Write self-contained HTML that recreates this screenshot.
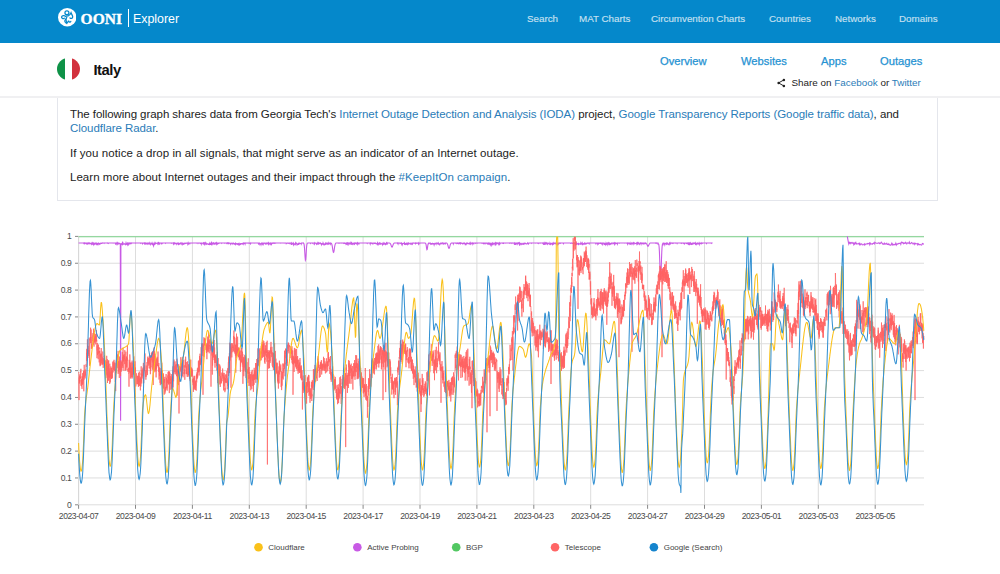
<!DOCTYPE html>
<html><head><meta charset="utf-8"><style>
*{margin:0;padding:0;box-sizing:border-box}
html,body{width:1000px;height:574px;overflow:hidden;background:#fff;font-family:"Liberation Sans",sans-serif;color:#222}
.hdr{position:absolute;left:0;top:0;width:1000px;height:43px;background:#0588cb}
.logo{position:absolute;left:57.5px;top:8.4px}
.ooni{position:absolute;left:80.5px;top:10px;font-family:"Liberation Serif",serif;font-weight:bold;font-size:15.5px;color:#fff;letter-spacing:0.1px;-webkit-text-stroke:0.35px #fff}
.bar{position:absolute;left:127.5px;top:9px;width:1.2px;height:18px;background:#fff}
.expl{position:absolute;left:133px;top:11.5px;font-size:12.4px;color:#fff}
.nav{position:absolute;top:13.2px;font-size:9.8px;color:#c6e0f1;-webkit-text-stroke:0.15px #c6e0f1}
.sub{position:absolute;left:0;top:43px;width:1000px;height:55px;border-bottom:2px solid #f0f0f2}
.flag{position:absolute;left:57px;top:58px;width:22.5px;height:22px;border-radius:50%;overflow:hidden;display:flex}
.flag div{flex:1}
.italy{position:absolute;left:93.5px;top:62px;font-size:14.8px;font-weight:bold;color:#111;letter-spacing:-0.5px}
.tab{position:absolute;top:55px;font-size:11.2px;color:#2592d2;-webkit-text-stroke:0.25px #2592d2}
.share{position:absolute;top:77px;left:791.5px;font-size:9.9px;color:#222;white-space:nowrap}
.shico{position:absolute;left:777px;top:77.5px}
.shico svg,.logo svg{display:block}
.share a{color:#2a7cb8;text-decoration:none}
.box{position:absolute;left:57px;top:98px;width:881px;height:103px;border:1px solid #e4e6ec;border-top:none}
.p{position:absolute;left:70px;font-size:11.5px;line-height:13.7px;color:#222;white-space:nowrap}
.p a{color:#2a7cb8;text-decoration:none}
.chart{position:absolute;left:0;top:0}
</style></head><body>
<div class="hdr">
<div class="logo"><svg width="18.5" height="18.5" viewBox="0 0 20 20"><circle cx="10" cy="10" r="10" fill="#fff"/>
<g fill="none" stroke="#0588cb" stroke-width="1.2" stroke-linecap="round" transform="translate(10 10) scale(1.13) translate(-9.6 -9.9)">
<circle cx="9.3" cy="5.6" r="1.9"/>
<path d="M9.4 7.5C9.6 9 9.2 10.5 8.4 11.6"/>
<path d="M8.2 9.2C6.8 8 4.6 8.3 4.2 9.6C3.9 11 5.6 11.6 6.8 10.8"/>
<path d="M10.6 8.6C12 8.2 12.6 6.8 13.2 5.6C13.6 7 14.8 8 14.8 9.6C14.8 11 13.2 11.4 12.2 10.6"/>
<path d="M8.4 11.6C7.2 12.6 6.8 14.2 8 15C9.2 15.6 10.6 14.6 10.8 13.2C11 14.6 12.6 15 13 13.8"/>
<path d="M8.4 12.5L9.2 16"/>
</g></svg></div>
<div class="ooni">OONI</div><div class="bar"></div><div class="expl">Explorer</div>
<div class="nav" style="left:527px">Search</div>
<div class="nav" style="left:579px">MAT Charts</div>
<div class="nav" style="left:651px">Circumvention Charts</div>
<div class="nav" style="left:769px">Countries</div>
<div class="nav" style="left:835px">Networks</div>
<div class="nav" style="left:899px">Domains</div>
</div>
<div class="sub"></div>
<div class="flag"><div style="background:#0f9247"></div><div style="background:#fff"></div><div style="background:#d2313d"></div></div>
<div class="italy">Italy</div>
<div class="tab" style="left:660px">Overview</div>
<div class="tab" style="left:741px">Websites</div>
<div class="tab" style="left:821px">Apps</div>
<div class="tab" style="left:880px">Outages</div>
<div class="shico"><svg width="9" height="10" viewBox="0 0 9 10"><circle cx="6.9" cy="1.9" r="1.25" fill="#222"/><circle cx="1.6" cy="4.9" r="1.25" fill="#222"/><circle cx="6.9" cy="8" r="1.25" fill="#222"/><path d="M6.9 1.9L1.6 4.9L6.9 8" stroke="#222" stroke-width="1" fill="none"/></svg></div><div class="share">Share on <a>Facebook</a> or <a>Twitter</a></div>
<div class="box"></div>
<div class="p" style="top:108px;letter-spacing:-0.06px">The following graph shares data from Georgia Tech's <a>Internet Outage Detection and Analysis (IODA)</a> project, <a>Google Transparency Reports (Google traffic data)</a>, and<br><a>Cloudflare Radar</a>.</div>
<div class="p" style="top:147px;letter-spacing:0.07px">If you notice a drop in all signals, that might serve as an indicator of an Internet outage.</div>
<div class="p" style="top:170.8px;letter-spacing:0.03px">Learn more about Internet outages and their impact through the <a>#KeepItOn campaign</a>.</div>
<svg class="chart" width="1000" height="574" viewBox="0 0 1000 574" font-family="Liberation Sans, sans-serif" font-size="8" fill="#4a4a4a"><line x1="78.6" y1="504.80" x2="924.0" y2="504.80" stroke="#dddddd" stroke-width="1"/><line x1="75.0" y1="504.80" x2="78.6" y2="504.80" stroke="#888" stroke-width="1"/><text x="71.39999999999999" y="507.50" text-anchor="end" font-size="8.6" letter-spacing="-0.4">0</text><line x1="78.6" y1="477.96" x2="924.0" y2="477.96" stroke="#dddddd" stroke-width="1"/><line x1="75.0" y1="477.96" x2="78.6" y2="477.96" stroke="#888" stroke-width="1"/><text x="71.39999999999999" y="480.66" text-anchor="end" font-size="8.6" letter-spacing="-0.4">0.1</text><line x1="78.6" y1="451.12" x2="924.0" y2="451.12" stroke="#dddddd" stroke-width="1"/><line x1="75.0" y1="451.12" x2="78.6" y2="451.12" stroke="#888" stroke-width="1"/><text x="71.39999999999999" y="453.82" text-anchor="end" font-size="8.6" letter-spacing="-0.4">0.2</text><line x1="78.6" y1="424.28" x2="924.0" y2="424.28" stroke="#dddddd" stroke-width="1"/><line x1="75.0" y1="424.28" x2="78.6" y2="424.28" stroke="#888" stroke-width="1"/><text x="71.39999999999999" y="426.98" text-anchor="end" font-size="8.6" letter-spacing="-0.4">0.3</text><line x1="78.6" y1="397.44" x2="924.0" y2="397.44" stroke="#dddddd" stroke-width="1"/><line x1="75.0" y1="397.44" x2="78.6" y2="397.44" stroke="#888" stroke-width="1"/><text x="71.39999999999999" y="400.14" text-anchor="end" font-size="8.6" letter-spacing="-0.4">0.4</text><line x1="78.6" y1="370.60" x2="924.0" y2="370.60" stroke="#dddddd" stroke-width="1"/><line x1="75.0" y1="370.60" x2="78.6" y2="370.60" stroke="#888" stroke-width="1"/><text x="71.39999999999999" y="373.30" text-anchor="end" font-size="8.6" letter-spacing="-0.4">0.5</text><line x1="78.6" y1="343.76" x2="924.0" y2="343.76" stroke="#dddddd" stroke-width="1"/><line x1="75.0" y1="343.76" x2="78.6" y2="343.76" stroke="#888" stroke-width="1"/><text x="71.39999999999999" y="346.46" text-anchor="end" font-size="8.6" letter-spacing="-0.4">0.6</text><line x1="78.6" y1="316.92" x2="924.0" y2="316.92" stroke="#dddddd" stroke-width="1"/><line x1="75.0" y1="316.92" x2="78.6" y2="316.92" stroke="#888" stroke-width="1"/><text x="71.39999999999999" y="319.62" text-anchor="end" font-size="8.6" letter-spacing="-0.4">0.7</text><line x1="78.6" y1="290.08" x2="924.0" y2="290.08" stroke="#dddddd" stroke-width="1"/><line x1="75.0" y1="290.08" x2="78.6" y2="290.08" stroke="#888" stroke-width="1"/><text x="71.39999999999999" y="292.78" text-anchor="end" font-size="8.6" letter-spacing="-0.4">0.8</text><line x1="78.6" y1="263.24" x2="924.0" y2="263.24" stroke="#dddddd" stroke-width="1"/><line x1="75.0" y1="263.24" x2="78.6" y2="263.24" stroke="#888" stroke-width="1"/><text x="71.39999999999999" y="265.94" text-anchor="end" font-size="8.6" letter-spacing="-0.4">0.9</text><line x1="78.6" y1="236.40" x2="924.0" y2="236.40" stroke="#dddddd" stroke-width="1"/><line x1="75.0" y1="236.40" x2="78.6" y2="236.40" stroke="#888" stroke-width="1"/><text x="71.39999999999999" y="239.10" text-anchor="end" font-size="8.6" letter-spacing="-0.4">1</text><line x1="78.60" y1="236.40" x2="78.60" y2="504.8" stroke="#dddddd" stroke-width="1"/><line x1="78.60" y1="504.8" x2="78.60" y2="508.8" stroke="#888" stroke-width="1"/><text x="78.60" y="519.4" text-anchor="middle" font-size="8.6" letter-spacing="-0.45">2023-04-07</text><line x1="135.50" y1="236.40" x2="135.50" y2="504.8" stroke="#dddddd" stroke-width="1"/><line x1="135.50" y1="504.8" x2="135.50" y2="508.8" stroke="#888" stroke-width="1"/><text x="135.50" y="519.4" text-anchor="middle" font-size="8.6" letter-spacing="-0.45">2023-04-09</text><line x1="192.40" y1="236.40" x2="192.40" y2="504.8" stroke="#dddddd" stroke-width="1"/><line x1="192.40" y1="504.8" x2="192.40" y2="508.8" stroke="#888" stroke-width="1"/><text x="192.40" y="519.4" text-anchor="middle" font-size="8.6" letter-spacing="-0.45">2023-04-11</text><line x1="249.30" y1="236.40" x2="249.30" y2="504.8" stroke="#dddddd" stroke-width="1"/><line x1="249.30" y1="504.8" x2="249.30" y2="508.8" stroke="#888" stroke-width="1"/><text x="249.30" y="519.4" text-anchor="middle" font-size="8.6" letter-spacing="-0.45">2023-04-13</text><line x1="306.20" y1="236.40" x2="306.20" y2="504.8" stroke="#dddddd" stroke-width="1"/><line x1="306.20" y1="504.8" x2="306.20" y2="508.8" stroke="#888" stroke-width="1"/><text x="306.20" y="519.4" text-anchor="middle" font-size="8.6" letter-spacing="-0.45">2023-04-15</text><line x1="363.10" y1="236.40" x2="363.10" y2="504.8" stroke="#dddddd" stroke-width="1"/><line x1="363.10" y1="504.8" x2="363.10" y2="508.8" stroke="#888" stroke-width="1"/><text x="363.10" y="519.4" text-anchor="middle" font-size="8.6" letter-spacing="-0.45">2023-04-17</text><line x1="420.00" y1="236.40" x2="420.00" y2="504.8" stroke="#dddddd" stroke-width="1"/><line x1="420.00" y1="504.8" x2="420.00" y2="508.8" stroke="#888" stroke-width="1"/><text x="420.00" y="519.4" text-anchor="middle" font-size="8.6" letter-spacing="-0.45">2023-04-19</text><line x1="476.90" y1="236.40" x2="476.90" y2="504.8" stroke="#dddddd" stroke-width="1"/><line x1="476.90" y1="504.8" x2="476.90" y2="508.8" stroke="#888" stroke-width="1"/><text x="476.90" y="519.4" text-anchor="middle" font-size="8.6" letter-spacing="-0.45">2023-04-21</text><line x1="533.80" y1="236.40" x2="533.80" y2="504.8" stroke="#dddddd" stroke-width="1"/><line x1="533.80" y1="504.8" x2="533.80" y2="508.8" stroke="#888" stroke-width="1"/><text x="533.80" y="519.4" text-anchor="middle" font-size="8.6" letter-spacing="-0.45">2023-04-23</text><line x1="590.70" y1="236.40" x2="590.70" y2="504.8" stroke="#dddddd" stroke-width="1"/><line x1="590.70" y1="504.8" x2="590.70" y2="508.8" stroke="#888" stroke-width="1"/><text x="590.70" y="519.4" text-anchor="middle" font-size="8.6" letter-spacing="-0.45">2023-04-25</text><line x1="647.60" y1="236.40" x2="647.60" y2="504.8" stroke="#dddddd" stroke-width="1"/><line x1="647.60" y1="504.8" x2="647.60" y2="508.8" stroke="#888" stroke-width="1"/><text x="647.60" y="519.4" text-anchor="middle" font-size="8.6" letter-spacing="-0.45">2023-04-27</text><line x1="704.50" y1="236.40" x2="704.50" y2="504.8" stroke="#dddddd" stroke-width="1"/><line x1="704.50" y1="504.8" x2="704.50" y2="508.8" stroke="#888" stroke-width="1"/><text x="704.50" y="519.4" text-anchor="middle" font-size="8.6" letter-spacing="-0.45">2023-04-29</text><line x1="761.40" y1="236.40" x2="761.40" y2="504.8" stroke="#dddddd" stroke-width="1"/><line x1="761.40" y1="504.8" x2="761.40" y2="508.8" stroke="#888" stroke-width="1"/><text x="761.40" y="519.4" text-anchor="middle" font-size="8.6" letter-spacing="-0.45">2023-05-01</text><line x1="818.30" y1="236.40" x2="818.30" y2="504.8" stroke="#dddddd" stroke-width="1"/><line x1="818.30" y1="504.8" x2="818.30" y2="508.8" stroke="#888" stroke-width="1"/><text x="818.30" y="519.4" text-anchor="middle" font-size="8.6" letter-spacing="-0.45">2023-05-03</text><line x1="875.20" y1="236.40" x2="875.20" y2="504.8" stroke="#dddddd" stroke-width="1"/><line x1="875.20" y1="504.8" x2="875.20" y2="508.8" stroke="#888" stroke-width="1"/><text x="875.20" y="519.4" text-anchor="middle" font-size="8.6" letter-spacing="-0.45">2023-05-05</text><line x1="78.6" y1="236.40" x2="78.6" y2="504.8" stroke="#d8d8d8" stroke-width="1"/><path d="M78.6 236.7L924.0 236.7" stroke="#7dd48b" stroke-width="1.1" fill="none"/><path d="M78.6 243.0L78.9 243.0L79.2 243.0L79.5 243.0L79.8 243.0L80.1 243.0L80.4 243.0L80.7 243.0L81.0 243.0L81.3 243.0L81.6 243.0L81.9 243.0L82.2 243.0L82.5 243.0L82.8 243.0L83.1 243.0L83.4 243.1L83.7 243.0L84.0 243.5L84.3 243.2L84.6 243.6L84.9 243.0L85.2 243.3L85.5 243.0L85.8 243.0L86.1 243.0L86.4 244.3L86.7 243.0L87.0 243.0L87.3 243.0L87.6 243.8L87.9 243.2L88.2 243.6L88.5 243.5L88.8 243.0L89.1 243.6L89.4 243.2L89.7 243.0L90.0 243.6L90.3 243.4L90.6 243.3L90.9 243.4L91.2 244.2L91.5 243.5L91.8 243.0L92.1 244.6L92.4 243.1L92.7 243.6L93.0 244.1L93.3 243.0L93.6 243.2L93.9 244.5L94.2 243.7L94.5 243.4L94.8 243.9L95.1 243.3L95.4 243.8L95.7 243.3L96.0 243.0L96.3 244.2L96.6 243.6L96.9 244.0L97.2 243.6L97.5 244.5L97.8 244.0L98.1 243.8L98.4 243.0L98.7 243.0L99.0 244.4L99.3 244.0L99.6 243.0L99.9 244.7L100.2 243.7L100.5 243.4L100.8 243.0L101.1 243.0L101.4 243.4L101.7 243.4L102.0 243.2L102.3 243.0L102.6 243.2L102.9 243.1L103.2 243.0L103.5 243.0L103.8 243.0L104.1 243.4L104.4 243.0L104.7 243.0L105.0 243.0L105.3 243.0L105.6 243.0L105.9 243.0L106.2 243.0L106.5 243.0L106.8 243.0L107.1 243.0L107.4 243.1L107.7 243.0L108.0 243.3L108.3 243.5L108.6 243.0L108.9 243.0L109.2 243.0L109.5 243.0L109.8 243.0L110.1 243.0L110.4 243.0L110.7 243.0L111.0 243.0L111.3 243.0L111.6 243.0L111.9 243.0L112.2 243.0L112.5 243.0L112.8 243.0L113.1 243.1L113.4 243.0L113.7 243.0L114.0 243.0L114.3 243.0L114.6 243.0L114.9 243.0L115.2 243.0L115.5 244.0L115.8 243.5L116.1 243.0L116.4 244.3L116.7 243.0L117.0 244.1L117.3 243.0L117.6 243.7L117.9 243.0L118.2 243.1L118.5 244.3L118.8 243.0L119.1 243.0L119.4 243.5L119.7 243.6L120.0 243.6L120.3 244.2L120.6 420.8L120.9 244.0L121.2 243.7L121.5 244.2L121.8 244.1L122.1 244.5L122.4 243.0L122.7 243.9L123.0 243.1L123.3 243.8L123.6 244.2L123.9 244.0L124.2 244.1L124.5 243.8L124.8 244.0L125.1 243.9L125.4 244.6L125.7 244.2L126.0 243.0L126.3 244.1L126.6 244.3L126.9 243.4L127.2 243.0L127.5 244.5L127.8 243.6L128.1 243.9L128.4 244.5L128.7 243.0L129.0 243.3L129.3 243.2L129.6 243.7L129.9 243.0L130.2 243.5L130.5 243.2L130.8 243.7L131.1 243.7L131.4 243.0L131.7 243.2L132.0 243.0L132.3 243.0L132.6 243.0L132.9 243.0L133.2 243.0L133.5 243.0L133.8 243.0L134.1 243.0L134.4 243.0L134.7 243.0L135.0 243.0L135.3 243.0L135.6 243.2L135.9 243.0L136.2 243.0L136.5 243.0L136.8 243.0L137.1 243.0L137.4 243.0L137.7 243.0L138.0 243.0L138.3 243.0L138.6 243.0L138.9 243.0L139.2 243.0L139.5 243.0L139.8 243.0L140.1 243.0L140.4 243.0L140.7 243.4L141.0 243.0L141.3 243.0L141.6 243.0L141.9 243.0L142.2 243.5L142.5 243.9L142.8 243.0L143.1 243.0L143.4 243.0L143.7 243.0L144.0 243.3L144.3 243.8L144.6 243.0L144.9 243.5L145.2 244.0L145.5 243.0L145.8 243.1L146.1 243.0L146.4 243.8L146.7 243.7L147.0 243.9L147.3 243.9L147.6 243.3L147.9 243.9L148.2 243.2L148.5 243.3L148.8 243.0L149.1 244.5L149.4 243.0L149.7 243.7L150.0 243.7L150.3 244.6L150.6 244.0L150.9 243.3L151.2 243.8L151.5 243.7L151.8 244.0L152.1 243.0L152.4 243.8L152.7 245.2L153.0 244.2L153.3 245.0L153.6 245.8L153.9 244.1L154.2 243.0L154.5 243.7L154.8 244.4L155.1 244.2L155.4 243.0L155.7 243.5L156.0 243.5L156.3 243.5L156.6 243.4L156.9 243.0L157.2 243.0L157.5 243.2L157.8 243.9L158.1 243.0L158.4 243.6L158.7 243.0L159.0 243.9L159.3 243.1L159.6 243.0L159.9 243.7L160.2 243.0L160.5 243.0L160.8 243.0L161.1 243.0L161.4 243.0L161.7 244.3L162.0 243.0L162.3 243.0L162.6 243.0L162.9 243.1L163.2 243.0L163.5 243.0L163.8 243.0L164.1 243.0L164.4 243.0L164.7 243.0L165.0 243.0L165.3 243.0L165.6 243.4L165.9 243.0L166.2 243.0L166.5 243.0L166.8 243.0L167.1 243.0L167.4 243.0L167.7 243.0L168.0 243.0L168.3 243.0L168.6 243.0L168.9 243.0L169.2 243.0L169.5 243.0L169.8 243.0L170.1 243.0L170.4 243.0L170.7 243.0L171.0 243.0L171.3 243.3L171.6 243.0L171.9 243.0L172.2 243.0L172.5 243.0L172.8 243.0L173.1 243.0L173.4 244.0L173.7 243.1L174.0 243.6L174.3 243.0L174.6 243.6L174.9 243.0L175.2 243.0L175.5 243.5L175.8 243.7L176.1 243.3L176.4 243.4L176.7 244.1L177.0 243.2L177.3 243.0L177.6 243.8L177.9 243.8L178.2 244.3L178.5 243.5L178.8 244.5L179.1 244.4L179.4 243.0L179.7 244.3L180.0 243.1L180.3 243.0L180.6 243.6L180.9 243.4L181.2 243.0L181.5 243.9L181.8 244.1L182.1 244.6L182.4 243.7L182.7 243.0L183.0 243.1L183.3 244.3L183.6 244.2L183.9 243.9L184.2 243.4L184.5 243.7L184.8 243.3L185.1 243.2L185.4 243.6L185.7 243.4L186.0 243.2L186.3 243.3L186.6 243.0L186.9 243.0L187.2 243.0L187.5 243.0L187.8 244.1L188.1 243.0L188.4 244.1L188.7 243.7L189.0 243.0L189.3 243.0L189.6 243.0L189.9 243.7L190.2 243.0L190.5 243.0L190.8 243.0L191.1 243.0L191.4 243.0L191.7 243.0L192.0 243.1L192.3 243.0L192.6 243.0L192.9 243.0L193.2 243.0L193.5 243.0L193.8 243.0L194.1 243.0L194.4 243.0L194.7 243.0L195.0 243.0L195.3 243.0L195.6 243.0L195.9 243.0L196.2 243.0L196.5 243.1L196.8 243.0L197.1 243.0L197.4 243.0L197.7 243.0L198.0 243.5L198.3 243.0L198.6 243.0L198.9 243.0L199.2 243.0L199.5 243.0L199.8 243.0L200.1 243.4L200.4 243.3L200.7 243.0L201.0 243.0L201.3 244.1L201.6 243.0L201.9 243.0L202.2 243.0L202.5 243.3L202.8 243.3L203.1 243.9L203.4 243.0L203.7 243.4L204.0 243.0L204.3 243.8L204.6 243.3L204.9 244.5L205.2 243.7L205.5 243.0L205.8 244.4L206.1 243.0L206.4 243.4L206.7 244.3L207.0 244.0L207.3 244.0L207.6 243.8L207.9 244.1L208.2 244.3L208.5 244.0L208.8 244.4L209.1 244.6L209.4 243.8L209.7 243.2L210.0 244.8L210.3 243.8L210.6 244.2L210.9 244.4L211.2 243.2L211.5 244.0L211.8 243.0L212.1 244.1L212.4 243.3L212.7 243.7L213.0 244.0L213.3 243.1L213.6 243.5L213.9 243.0L214.2 243.4L214.5 244.0L214.8 243.3L215.1 243.2L215.4 243.0L215.7 243.7L216.0 243.1L216.3 244.1L216.6 243.0L216.9 243.6L217.2 244.0L217.5 243.0L217.8 243.0L218.1 243.6L218.4 243.3L218.7 243.1L219.0 243.3L219.3 243.0L219.6 243.0L219.9 243.0L220.2 243.0L220.5 243.0L220.8 243.0L221.1 243.0L221.4 243.0L221.7 243.4L222.0 243.0L222.3 243.0L222.6 243.0L222.9 243.0L223.2 243.0L223.5 243.0L223.8 243.0L224.1 243.0L224.4 243.2L224.7 243.0L225.0 243.1L225.3 243.0L225.6 243.0L225.9 243.0L226.2 243.2L226.5 243.0L226.8 243.0L227.1 244.2L227.4 243.0L227.7 243.2L228.0 243.0L228.3 243.3L228.6 243.0L228.9 243.7L229.2 243.4L229.5 243.0L229.8 243.0L230.1 243.2L230.4 243.5L230.7 244.2L231.0 243.3L231.3 243.1L231.6 243.2L231.9 243.3L232.2 244.0L232.5 243.4L232.8 243.4L233.1 243.0L233.4 243.0L233.7 243.6L234.0 244.0L234.3 243.6L234.6 244.0L234.9 244.1L235.2 243.7L235.5 244.4L235.8 243.3L236.1 243.8L236.4 243.6L236.7 243.9L237.0 244.2L237.3 244.4L237.6 243.9L237.9 244.1L238.2 243.6L238.5 243.8L238.8 244.6L239.1 243.7L239.4 244.6L239.7 244.1L240.0 243.9L240.3 245.0L240.6 243.6L240.9 243.5L241.2 243.6L241.5 243.8L241.8 243.7L242.1 244.1L242.4 243.6L242.7 243.7L243.0 243.2L243.3 244.0L243.6 243.0L243.9 243.0L244.2 243.2L244.5 243.3L244.8 243.0L245.1 244.0L245.4 243.0L245.7 243.0L246.0 243.0L246.3 243.0L246.6 243.1L246.9 243.0L247.2 243.0L247.5 243.0L247.8 243.0L248.1 243.4L248.4 243.0L248.7 243.0L249.0 243.0L249.3 243.0L249.6 243.3L249.9 243.0L250.2 243.0L250.5 243.8L250.8 243.0L251.1 243.1L251.4 243.0L251.7 243.0L252.0 243.0L252.3 243.0L252.6 243.0L252.9 243.0L253.2 243.0L253.5 243.0L253.8 243.0L254.1 243.1L254.4 243.0L254.7 243.0L255.0 243.0L255.3 243.0L255.6 243.0L255.9 243.0L256.2 243.0L256.5 243.0L256.8 243.0L257.1 243.0L257.4 243.0L257.7 243.0L258.0 243.0L258.3 243.5L258.6 244.0L258.9 243.0L259.2 243.0L259.5 243.0L259.8 244.2L260.1 243.4L260.4 243.6L260.7 243.8L261.0 244.8L261.3 243.6L261.6 243.0L261.9 243.2L262.2 243.9L262.5 243.5L262.8 243.1L263.1 245.4L263.4 243.7L263.7 243.3L264.0 243.3L264.3 243.0L264.6 243.0L264.9 243.6L265.2 243.6L265.5 243.3L265.8 244.1L266.1 243.8L266.4 243.2L266.7 243.0L267.0 243.9L267.3 243.8L267.6 243.6L267.9 243.0L268.2 243.7L268.5 243.0L268.8 244.3L269.1 243.7L269.4 243.7L269.7 243.0L270.0 243.0L270.3 244.4L270.6 244.0L270.9 243.2L271.2 243.7L271.5 244.3L271.8 243.0L272.1 243.0L272.4 243.0L272.7 243.4L273.0 243.0L273.3 243.1L273.6 243.0L273.9 243.4L274.2 243.4L274.5 243.0L274.8 243.2L275.1 243.0L275.4 243.0L275.7 243.2L276.0 243.0L276.3 243.0L276.6 243.0L276.9 243.0L277.2 243.0L277.5 243.0L277.8 243.0L278.1 243.0L278.4 243.0L278.7 243.0L279.0 243.0L279.3 243.0L279.6 243.0L279.9 243.0L280.2 243.0L280.5 243.0L280.8 243.2L281.1 243.1L281.4 243.0L281.7 243.0L282.0 243.0L282.3 243.0L282.6 243.0L282.9 243.0L283.2 243.0L283.5 243.0L283.8 243.0L284.1 243.1L284.4 243.0L284.7 243.0L285.0 243.0L285.3 243.0L285.6 243.0L285.9 243.0L286.2 243.8L286.5 243.5L286.8 243.1L287.1 243.0L287.4 243.0L287.7 243.1L288.0 243.0L288.3 243.0L288.6 243.3L288.9 243.5L289.2 243.0L289.5 243.0L289.8 243.0L290.1 243.7L290.4 243.0L290.7 243.0L291.0 243.2L291.3 243.1L291.6 244.9L291.9 243.2L292.2 243.8L292.5 243.4L292.8 243.3L293.1 244.0L293.4 244.8L293.7 243.5L294.0 244.3L294.3 244.0L294.6 244.2L294.9 244.0L295.2 245.3L295.5 243.0L295.8 243.6L296.1 243.0L296.4 243.0L296.7 243.7L297.0 244.8L297.3 244.2L297.6 244.4L297.9 243.9L298.2 243.5L298.5 244.8L298.8 243.2L299.1 244.4L299.4 243.2L299.7 243.4L300.0 243.5L300.3 243.3L300.6 243.5L300.9 243.5L301.2 244.1L301.5 243.0L301.8 243.0L302.1 243.0L302.4 243.0L302.7 243.0L303.0 243.2L303.3 243.0L303.6 243.2L303.9 243.7L304.2 245.2L304.5 248.1L304.8 252.6L305.1 257.4L305.4 260.3L305.7 259.7L306.0 255.9L306.3 251.0L306.6 246.9L306.9 244.5L307.2 243.5L307.5 243.1L307.8 243.0L308.1 243.0L308.4 243.0L308.7 243.0L309.0 243.0L309.3 243.0L309.6 243.0L309.9 243.0L310.2 243.0L310.5 243.5L310.8 243.0L311.1 243.0L311.4 243.0L311.7 243.0L312.0 243.0L312.3 243.4L312.6 243.0L312.9 243.0L313.2 243.0L313.5 243.0L313.8 243.2L314.1 244.0L314.4 243.0L314.7 243.7L315.0 243.2L315.3 243.0L315.6 243.0L315.9 243.0L316.2 243.2L316.5 244.1L316.8 243.6L317.1 243.8L317.4 244.0L317.7 243.0L318.0 243.8L318.3 244.7L318.6 243.0L318.9 243.5L319.2 243.3L319.5 243.5L319.8 243.2L320.1 243.6L320.4 243.0L320.7 243.4L321.0 243.5L321.3 243.5L321.6 244.7L321.9 243.9L322.2 243.9L322.5 243.6L322.8 244.7L323.1 243.0L323.4 243.7L323.7 244.6L324.0 244.9L324.3 243.9L324.6 243.8L324.9 244.2L325.2 243.6L325.5 244.1L325.8 243.3L326.1 244.1L326.4 243.6L326.7 243.0L327.0 243.0L327.3 244.1L327.6 243.7L327.9 243.9L328.2 243.0L328.5 244.0L328.8 243.5L329.1 243.2L329.4 243.7L329.7 243.7L330.0 243.3L330.3 244.3L330.6 243.8L330.9 243.1L331.2 243.2L331.5 243.6L331.8 244.3L332.1 245.4L332.4 247.1L332.7 249.1L333.0 251.0L333.3 252.2L333.6 252.4L333.9 251.5L334.2 249.8L334.5 247.7L334.8 245.9L335.1 244.6L335.4 243.8L335.7 243.3L336.0 243.1L336.3 243.0L336.6 243.0L336.9 243.0L337.2 243.0L337.5 243.0L337.8 243.0L338.1 243.0L338.4 243.0L338.7 243.0L339.0 243.4L339.3 243.0L339.6 243.0L339.9 243.0L340.2 243.0L340.5 243.0L340.8 243.0L341.1 243.2L341.4 243.0L341.7 243.0L342.0 243.0L342.3 243.0L342.6 243.0L342.9 243.0L343.2 243.4L343.5 243.0L343.8 243.0L344.1 243.0L344.4 243.3L344.7 243.0L345.0 243.3L345.3 243.1L345.6 243.3L345.9 244.0L346.2 243.3L346.5 243.0L346.8 244.0L347.1 243.6L347.4 243.1L347.7 244.2L348.0 243.4L348.3 244.3L348.6 243.0L348.9 243.0L349.2 243.0L349.5 243.8L349.8 243.3L350.1 243.7L350.4 243.7L350.7 243.0L351.0 244.6L351.3 243.1L351.6 243.8L351.9 243.0L352.2 243.6L352.5 244.2L352.8 243.6L353.1 243.3L353.4 243.7L353.7 243.4L354.0 244.0L354.3 245.0L354.6 243.0L354.9 243.1L355.2 243.4L355.5 243.4L355.8 243.0L356.1 243.7L356.4 243.8L356.7 243.4L357.0 243.0L357.3 244.1L357.6 243.0L357.9 243.5L358.2 243.8L358.5 243.0L358.8 243.0L359.1 243.7L359.4 243.1L359.7 243.0L360.0 243.0L360.3 243.0L360.6 243.0L360.9 243.0L361.2 243.0L361.5 243.0L361.8 243.0L362.1 243.0L362.4 243.0L362.7 243.0L363.0 243.0L363.3 243.0L363.6 243.0L363.9 243.0L364.2 243.0L364.5 243.0L364.8 243.0L365.1 243.0L365.4 243.0L365.7 243.0L366.0 243.0L366.3 243.0L366.6 243.0L366.9 243.0L367.2 243.5L367.5 243.0L367.8 243.0L368.1 243.0L368.4 243.0L368.7 243.0L369.0 243.0L369.3 243.0L369.6 243.0L369.9 243.0L370.2 244.0L370.5 243.0L370.8 243.3L371.1 243.0L371.4 243.0L371.7 243.4L372.0 243.0L372.3 243.5L372.6 243.5L372.9 244.0L373.2 243.1L373.5 243.0L373.8 243.0L374.1 243.3L374.4 243.0L374.7 243.3L375.0 243.4L375.3 243.0L375.6 243.0L375.9 243.7L376.2 243.7L376.5 243.7L376.8 243.5L377.1 244.2L377.4 243.0L377.7 243.9L378.0 243.4L378.3 244.3L378.6 243.5L378.9 243.5L379.2 244.0L379.5 243.0L379.8 243.5L380.1 243.0L380.4 243.2L380.7 244.2L381.0 244.0L381.3 243.5L381.6 243.7L381.9 243.7L382.2 243.9L382.5 244.8L382.8 243.8L383.1 245.0L383.4 243.3L383.7 244.0L384.0 243.9L384.3 243.6L384.6 243.2L384.9 244.3L385.2 244.4L385.5 243.9L385.8 244.5L386.1 243.8L386.4 243.0L386.7 243.7L387.0 243.0L387.3 243.8L387.6 243.0L387.9 243.0L388.2 243.0L388.5 243.0L388.8 243.0L389.1 243.0L389.4 243.0L389.7 243.2L390.0 243.2L390.3 243.5L390.6 244.0L390.9 244.8L391.2 245.6L391.5 246.5L391.8 247.0L392.1 247.1L392.4 246.7L392.7 245.9L393.0 245.1L393.3 244.3L393.6 243.7L393.9 243.3L394.2 243.1L394.5 243.0L394.8 243.0L395.1 243.0L395.4 243.0L395.7 243.0L396.0 243.0L396.3 243.0L396.6 243.0L396.9 243.0L397.2 243.1L397.5 243.4L397.8 243.0L398.1 243.9L398.4 243.0L398.7 243.0L399.0 243.0L399.3 243.0L399.6 243.0L399.9 243.5L400.2 243.0L400.5 243.0L400.8 243.4L401.1 243.6L401.4 243.1L401.7 244.1L402.0 243.0L402.3 244.7L402.6 243.9L402.9 243.4L403.2 243.5L403.5 243.3L403.8 243.2L404.1 243.6L404.4 243.0L404.7 244.9L405.0 243.6L405.3 244.1L405.6 243.6L405.9 243.5L406.2 244.3L406.5 244.1L406.8 243.2L407.1 243.5L407.4 244.2L407.7 243.0L408.0 243.0L408.3 244.7L408.6 243.6L408.9 243.0L409.2 243.3L409.5 243.6L409.8 243.9L410.1 244.1L410.4 243.8L410.7 244.0L411.0 243.2L411.3 243.9L411.6 243.9L411.9 244.3L412.2 243.5L412.5 244.0L412.8 243.5L413.1 243.0L413.4 243.1L413.7 243.0L414.0 243.0L414.3 243.1L414.6 243.2L414.9 243.3L415.2 243.0L415.5 243.7L415.8 243.0L416.1 243.0L416.4 243.3L416.7 243.1L417.0 243.1L417.3 243.0L417.6 243.1L417.9 243.0L418.2 243.0L418.5 243.9L418.8 243.0L419.1 243.7L419.4 243.0L419.7 243.0L420.0 243.0L420.3 243.1L420.6 243.0L420.9 243.0L421.2 243.0L421.5 243.0L421.8 243.0L422.1 243.0L422.4 243.0L422.7 243.0L423.0 243.0L423.3 243.0L423.6 243.0L423.9 243.0L424.2 243.0L424.5 243.0L424.8 243.0L425.1 243.0L425.4 243.1L425.7 243.5L426.0 244.4L426.3 246.2L426.6 248.3L426.9 249.7L427.2 249.4L427.5 247.6L427.8 245.5L428.1 244.0L428.4 243.3L428.7 243.1L429.0 243.5L429.3 243.1L429.6 243.0L429.9 243.0L430.2 243.4L430.5 243.3L430.8 244.3L431.1 244.0L431.4 243.0L431.7 244.7L432.0 243.6L432.3 243.3L432.6 243.7L432.9 244.0L433.2 243.6L433.5 243.6L433.8 243.7L434.1 244.9L434.4 243.8L434.7 244.2L435.0 244.1L435.3 243.6L435.6 243.3L435.9 243.2L436.2 244.1L436.5 243.2L436.8 243.0L437.1 243.0L437.4 243.0L437.7 243.9L438.0 243.9L438.3 243.2L438.6 244.6L438.9 243.6L439.2 244.0L439.5 243.9L439.8 244.7L440.1 244.2L440.4 243.6L440.7 243.0L441.0 243.0L441.3 243.5L441.6 243.5L441.9 243.9L442.2 243.0L442.5 243.4L442.8 243.0L443.1 243.0L443.4 243.1L443.7 244.0L444.0 243.5L444.3 243.8L444.6 243.6L444.9 243.0L445.2 243.0L445.5 243.7L445.8 243.0L446.1 243.0L446.4 243.0L446.7 243.1L447.0 243.3L447.3 243.7L447.6 244.4L447.9 245.4L448.2 246.5L448.5 247.6L448.8 248.3L449.1 248.4L449.4 247.9L449.7 246.9L450.0 245.7L450.3 244.7L450.6 243.9L450.9 243.4L451.2 243.2L451.5 243.0L451.8 243.0L452.1 243.0L452.4 243.0L452.7 243.0L453.0 243.0L453.3 243.9L453.6 243.0L453.9 243.0L454.2 243.0L454.5 243.0L454.8 243.0L455.1 243.0L455.4 243.2L455.7 243.0L456.0 243.0L456.3 243.5L456.6 243.0L456.9 243.0L457.2 243.3L457.5 243.0L457.8 243.2L458.1 243.6L458.4 243.0L458.7 243.0L459.0 243.5L459.3 243.0L459.6 243.3L459.9 243.0L460.2 243.8L460.5 243.0L460.8 243.5L461.1 243.5L461.4 243.0L461.7 243.0L462.0 243.0L462.3 243.4L462.6 244.0L462.9 244.0L463.2 243.4L463.5 243.3L463.8 243.0L464.1 243.5L464.4 243.1L464.7 243.0L465.0 243.7L465.3 244.7L465.6 244.5L465.9 244.7L466.2 243.0L466.5 244.3L466.8 243.0L467.1 243.3L467.4 243.0L467.7 243.0L468.0 243.7L468.3 243.7L468.6 243.5L468.9 243.4L469.2 243.8L469.5 243.5L469.8 243.0L470.1 244.5L470.4 243.1L470.7 243.9L471.0 243.1L471.3 243.0L471.6 243.1L471.9 243.0L472.2 244.0L472.5 243.0L472.8 243.3L473.1 243.0L473.4 243.0L473.7 244.4L474.0 243.2L474.3 243.0L474.6 243.0L474.9 243.0L475.2 243.0L475.5 243.4L475.8 243.0L476.1 243.0L476.4 243.0L476.7 243.0L477.0 243.3L477.3 243.0L477.6 243.0L477.9 243.0L478.2 243.0L478.5 243.0L478.8 243.0L479.1 243.0L479.4 243.0L479.7 243.0L480.0 243.0L480.3 243.0L480.6 243.0L480.9 243.0L481.2 243.0L481.5 243.1L481.8 243.0L482.1 243.0L482.4 243.2L482.7 243.2L483.0 243.0L483.3 243.6L483.6 243.3L483.9 243.6L484.2 243.0L484.5 243.0L484.8 243.0L485.1 243.7L485.4 243.2L485.7 243.0L486.0 243.0L486.3 243.1L486.6 243.0L486.9 243.2L487.2 243.8L487.5 244.0L487.8 243.0L488.1 243.0L488.4 244.2L488.7 244.0L489.0 243.0L489.3 243.1L489.6 243.9L489.9 243.1L490.2 243.2L490.5 244.7L490.8 243.8L491.1 243.4L491.4 244.0L491.7 245.1L492.0 243.9L492.3 243.3L492.6 243.0L492.9 245.2L493.2 243.0L493.5 244.5L493.8 243.2L494.1 243.0L494.4 243.1L494.7 243.7L495.0 244.5L495.3 243.3L495.6 244.2L495.9 245.3L496.2 243.0L496.5 243.2L496.8 243.0L497.1 244.2L497.4 243.0L497.7 243.0L498.0 243.0L498.3 243.4L498.6 244.1L498.9 243.4L499.2 244.7L499.5 244.3L499.8 243.1L500.1 243.7L500.4 243.2L500.7 243.1L501.0 243.0L501.3 243.0L501.6 243.0L501.9 243.0L502.2 243.2L502.5 243.0L502.8 243.0L503.1 243.4L503.4 243.0L503.7 243.3L504.0 243.0L504.3 243.0L504.6 243.0L504.9 243.0L505.2 243.0L505.5 243.0L505.8 243.1L506.1 243.0L506.4 243.0L506.7 243.0L507.0 243.0L507.3 243.0L507.6 243.0L507.9 243.0L508.2 243.0L508.5 243.0L508.8 243.0L509.1 243.0L509.4 243.0L509.7 243.3L510.0 243.0L510.3 243.2L510.6 243.0L510.9 243.0L511.2 243.0L511.5 243.0L511.8 243.4L512.1 243.0L512.4 243.1L512.7 243.0L513.0 243.0L513.3 243.0L513.6 243.0L513.9 243.0L514.2 243.8L514.5 243.0L514.8 243.4L515.1 244.8L515.4 243.0L515.7 243.0L516.0 243.8L516.3 243.1L516.6 243.4L516.9 243.2L517.2 244.3L517.5 243.8L517.8 243.1L518.1 243.3L518.4 243.0L518.7 243.5L519.0 243.0L519.3 244.1L519.6 243.5L519.9 244.9L520.2 244.5L520.5 243.0L520.8 244.4L521.1 243.4L521.4 243.8L521.7 244.4L522.0 244.0L522.3 244.1L522.6 244.1L522.9 243.3L523.2 243.3L523.5 244.1L523.8 244.3L524.1 243.5L524.4 243.7L524.7 243.0L525.0 243.0L525.3 243.1L525.6 243.6L525.9 243.6L526.2 244.0L526.5 244.0L526.8 244.0L527.1 243.6L527.4 243.6L527.7 243.0L528.0 243.5L528.3 243.3L528.6 243.9L528.9 243.0L529.2 243.0L529.5 243.0L529.8 243.0L530.1 243.0L530.4 243.0L530.7 243.0L531.0 243.0L531.3 243.4L531.6 243.0L531.9 243.0L532.2 243.0L532.5 243.0L532.8 243.0L533.1 243.0L533.4 243.0L533.7 243.0L534.0 243.0L534.3 243.0L534.6 243.0L534.9 243.0L535.2 243.0L535.5 243.1L535.8 243.0L536.1 243.0L536.4 243.0L536.7 243.0L537.0 243.0L537.3 243.0L537.6 243.0L537.9 243.3L538.2 243.0L538.5 243.0L538.8 243.5L539.1 243.0L539.4 243.0L539.7 243.0L540.0 243.0L540.3 243.2L540.6 243.0L540.9 243.0L541.2 243.0L541.5 243.0L541.8 243.0L542.1 243.0L542.4 243.0L542.7 243.4L543.0 243.0L543.3 243.8L543.6 243.0L543.9 243.1L544.2 244.8L544.5 243.2L544.8 243.9L545.1 243.5L545.4 243.0L545.7 244.1L546.0 244.1L546.3 243.0L546.6 243.4L546.9 243.0L547.2 243.3L547.5 244.2L547.8 243.7L548.1 243.0L548.4 243.1L548.7 243.7L549.0 243.7L549.3 243.8L549.6 244.1L549.9 243.0L550.2 243.8L550.5 244.5L550.8 244.1L551.1 243.3L551.4 243.3L551.7 243.8L552.0 244.2L552.3 243.7L552.6 244.8L552.9 244.5L553.2 243.1L553.5 243.9L553.8 243.3L554.1 243.0L554.4 243.1L554.7 243.5L555.0 243.0L555.3 243.0L555.6 243.6L555.9 243.0L556.2 243.0L556.5 243.8L556.8 243.1L557.1 243.2L557.4 244.3L557.7 243.1L558.0 243.1L558.3 243.2L558.6 243.9L558.9 243.0L559.2 243.0L559.5 243.0L559.8 243.4L560.1 243.0L560.4 243.3L560.7 243.0L561.0 243.0L561.3 243.0L561.6 243.0L561.9 243.0L562.2 243.0L562.5 243.0L562.8 243.0L563.1 243.0L563.4 243.7L563.7 243.0L564.0 243.0L564.3 243.0L564.6 243.0L564.9 243.0L565.2 243.0L565.5 243.0L565.8 243.0L566.1 243.0L566.4 243.0L566.7 243.0L567.0 243.0L567.3 243.0L567.6 243.0L567.9 243.0L568.2 243.0L568.5 243.0L568.8 243.0L569.1 243.0L569.4 243.0L569.7 243.0L570.0 243.0L570.3 243.0L570.6 243.4L570.9 243.3L571.2 243.2L571.5 243.0L571.8 243.2L572.1 243.3L572.4 243.4L572.7 243.2L573.0 243.0L573.3 243.1L573.6 243.0L573.9 243.2L574.2 243.0L574.5 243.2L574.8 243.1L575.1 244.4L575.4 243.6L575.7 243.6L576.0 243.8L576.3 245.0L576.6 243.1L576.9 243.9L577.2 244.0L577.5 243.9L577.8 243.9L578.1 243.5L578.4 244.6L578.7 244.4L579.0 243.6L579.3 243.7L579.6 244.0L579.9 244.1L580.2 244.3L580.5 243.8L580.8 243.0L581.1 244.4L581.4 243.0L581.7 243.1L582.0 243.9L582.3 243.1L582.6 244.5L582.9 244.6L583.2 244.3L583.5 243.7L583.8 243.6L584.1 243.7L584.4 243.2L584.7 244.6L585.0 243.0L585.3 244.0L585.6 243.5L585.9 243.3L586.2 243.7L586.5 243.8L586.8 243.5L587.1 243.0L587.4 243.0L587.7 243.0L588.0 243.3L588.3 243.1L588.6 243.2L588.9 243.0L589.2 243.8L589.5 243.0L589.8 243.0L590.1 243.0L590.4 243.0L590.7 243.0L591.0 243.0L591.3 243.0L591.6 243.0L591.9 243.0L592.2 243.0L592.5 243.0L592.8 243.0L593.1 243.0L593.4 243.0L593.7 243.0L594.0 243.0L594.3 243.0L594.6 243.0L594.9 243.0L595.2 243.0L595.5 243.0L595.8 243.7L596.1 243.0L596.4 243.0L596.7 243.0L597.0 243.0L597.3 244.0L597.6 243.0L597.9 243.0L598.2 243.0L598.5 243.8L598.8 243.0L599.1 243.0L599.4 243.0L599.7 243.4L600.0 243.3L600.3 243.0L600.6 243.5L600.9 243.5L601.2 243.3L601.5 243.8L601.8 243.0L602.1 243.0L602.4 243.8L602.7 244.5L603.0 243.0L603.3 243.0L603.6 243.0L603.9 243.0L604.2 244.1L604.5 243.7L604.8 244.5L605.1 244.6L605.4 243.1L605.7 244.2L606.0 243.0L606.3 243.7L606.6 244.2L606.9 243.3L607.2 243.0L607.5 243.5L607.8 244.6L608.1 243.5L608.4 243.0L608.7 244.1L609.0 244.2L609.3 243.1L609.6 243.6L609.9 244.4L610.2 243.9L610.5 244.1L610.8 243.4L611.1 243.5L611.4 243.0L611.7 243.0L612.0 244.4L612.3 243.1L612.6 243.0L612.9 243.0L613.2 243.0L613.5 243.5L613.8 243.7L614.1 243.0L614.4 243.7L614.7 244.4L615.0 243.0L615.3 243.3L615.6 243.0L615.9 243.7L616.2 243.6L616.5 243.4L616.8 243.0L617.1 243.0L617.4 244.0L617.7 243.0L618.0 243.2L618.3 243.1L618.6 243.0L618.9 243.0L619.2 243.3L619.5 243.0L619.8 243.0L620.1 243.0L620.4 243.0L620.7 243.0L621.0 243.0L621.3 243.0L621.6 243.0L621.9 243.0L622.2 243.0L622.5 243.0L622.8 243.0L623.1 243.0L623.4 243.0L623.7 243.0L624.0 243.0L624.3 243.0L624.6 243.0L624.9 243.1L625.2 243.0L625.5 243.0L625.8 243.0L626.1 243.0L626.4 243.0L626.7 243.0L627.0 243.3L627.3 243.0L627.6 244.1L627.9 243.1L628.2 243.1L628.5 243.1L628.8 243.0L629.1 243.8L629.4 243.0L629.7 243.2L630.0 243.6L630.3 244.1L630.6 244.0L630.9 243.1L631.2 244.0L631.5 243.4L631.8 243.0L632.1 243.0L632.4 243.0L632.7 243.8L633.0 244.3L633.3 243.0L633.6 243.5L633.9 243.0L634.2 243.7L634.5 243.0L634.8 243.2L635.1 243.3L635.4 243.5L635.7 243.5L636.0 243.6L636.3 243.6L636.6 243.1L636.9 244.1L637.2 243.0L637.5 243.8L637.8 243.1L638.1 243.8L638.4 243.8L638.7 243.0L639.0 243.8L639.3 244.4L639.6 244.0L639.9 243.7L640.2 243.0L640.5 243.3L640.8 243.0L641.1 244.0L641.4 243.0L641.7 243.0L642.0 243.0L642.3 243.6L642.6 243.0L642.9 243.0L643.2 243.6L643.5 243.0L643.8 243.0L644.1 244.3L644.4 243.0L644.7 243.0L645.0 243.0L645.3 243.5L645.6 243.0L645.9 243.1L646.2 243.3L646.5 243.7L646.8 244.2L647.1 244.9L647.4 245.6L647.7 246.1L648.0 246.3L648.3 246.1L648.6 245.6L648.9 244.9L649.2 244.2L649.5 243.7L649.8 243.3L650.1 243.1L650.4 243.0L650.7 243.0L651.0 243.0L651.3 243.0L651.6 243.0L651.9 243.0L652.2 243.0L652.5 243.0L652.8 243.0L653.1 243.0L653.4 243.0L653.7 243.0L654.0 243.0L654.3 243.0L654.6 243.0L654.9 243.0L655.2 243.0L655.5 243.2L655.8 243.0L656.1 243.4L656.4 243.0L656.7 243.1L657.0 243.0L657.3 243.0L657.6 243.0L657.9 243.8L658.2 243.4L658.5 244.1L658.8 244.4L659.1 246.8L659.4 251.6L659.7 259.2L660.0 268.3L660.3 276.2L660.6 279.3L660.9 276.2L661.2 268.3L661.5 259.2L661.8 251.6L662.1 246.8L662.4 244.4L662.7 243.8L663.0 244.4L663.3 243.3L663.6 243.7L663.9 243.9L664.2 243.5L664.5 243.9L664.8 244.8L665.1 243.4L665.4 243.6L665.7 243.8L666.0 243.1L666.3 243.0L666.6 244.4L666.9 244.2L667.2 243.0L667.5 243.0L667.8 244.0L668.1 244.3L668.4 243.9L668.7 243.8L669.0 244.4L669.3 243.3L669.6 244.1L669.9 244.0L670.2 243.0L670.5 243.6L670.8 243.1L671.1 243.0L671.4 243.0L671.7 243.2L672.0 243.0L672.3 243.4L672.6 243.0L672.9 243.0L673.2 243.4L673.5 243.0L673.8 243.0L674.1 243.0L674.4 243.0L674.7 243.0L675.0 243.0L675.3 243.0L675.6 243.2L675.9 243.0L676.2 243.0L676.5 243.0L676.8 243.0L677.1 243.6L677.4 243.0L677.7 243.0L678.0 243.0L678.3 243.0L678.6 243.0L678.9 243.0L679.2 243.0L679.5 243.0L679.8 243.0L680.1 243.0L680.4 243.0L680.7 243.1L681.0 243.0L681.3 243.0L681.6 243.4L681.9 243.0L682.2 243.0L682.5 243.0L682.8 243.0L683.1 243.3L683.4 243.0L683.7 243.0L684.0 243.0L684.3 243.9L684.6 243.4L684.9 243.0L685.2 243.0L685.5 243.0L685.8 243.0L686.1 243.4L686.4 243.2L686.7 243.1L687.0 243.0L687.3 244.2L687.6 243.0L687.9 243.0L688.2 244.1L688.5 244.3L688.8 243.3L689.1 243.9L689.4 245.1L689.7 243.1L690.0 243.5L690.3 244.0L690.6 243.0L690.9 243.6L691.2 244.2L691.5 243.7L691.8 244.4L692.1 244.3L692.4 243.5L692.7 244.1L693.0 244.1L693.3 243.0L693.6 243.2L693.9 243.2L694.2 243.4L694.5 243.4L694.8 243.0L695.1 243.7L695.4 243.0L695.7 244.2L696.0 243.8L696.3 244.4L696.6 243.7L696.9 243.1L697.2 243.0L697.5 243.8L697.8 243.3L698.1 243.5L698.4 243.7L698.7 244.0L699.0 243.1L699.3 244.2L699.6 243.0L699.9 243.0L700.2 243.4L700.5 243.5L700.8 243.7L701.1 243.0L701.4 243.6L701.7 243.0L702.0 243.0L702.3 243.0L702.6 243.3L702.9 243.0L703.2 243.0L703.5 243.0L703.8 243.0L704.1 243.0L704.4 243.0L704.7 243.0L705.0 243.0L705.3 243.0L705.6 243.0L705.9 243.0L706.2 243.0L706.5 243.6L706.8 243.0L707.1 243.0L707.4 243.0L707.7 243.0L708.0 243.0L708.3 243.0L708.6 243.0L708.9 243.0L709.2 243.0L709.5 243.0L709.8 243.0L710.1 243.0L710.4 243.0L710.7 243.0L711.0 243.0L711.3 243.4L711.6 243.0L711.9 243.0L712.2 243.0L712.5 243.2M847.3 236.4L847.8 239.1L848.3 241.8L848.8 243.9L849.3 242.4L849.8 243.1L850.3 242.7L850.8 243.6L851.3 242.5L851.8 242.9L852.3 243.2L852.8 242.5L853.3 242.8L853.8 244.6L854.3 243.3L854.8 244.1L855.3 242.9L855.8 242.3L856.3 243.9L856.8 243.7L857.3 243.9L857.8 243.7L858.3 243.7L858.8 243.4L859.3 244.6L859.8 243.4L860.3 244.7L860.8 244.2L861.3 243.8L861.8 244.0L862.3 244.9L862.8 244.8L863.3 244.7L863.8 244.5L864.3 243.9L864.8 245.0L865.3 244.2L865.8 244.1L866.3 244.0L866.8 244.0L867.3 243.5L867.8 243.9L868.3 243.6L868.8 243.7L869.3 243.0L869.8 244.7L870.3 243.1L870.8 243.8L871.3 243.7L871.8 243.9L872.3 244.3L872.8 243.5L873.3 243.5L873.8 242.9L874.3 243.8L874.8 242.3L875.3 242.8L875.8 243.0L876.3 243.2L876.8 243.2L877.3 243.4L877.8 243.1L878.3 242.8L878.8 242.9L879.3 243.6L879.8 243.0L880.3 243.4L880.8 242.9L881.3 242.2L881.8 242.8L882.3 243.4L882.8 244.1L883.3 244.1L883.8 244.3L884.3 243.2L884.8 244.0L885.3 243.7L885.8 244.1L886.3 243.8L886.8 243.3L887.3 244.4L887.8 244.3L888.3 244.6L888.8 243.8L889.3 244.8L889.8 244.9L890.3 245.1L890.8 245.1L891.3 244.2L891.8 243.2L892.3 244.9L892.8 244.0L893.3 244.3L893.8 244.9L894.3 244.5L894.8 244.4L895.3 244.6L895.8 243.3L896.3 245.0L896.8 243.9L897.3 243.8L897.8 244.2L898.3 243.7L898.8 243.3L899.3 243.5L899.8 243.3L900.3 243.1L900.8 244.3L901.3 242.6L901.8 242.1L902.3 242.7L902.8 242.6L903.3 243.7L903.8 243.0L904.3 243.3L904.8 243.2L905.3 242.4L905.8 243.2L906.3 242.9L906.8 243.8L907.3 242.9L907.8 242.8L908.3 243.3L908.8 243.3L909.3 242.1L909.8 243.7L910.3 243.7L910.8 243.6L911.3 242.7L911.8 242.4L912.3 243.3L912.8 243.9L913.3 243.8L913.8 243.2L914.3 244.3L914.8 243.2L915.3 243.3L915.8 244.0L916.3 243.8L916.8 243.8L917.3 243.5L917.8 244.8L918.3 243.8L918.8 244.6L919.3 244.8L919.8 244.4L920.3 244.6L920.8 244.9L921.3 245.2L921.8 244.9L922.3 243.7L922.8 243.4L923.3 244.0L923.8 243.7" stroke="#c85ae5" stroke-width="1.1" fill="none"/><path d="M78.6 373.0L78.7 372.5L78.8 372.2L79.0 400.1L79.1 381.4L79.2 377.5L79.3 380.5L79.4 383.5L79.6 376.1L79.7 381.8L79.8 374.4L79.9 378.5L80.0 379.1L80.2 377.4L80.3 376.7L80.4 378.1L80.5 376.2L80.6 371.4L80.8 372.2L80.9 368.8L81.0 385.8L81.1 380.0L81.2 381.4L81.4 384.2L81.5 386.3L81.6 383.8L81.7 379.0L81.8 381.9L82.0 388.9L82.1 376.6L82.2 376.1L82.3 384.7L82.4 377.1L82.6 382.7L82.7 373.1L82.8 384.3L82.9 383.4L83.0 380.1L83.2 381.1L83.3 375.4L83.4 371.9L83.5 371.3L83.6 374.7L83.8 391.3L83.9 370.6L84.0 379.7L84.1 368.4L84.2 364.8L84.4 369.5L84.5 373.4L84.6 376.3L84.7 376.4L84.8 377.2L85.0 375.1L85.1 378.4L85.2 369.5L85.3 375.0L85.4 371.7L85.6 375.6L85.7 372.6L85.8 372.4L85.9 366.5L86.0 364.3L86.2 365.7L86.3 366.9L86.4 364.0L86.5 352.5L86.6 360.8L86.8 359.1L86.9 348.8L87.0 352.4L87.1 349.4L87.2 353.4L87.4 339.3L87.5 347.0L87.6 345.7L87.7 348.6L87.8 353.2L88.0 357.9L88.1 348.4L88.2 346.2L88.3 349.4L88.4 352.3L88.6 353.8L88.7 350.0L88.8 355.9L88.9 342.2L89.0 340.8L89.2 337.6L89.3 341.2L89.4 349.8L89.5 352.5L89.6 365.8L89.8 351.7L89.9 346.0L90.0 339.0L90.1 340.2L90.2 340.1L90.4 339.1L90.5 336.9L90.6 327.7L90.7 342.9L90.8 337.0L91.0 343.1L91.1 329.5L91.2 332.8L91.3 338.7L91.4 348.9L91.6 343.7L91.7 346.8L91.8 348.5L91.9 347.6L92.0 346.2L92.2 347.9L92.3 340.5L92.4 340.6L92.5 340.2L92.6 340.2L92.8 341.0L92.9 333.2L93.0 339.9L93.1 335.3L93.2 338.6L93.4 344.6L93.5 328.7L93.6 341.4L93.7 333.3L93.8 332.7L94.0 346.6L94.1 342.1L94.2 339.2L94.3 341.3L94.4 341.3L94.6 333.4L94.7 342.7L94.8 337.4L94.9 342.1L95.0 338.8L95.2 341.2L95.3 338.7L95.4 333.9L95.5 339.3L95.6 342.9L95.8 344.4L95.9 335.8L96.0 337.8L96.1 338.4L96.2 340.9L96.4 335.6L96.5 330.1L96.6 341.5L96.7 339.9L96.8 342.6L97.0 358.2L97.1 345.4L97.2 350.5L97.3 343.0L97.4 352.7L97.6 355.1L97.7 353.2L97.8 351.7L97.9 353.4L98.0 351.2L98.2 359.2L98.3 354.8L98.4 350.5L98.5 344.6L98.6 350.2L98.8 353.4L98.9 347.2L99.0 349.0L99.1 347.7L99.2 362.4L99.4 353.3L99.5 351.1L99.6 352.7L99.7 350.9L99.8 352.7L100.0 357.6L100.1 366.2L100.2 359.6L100.3 364.9L100.4 354.5L100.6 357.9L100.7 365.4L100.8 353.5L100.9 354.0L101.0 356.6L101.2 348.0L101.3 348.9L101.4 363.1L101.5 353.9L101.6 359.9L101.8 361.1L101.9 359.1L102.0 364.5L102.1 362.9L102.2 364.7L102.4 364.5L102.5 357.3L102.6 363.7L102.7 360.6L102.8 351.5L103.0 356.8L103.1 356.4L103.2 367.9L103.3 363.2L103.4 361.9L103.6 358.2L103.7 362.7L103.8 364.1L103.9 361.3L104.0 360.2L104.2 360.5L104.3 359.1L104.4 364.9L104.5 355.2L104.6 359.7L104.8 364.9L104.9 365.1L105.0 360.6L105.1 362.0L105.2 363.7L105.4 365.7L105.5 360.4L105.6 365.4L105.7 361.9L105.8 367.4L106.0 378.1L106.1 361.6L106.2 366.7L106.3 370.8L106.4 364.2L106.6 368.6L106.7 355.8L106.8 363.7L106.9 374.7L107.0 366.0L107.2 376.5L107.3 359.2L107.4 374.9L107.5 383.0L107.6 372.8L107.8 375.1L107.9 373.5L108.0 380.6L108.1 368.8L108.2 360.7L108.4 380.6L108.5 365.0L108.6 376.9L108.7 360.3L108.8 370.7L109.0 374.3L109.1 368.4L109.2 370.7L109.3 377.6L109.4 371.5L109.6 377.1L109.7 384.0L109.8 363.7L109.9 377.6L110.0 376.8L110.2 371.6L110.3 382.0L110.4 382.4L110.5 374.5L110.6 376.2L110.8 373.3L110.9 366.4L111.0 374.1L111.1 367.8L111.2 370.8L111.4 378.4L111.5 371.3L111.6 378.9L111.7 368.0L111.8 368.0L112.0 372.7L112.1 378.4L112.2 372.2L112.3 377.8L112.4 370.0L112.6 370.3L112.7 372.9L112.8 362.2L112.9 363.7L113.0 372.2L113.2 361.1L113.3 369.1L113.4 367.8L113.5 363.9L113.6 370.0L113.8 369.6L113.9 370.2L114.0 359.8L114.1 363.6L114.2 370.0L114.4 362.6L114.5 368.9L114.6 366.7L114.7 367.7L114.8 371.0L115.0 362.8L115.1 372.1L115.2 381.8L115.3 369.5L115.4 378.3L115.6 376.4L115.7 391.1L115.8 370.2L115.9 372.7L116.0 365.2L116.2 363.0L116.3 360.4L116.4 367.1L116.5 359.0L116.6 369.3L116.8 364.3L116.9 356.7L117.0 356.4L117.1 367.9L117.2 356.4L117.4 358.4L117.5 361.0L117.6 354.4L117.7 358.8L117.8 365.5L118.0 364.1L118.1 350.9L118.2 373.9L118.3 361.9L118.4 361.2L118.6 361.1L118.7 371.7L118.8 371.4L118.9 366.7L119.0 361.4L119.2 368.0L119.3 377.9L119.4 356.5L119.5 359.0L119.6 363.6L119.8 369.9L119.9 364.3L120.0 370.0L120.1 360.4L120.2 374.2L120.4 369.1L120.5 369.9L120.6 376.1L120.7 366.1L120.8 366.8L121.0 365.9L121.1 360.5L121.2 371.7L121.3 365.8L121.4 362.4L121.6 361.9L121.7 368.1L121.8 367.3L121.9 370.4L122.0 361.7L122.2 360.3L122.3 352.1L122.4 358.5L122.5 366.3L122.6 357.0L122.8 364.3L122.9 367.9L123.0 347.7L123.1 359.1L123.2 359.1L123.4 360.6L123.5 355.2L123.6 361.5L123.7 356.6L123.8 368.6L124.0 370.8L124.1 354.2L124.2 354.0L124.3 359.2L124.4 355.9L124.6 358.8L124.7 364.1L124.8 350.2L124.9 355.6L125.0 356.2L125.2 357.8L125.3 359.2L125.4 360.7L125.5 359.6L125.6 370.7L125.8 359.4L125.9 351.7L126.0 370.1L126.1 367.3L126.2 360.4L126.4 358.5L126.5 356.5L126.6 366.9L126.7 357.4L126.8 367.7L127.0 365.5L127.1 357.9L127.2 360.9L127.3 356.1L127.4 345.1L127.6 360.6L127.7 360.8L127.8 369.8L127.9 368.9L128.0 371.6L128.2 369.8L128.3 371.9L128.4 369.8L128.5 367.8L128.6 371.6L128.8 373.5L128.9 372.9L129.0 386.7L129.1 366.1L129.2 359.8L129.4 361.8L129.5 369.7L129.6 361.9L129.7 372.4L129.8 354.4L130.0 359.2L130.1 366.9L130.2 372.9L130.3 365.4L130.4 378.5L130.6 372.5L130.7 362.7L130.8 367.5L130.9 372.8L131.0 374.1L131.2 377.3L131.3 371.4L131.4 373.5L131.5 374.6L131.6 367.7L131.8 377.1L131.9 362.3L132.0 378.6L132.1 360.6L132.2 375.0L132.4 367.0L132.5 376.2L132.6 377.4L132.7 371.7L132.8 366.6L133.0 374.8L133.1 362.9L133.2 371.8L133.3 366.2L133.4 364.7L133.6 362.3L133.7 374.0L133.8 356.3L133.9 362.3L134.0 367.9L134.2 370.7L134.3 373.7L134.4 371.5L134.5 364.3L134.6 371.1L134.8 398.2L134.9 371.1L135.0 361.3L135.1 369.3L135.2 372.6L135.4 367.5L135.5 369.7L135.6 375.2L135.7 380.2L135.8 386.5L136.0 384.3L136.1 380.8L136.2 376.6L136.3 374.8L136.4 373.3L136.6 373.8L136.7 376.2L136.8 379.1L136.9 384.3L137.0 375.7L137.2 378.8L137.3 378.8L137.4 380.0L137.5 384.1L137.6 382.5L137.8 378.1L137.9 376.1L138.0 381.4L138.1 375.9L138.2 380.6L138.4 386.9L138.5 380.0L138.6 372.9L138.7 385.7L138.8 377.4L139.0 376.9L139.1 376.1L139.2 385.6L139.3 371.6L139.4 379.3L139.6 380.0L139.7 382.2L139.8 378.8L139.9 383.9L140.0 386.1L140.2 378.2L140.3 387.5L140.4 390.4L140.5 379.7L140.6 379.0L140.8 376.8L140.9 386.5L141.0 373.5L141.1 374.6L141.2 366.3L141.4 381.5L141.5 374.1L141.6 376.6L141.7 383.5L141.8 379.6L142.0 369.9L142.1 378.5L142.2 378.4L142.3 371.3L142.4 370.9L142.6 369.5L142.7 376.4L142.8 373.3L142.9 367.7L143.0 375.6L143.2 374.9L143.3 366.8L143.4 362.9L143.5 377.7L143.6 383.4L143.8 383.1L143.9 379.8L144.0 378.9L144.1 366.6L144.2 368.7L144.4 371.2L144.5 367.0L144.6 370.5L144.7 365.4L144.8 369.7L145.0 353.4L145.1 365.0L145.2 371.7L145.3 373.5L145.4 370.2L145.6 376.8L145.7 372.9L145.8 375.8L145.9 379.7L146.0 373.7L146.2 376.7L146.3 375.7L146.4 374.9L146.5 370.2L146.6 371.4L146.8 365.6L146.9 373.3L147.0 362.1L147.1 365.8L147.2 365.5L147.4 375.1L147.5 374.0L147.6 365.0L147.7 356.7L147.8 363.1L148.0 358.5L148.1 362.8L148.2 363.5L148.3 365.6L148.4 361.2L148.6 357.8L148.7 360.5L148.8 363.9L148.9 360.3L149.0 362.2L149.2 368.4L149.3 355.8L149.4 362.2L149.5 361.6L149.6 354.7L149.8 359.5L149.9 365.3L150.0 360.5L150.1 368.5L150.2 367.2L150.4 374.2L150.5 355.3L150.6 371.0L150.7 358.4L150.8 365.8L151.0 367.3L151.1 363.3L151.2 362.9L151.3 359.1L151.4 353.1L151.6 357.9L151.7 354.1L151.8 360.3L151.9 351.9L152.0 356.2L152.2 363.5L152.3 369.7L152.4 352.9L152.5 353.5L152.6 351.5L152.8 359.2L152.9 362.4L153.0 357.0L153.1 369.0L153.2 385.0L153.4 350.9L153.5 372.1L153.6 364.7L153.7 358.4L153.8 370.7L154.0 347.6L154.1 372.3L154.2 350.8L154.3 351.3L154.4 355.3L154.6 362.9L154.7 361.7L154.8 364.5L154.9 353.8L155.0 363.6L155.2 359.9L155.3 356.2L155.4 369.8L155.5 366.6L155.6 364.5L155.8 371.6L155.9 358.4L156.0 364.1L156.1 377.4L156.2 365.7L156.4 369.4L156.5 368.5L156.6 363.6L156.7 367.8L156.8 358.8L157.0 365.3L157.1 356.7L157.2 362.7L157.3 357.8L157.4 365.4L157.6 364.9L157.7 366.1L157.8 358.3L157.9 356.0L158.0 351.5L158.2 356.7L158.3 364.3L158.4 367.0L158.5 365.1L158.6 371.9L158.8 363.0L158.9 369.7L159.0 379.5L159.1 378.4L159.2 368.5L159.4 374.1L159.5 375.9L159.6 367.3L159.7 375.1L159.8 374.8L160.0 375.1L160.1 382.9L160.2 368.2L160.3 385.2L160.4 378.5L160.6 377.8L160.7 371.4L160.8 375.3L160.9 375.3L161.0 384.2L161.2 376.6L161.3 384.0L161.4 374.5L161.5 372.5L161.6 372.3L161.8 362.7L161.9 372.3L162.0 371.2L162.1 373.7L162.2 375.9L162.4 370.3L162.5 370.8L162.6 383.4L162.7 373.0L162.8 376.1L163.0 373.1L163.1 377.0L163.2 387.7L163.3 388.2L163.4 374.3L163.6 381.7L163.7 388.6L163.8 379.7L163.9 383.9L164.0 392.5L164.2 394.7L164.3 390.1L164.4 378.9L164.5 381.4L164.6 382.6L164.8 378.6L164.9 376.8L165.0 393.6L165.1 388.6L165.2 387.5L165.4 391.4L165.5 386.8L165.6 387.0L165.7 387.1L165.8 390.0L166.0 386.3L166.1 374.0L166.2 388.3L166.3 387.8L166.4 379.5L166.6 377.8L166.7 381.0L166.8 388.2L166.9 378.3L167.0 389.8L167.2 390.6L167.3 389.1L167.4 383.6L167.5 379.8L167.6 380.6L167.8 383.2L167.9 375.4L168.0 378.1L168.1 371.9L168.2 382.8L168.4 383.6L168.5 371.3L168.6 384.5L168.7 380.1L168.8 377.7L169.0 379.2L169.1 380.4L169.2 372.2L169.3 393.1L169.4 381.8L169.6 371.4L169.7 383.3L169.8 383.4L169.9 379.2L170.0 373.4L170.2 389.8L170.3 382.0L170.4 383.6L170.5 379.0L170.6 379.3L170.8 376.1L170.9 380.3L171.0 378.3L171.1 383.7L171.2 383.3L171.4 379.8L171.5 382.1L171.6 389.4L171.7 374.1L171.8 382.0L172.0 388.7L172.1 377.0L172.2 387.1L172.3 377.4L172.4 380.7L172.6 377.4L172.7 376.0L172.8 378.8L172.9 376.1L173.0 366.3L173.2 387.6L173.3 374.3L173.4 370.6L173.5 379.6L173.6 381.3L173.8 361.7L173.9 373.9L174.0 359.5L174.1 367.4L174.2 371.5L174.4 371.1L174.5 372.2L174.6 366.1L174.7 369.1L174.8 369.0L175.0 369.6L175.1 361.4L175.2 364.3L175.3 374.4L175.4 370.2L175.6 364.5L175.7 369.6L175.8 370.1L175.9 372.2L176.0 368.5L176.2 367.1L176.3 367.1L176.4 373.5L176.5 364.0L176.6 376.2L176.8 358.7L176.9 371.2L177.0 374.8L177.1 382.5L177.2 395.6L177.4 382.2L177.5 379.7L177.6 369.6L177.7 384.1L177.8 371.6L178.0 377.3L178.1 369.2L178.2 385.1L178.3 370.4L178.4 370.0L178.6 364.3L178.7 368.9L178.8 375.9L178.9 367.7L179.0 413.5L179.2 371.4L179.3 371.5L179.4 372.2L179.5 375.9L179.6 381.8L179.8 379.2L179.9 366.1L180.0 366.0L180.1 368.0L180.2 370.3L180.4 367.8L180.5 367.4L180.6 370.8L180.7 371.5L180.8 357.2L181.0 368.7L181.1 372.4L181.2 375.7L181.3 376.2L181.4 364.8L181.6 362.5L181.7 368.4L181.8 365.9L181.9 367.4L182.0 373.8L182.2 359.5L182.3 366.7L182.4 357.2L182.5 375.8L182.6 369.7L182.8 366.4L182.9 371.5L183.0 377.3L183.1 372.5L183.2 373.6L183.4 367.6L183.5 366.1L183.6 359.7L183.7 360.2L183.8 363.8L184.0 365.7L184.1 367.6L184.2 365.2L184.3 366.0L184.4 374.2L184.6 369.4L184.7 375.1L184.8 379.8L184.9 376.3L185.0 367.8L185.2 366.9L185.3 359.4L185.4 366.7L185.5 361.3L185.6 356.7L185.8 360.4L185.9 368.2L186.0 367.0L186.1 366.0L186.2 373.9L186.4 368.9L186.5 367.6L186.6 374.2L186.7 362.0L186.8 373.9L187.0 372.5L187.1 374.7L187.2 376.8L187.3 369.1L187.4 369.3L187.6 361.3L187.7 365.7L187.8 367.1L187.9 371.8L188.0 376.9L188.2 371.1L188.3 374.9L188.4 365.2L188.5 375.4L188.6 364.2L188.8 368.4L188.9 368.0L189.0 370.4L189.1 372.1L189.2 369.9L189.4 367.8L189.5 379.2L189.6 372.3L189.7 359.4L189.8 373.1L190.0 373.3L190.1 378.5L190.2 381.1L190.3 368.3L190.4 374.8L190.6 373.4L190.7 362.8L190.8 359.7L190.9 376.5L191.0 366.9L191.2 372.7L191.3 373.1L191.4 376.5L191.5 375.3L191.6 368.3L191.8 375.7L191.9 374.0L192.0 368.5L192.1 372.6L192.2 376.4L192.4 375.5L192.5 369.8L192.6 375.2L192.7 377.4L192.8 382.4L193.0 379.0L193.1 385.1L193.2 380.8L193.3 379.1L193.4 391.9L193.6 381.2L193.7 377.7L193.8 381.8L193.9 389.5L194.0 375.8L194.2 387.9L194.3 389.4L194.4 387.0L194.5 383.0L194.6 376.5L194.8 375.9L194.9 381.1L195.0 388.0L195.1 385.7L195.2 386.9L195.4 381.5L195.5 390.0L195.6 383.5L195.7 380.6L195.8 385.8L196.0 383.1L196.1 388.8L196.2 390.7L196.3 385.0L196.4 374.9L196.6 376.1L196.7 382.5L196.8 373.7L196.9 379.2L197.0 373.3L197.2 371.9L197.3 378.3L197.4 368.4L197.5 376.5L197.6 376.6L197.8 377.2L197.9 369.0L198.0 367.6L198.1 369.5L198.2 372.1L198.4 361.2L198.5 367.1L198.6 372.3L198.7 361.6L198.8 360.4L199.0 365.4L199.1 375.5L199.2 369.5L199.3 363.4L199.4 364.4L199.6 356.0L199.7 371.5L199.8 359.1L199.9 365.4L200.0 353.7L200.2 364.8L200.3 358.2L200.4 361.9L200.5 364.2L200.6 362.5L200.8 359.3L200.9 361.1L201.0 350.7L201.1 347.1L201.2 353.7L201.4 358.0L201.5 354.1L201.6 355.2L201.7 343.5L201.8 347.1L202.0 345.7L202.1 348.1L202.2 355.8L202.3 350.0L202.4 352.5L202.6 343.8L202.7 343.3L202.8 349.5L202.9 343.9L203.0 394.8L203.2 349.9L203.3 350.6L203.4 344.9L203.5 347.0L203.6 344.8L203.8 342.0L203.9 337.3L204.0 356.8L204.1 346.4L204.2 344.0L204.4 344.3L204.5 343.3L204.6 345.5L204.7 338.2L204.8 345.0L205.0 343.6L205.1 341.4L205.2 338.5L205.3 344.4L205.4 339.3L205.6 345.9L205.7 345.2L205.8 345.9L205.9 349.8L206.0 350.0L206.2 349.6L206.3 345.6L206.4 351.8L206.5 353.0L206.6 352.2L206.8 344.2L206.9 359.2L207.0 342.8L207.1 350.6L207.2 349.1L207.4 343.7L207.5 348.0L207.6 350.2L207.7 336.6L207.8 352.1L208.0 348.3L208.1 340.2L208.2 349.4L208.3 345.5L208.4 344.9L208.6 331.9L208.7 351.6L208.8 350.3L208.9 344.7L209.0 347.8L209.2 353.3L209.3 345.1L209.4 346.4L209.5 344.5L209.6 339.4L209.8 343.1L209.9 343.1L210.0 341.0L210.1 349.0L210.2 343.1L210.4 341.5L210.5 346.9L210.6 345.6L210.7 350.5L210.8 346.0L211.0 386.7L211.1 348.7L211.2 345.9L211.3 348.0L211.4 343.1L211.6 347.3L211.7 348.0L211.8 349.3L211.9 345.8L212.0 355.5L212.2 346.6L212.3 374.6L212.4 348.9L212.5 352.7L212.6 365.6L212.8 352.7L212.9 345.9L213.0 357.9L213.1 347.4L213.2 347.9L213.4 344.7L213.5 355.0L213.6 342.4L213.7 357.0L213.8 344.2L214.0 353.3L214.1 340.0L214.2 360.0L214.3 355.0L214.4 360.5L214.6 347.6L214.7 363.0L214.8 355.8L214.9 359.9L215.0 367.6L215.2 357.3L215.3 354.9L215.4 359.5L215.5 355.8L215.6 362.9L215.8 360.3L215.9 362.6L216.0 360.9L216.1 354.2L216.2 360.8L216.4 362.0L216.5 365.5L216.6 366.0L216.7 356.3L216.8 370.5L217.0 368.8L217.1 364.5L217.2 366.2L217.3 351.8L217.4 373.3L217.6 362.9L217.7 364.8L217.8 383.1L217.9 367.3L218.0 362.8L218.2 358.1L218.3 370.8L218.4 373.9L218.5 364.3L218.6 364.1L218.8 374.6L218.9 384.8L219.0 363.9L219.1 375.6L219.2 369.1L219.4 374.7L219.5 375.5L219.6 376.1L219.7 367.7L219.8 364.8L220.0 383.8L220.1 378.4L220.2 366.5L220.3 386.9L220.4 383.0L220.6 376.2L220.7 378.7L220.8 379.5L220.9 380.9L221.0 383.7L221.2 381.3L221.3 378.5L221.4 382.2L221.5 382.9L221.6 379.2L221.8 372.6L221.9 377.0L222.0 381.2L222.1 377.7L222.2 376.6L222.4 374.3L222.5 376.1L222.6 368.5L222.7 369.8L222.8 377.4L223.0 378.6L223.1 372.8L223.2 373.2L223.3 377.4L223.4 383.8L223.6 390.4L223.7 377.0L223.8 374.9L223.9 375.7L224.0 385.9L224.2 372.9L224.3 380.1L224.4 376.7L224.5 377.5L224.6 386.8L224.8 386.6L224.9 392.2L225.0 387.8L225.1 390.5L225.2 379.7L225.4 382.6L225.5 378.0L225.6 381.8L225.7 382.4L225.8 374.6L226.0 377.8L226.1 374.3L226.2 375.8L226.3 383.1L226.4 375.9L226.6 376.3L226.7 378.0L226.8 373.8L226.9 370.9L227.0 382.1L227.2 381.1L227.3 389.3L227.4 379.5L227.5 378.4L227.6 386.0L227.8 371.9L227.9 368.4L228.0 372.8L228.1 367.9L228.2 370.7L228.4 362.2L228.5 376.0L228.6 365.1L228.7 356.5L228.8 363.2L229.0 358.4L229.1 361.0L229.2 363.0L229.3 355.2L229.4 353.1L229.6 356.4L229.7 373.0L229.8 342.7L229.9 345.2L230.0 360.6L230.2 354.4L230.3 357.7L230.4 343.7L230.5 356.3L230.6 346.6L230.8 354.2L230.9 353.6L231.0 387.8L231.1 346.4L231.2 353.4L231.4 346.3L231.5 343.2L231.6 347.3L231.7 353.7L231.8 357.4L232.0 349.5L232.1 348.9L232.2 349.4L232.3 348.4L232.4 348.2L232.6 343.3L232.7 348.0L232.8 346.9L232.9 352.2L233.0 350.8L233.2 345.4L233.3 350.9L233.4 350.2L233.5 344.1L233.6 335.9L233.8 339.3L233.9 330.5L234.0 338.6L234.1 341.6L234.2 347.7L234.4 352.4L234.5 336.9L234.6 346.0L234.7 346.4L234.8 348.0L235.0 352.8L235.1 353.9L235.2 350.9L235.3 347.5L235.4 355.6L235.6 344.7L235.7 350.5L235.8 372.7L235.9 344.7L236.0 347.1L236.2 337.7L236.3 357.8L236.4 346.9L236.5 333.6L236.6 349.1L236.8 355.5L236.9 349.8L237.0 343.6L237.1 352.7L237.2 349.4L237.4 351.7L237.5 355.1L237.6 336.7L237.7 352.8L237.8 353.9L238.0 353.8L238.1 349.2L238.2 350.8L238.3 348.2L238.4 349.4L238.6 357.2L238.7 347.3L238.8 351.9L238.9 353.3L239.0 357.2L239.2 353.4L239.3 360.3L239.4 348.7L239.5 359.2L239.6 348.8L239.8 350.5L239.9 357.2L240.0 354.8L240.1 358.3L240.2 350.6L240.4 371.8L240.5 359.2L240.6 366.6L240.7 360.5L240.8 355.2L241.0 361.9L241.1 356.8L241.2 361.4L241.3 347.8L241.4 352.2L241.6 350.9L241.7 362.6L241.8 360.2L241.9 348.0L242.0 355.6L242.2 356.7L242.3 358.3L242.4 364.4L242.5 351.7L242.6 356.3L242.8 354.0L242.9 383.8L243.0 358.9L243.1 366.9L243.2 357.8L243.4 358.2L243.5 357.4L243.6 371.6L243.7 358.9L243.8 376.2L244.0 356.7L244.1 361.3L244.2 358.6L244.3 362.9L244.4 367.5L244.6 363.6L244.7 354.9L244.8 354.8L244.9 366.7L245.0 369.8L245.2 358.3L245.3 371.2L245.4 356.4L245.5 365.6L245.6 371.8L245.8 363.4L245.9 363.0L246.0 377.9L246.1 362.5L246.2 371.2L246.4 363.3L246.5 374.7L246.6 380.1L246.7 370.0L246.8 366.5L247.0 362.2L247.1 364.5L247.2 369.0L247.3 372.7L247.4 373.6L247.6 369.4L247.7 373.0L247.8 371.7L247.9 382.9L248.0 372.1L248.2 371.0L248.3 358.3L248.4 365.7L248.5 374.0L248.6 367.8L248.8 379.1L248.9 375.2L249.0 386.0L249.1 367.0L249.2 369.8L249.4 378.5L249.5 373.2L249.6 372.0L249.7 374.2L249.8 377.1L250.0 384.4L250.1 385.4L250.2 381.9L250.3 377.1L250.4 385.1L250.6 386.6L250.7 374.4L250.8 390.3L250.9 374.1L251.0 379.6L251.2 377.1L251.3 371.6L251.4 378.4L251.5 379.6L251.6 386.3L251.8 388.9L251.9 382.1L252.0 377.0L252.1 376.2L252.2 369.8L252.4 380.8L252.5 380.0L252.6 374.8L252.7 380.4L252.8 383.4L253.0 386.1L253.1 375.7L253.2 386.1L253.3 379.0L253.4 391.8L253.6 375.1L253.7 384.8L253.8 373.9L253.9 384.9L254.0 377.2L254.2 367.8L254.3 376.3L254.4 371.8L254.5 373.0L254.6 379.9L254.8 370.3L254.9 369.9L255.0 378.1L255.1 370.5L255.2 378.5L255.4 379.1L255.5 374.5L255.6 377.5L255.7 363.0L255.8 382.8L256.0 365.6L256.1 363.2L256.2 379.1L256.3 377.9L256.4 363.7L256.6 368.9L256.7 365.2L256.8 359.0L256.9 364.0L257.0 367.7L257.2 379.7L257.3 364.4L257.4 367.6L257.5 358.1L257.6 363.3L257.8 366.3L257.9 348.4L258.0 353.8L258.1 354.9L258.2 362.6L258.4 360.1L258.5 361.9L258.6 360.2L258.7 365.5L258.8 358.1L259.0 357.3L259.1 357.4L259.2 358.2L259.3 349.4L259.4 355.8L259.6 366.7L259.7 355.1L259.8 353.3L259.9 348.2L260.0 354.8L260.2 355.2L260.3 357.6L260.4 352.7L260.5 359.5L260.6 359.7L260.8 360.7L260.9 351.4L261.0 355.5L261.1 359.9L261.2 345.7L261.4 353.5L261.5 349.7L261.6 349.2L261.7 344.3L261.8 345.3L262.0 353.5L262.1 356.2L262.2 358.1L262.3 342.1L262.4 350.6L262.6 345.3L262.7 350.4L262.8 357.2L262.9 340.1L263.0 347.0L263.2 346.8L263.3 346.8L263.4 344.3L263.5 347.7L263.6 356.7L263.8 341.2L263.9 351.1L264.0 353.6L264.1 343.2L264.2 347.4L264.4 354.9L264.5 362.4L264.6 352.6L264.7 350.6L264.8 355.3L265.0 363.8L265.1 358.4L265.2 359.5L265.3 350.8L265.4 347.4L265.6 345.3L265.7 355.6L265.8 350.9L265.9 348.5L266.0 353.1L266.2 351.1L266.3 342.2L266.4 353.0L266.5 351.0L266.6 357.2L266.8 354.2L266.9 361.7L267.0 351.9L267.1 347.0L267.2 340.7L267.4 464.5L267.5 350.3L267.6 351.5L267.7 353.7L267.8 354.4L268.0 351.7L268.1 358.5L268.2 352.0L268.3 360.2L268.4 368.6L268.6 360.3L268.7 361.6L268.8 361.9L268.9 350.0L269.0 356.1L269.2 355.6L269.3 352.4L269.4 353.8L269.5 368.2L269.6 350.8L269.8 357.6L269.9 361.0L270.0 354.6L270.1 362.9L270.2 358.2L270.4 352.7L270.5 347.4L270.6 352.9L270.7 353.5L270.8 344.9L271.0 341.9L271.1 343.3L271.2 354.3L271.3 353.7L271.4 353.3L271.6 350.5L271.7 356.2L271.8 357.1L271.9 346.8L272.0 359.3L272.2 364.3L272.3 365.8L272.4 352.4L272.5 362.6L272.6 358.1L272.8 367.1L272.9 366.0L273.0 367.4L273.1 364.2L273.2 352.9L273.4 370.1L273.5 352.8L273.6 367.8L273.7 363.2L273.8 356.3L274.0 357.6L274.1 359.9L274.2 367.5L274.3 355.2L274.4 362.1L274.6 343.3L274.7 358.2L274.8 354.1L274.9 361.2L275.0 359.7L275.2 363.0L275.3 350.9L275.4 360.7L275.5 382.8L275.6 367.4L275.8 366.5L275.9 358.6L276.0 370.7L276.1 374.1L276.2 362.6L276.4 372.0L276.5 369.3L276.6 364.2L276.7 372.8L276.8 363.2L277.0 372.5L277.1 363.5L277.2 362.7L277.3 373.0L277.4 374.9L277.6 380.9L277.7 377.6L277.8 371.5L277.9 382.4L278.0 372.3L278.2 383.6L278.3 379.9L278.4 388.6L278.5 371.8L278.6 377.0L278.8 370.6L278.9 374.4L279.0 366.4L279.1 383.4L279.2 373.0L279.4 360.7L279.5 374.3L279.6 369.4L279.7 363.5L279.8 371.7L280.0 371.6L280.1 366.4L280.2 369.1L280.3 368.7L280.4 371.4L280.6 368.2L280.7 369.9L280.8 364.5L280.9 369.2L281.0 375.7L281.2 387.1L281.3 371.1L281.4 372.1L281.5 381.8L281.6 390.1L281.8 386.3L281.9 376.5L282.0 385.7L282.1 382.2L282.2 377.0L282.4 371.9L282.5 377.2L282.6 377.0L282.7 378.2L282.8 363.5L283.0 370.2L283.1 373.0L283.2 379.5L283.3 377.4L283.4 368.3L283.6 372.7L283.7 364.4L283.8 366.6L283.9 365.2L284.0 363.4L284.2 363.7L284.3 369.2L284.4 364.6L284.5 350.7L284.6 368.7L284.8 365.4L284.9 355.5L285.0 376.3L285.1 362.6L285.2 364.3L285.4 353.2L285.5 349.8L285.6 348.7L285.7 353.9L285.8 348.7L286.0 358.1L286.1 352.4L286.2 356.4L286.3 355.3L286.4 351.8L286.6 351.1L286.7 360.7L286.8 349.7L286.9 360.0L287.0 363.0L287.2 359.5L287.3 365.8L287.4 357.1L287.5 350.7L287.6 351.3L287.8 344.9L287.9 348.7L288.0 344.4L288.1 351.2L288.2 342.5L288.4 345.1L288.5 342.9L288.6 343.7L288.7 343.6L288.8 352.9L289.0 353.4L289.1 347.9L289.2 345.8L289.3 346.9L289.4 345.3L289.6 344.8L289.7 348.4L289.8 350.6L289.9 356.4L290.0 358.2L290.2 358.0L290.3 352.5L290.4 351.3L290.5 352.8L290.6 351.0L290.8 346.2L290.9 351.4L291.0 351.3L291.1 348.3L291.2 353.3L291.4 353.8L291.5 349.1L291.6 350.7L291.7 354.1L291.8 360.0L292.0 346.3L292.1 362.8L292.2 359.6L292.3 356.1L292.4 364.2L292.6 358.9L292.7 350.4L292.8 357.1L292.9 360.2L293.0 394.8L293.2 370.1L293.3 355.8L293.4 360.3L293.5 364.6L293.6 360.8L293.8 357.0L293.9 361.9L294.0 360.8L294.1 371.9L294.2 355.6L294.4 347.9L294.5 352.7L294.6 362.8L294.7 363.4L294.8 358.4L295.0 363.0L295.1 350.2L295.2 355.0L295.3 349.4L295.4 348.7L295.6 366.4L295.7 355.6L295.8 361.8L295.9 367.4L296.0 363.5L296.2 362.1L296.3 357.2L296.4 368.9L296.5 356.0L296.6 348.9L296.8 359.2L296.9 359.5L297.0 366.3L297.1 370.6L297.2 360.5L297.4 364.0L297.5 363.7L297.6 356.0L297.7 366.8L297.8 368.4L298.0 359.8L298.1 373.8L298.2 369.0L298.3 370.5L298.4 371.2L298.6 364.8L298.7 369.9L298.8 359.8L298.9 359.7L299.0 365.0L299.2 372.7L299.3 366.0L299.4 363.7L299.5 372.9L299.6 362.9L299.8 362.4L299.9 364.9L300.0 358.0L300.1 361.4L300.2 370.6L300.4 365.5L300.5 372.4L300.6 368.7L300.7 378.2L300.8 371.5L301.0 370.9L301.1 367.5L301.2 372.5L301.3 379.5L301.4 365.5L301.6 377.1L301.7 371.3L301.8 380.3L301.9 378.1L302.0 370.1L302.2 379.7L302.3 377.8L302.4 409.5L302.5 382.2L302.6 387.4L302.8 389.4L302.9 386.8L303.0 383.1L303.1 375.5L303.2 392.9L303.4 384.2L303.5 390.3L303.6 381.4L303.7 389.2L303.8 384.6L304.0 388.2L304.1 381.6L304.2 379.0L304.3 386.6L304.4 385.3L304.6 391.9L304.7 380.5L304.8 375.1L304.9 381.5L305.0 375.1L305.2 391.2L305.3 390.1L305.4 391.4L305.5 386.8L305.6 385.8L305.8 386.9L305.9 399.5L306.0 382.2L306.1 391.4L306.2 396.9L306.4 398.8L306.5 382.4L306.6 403.6L306.7 390.5L306.8 382.5L307.0 384.0L307.1 393.1L307.2 390.3L307.3 384.0L307.4 377.6L307.6 386.5L307.7 377.9L307.8 380.1L307.9 376.6L308.0 376.8L308.2 388.4L308.3 392.0L308.4 383.5L308.5 374.9L308.6 382.6L308.8 385.0L308.9 375.2L309.0 395.9L309.1 384.7L309.2 392.3L309.4 388.5L309.5 389.7L309.6 381.5L309.7 394.3L309.8 392.4L310.0 402.8L310.1 389.6L310.2 393.1L310.3 391.3L310.4 398.9L310.6 394.8L310.7 388.3L310.8 396.3L310.9 393.3L311.0 392.9L311.2 394.3L311.3 398.3L311.4 384.8L311.5 387.0L311.6 382.0L311.8 401.0L311.9 394.2L312.0 396.5L312.1 389.6L312.2 380.5L312.4 384.9L312.5 388.3L312.6 386.7L312.7 381.7L312.8 386.7L313.0 380.3L313.1 379.8L313.2 390.0L313.3 379.5L313.4 369.1L313.6 378.6L313.7 378.1L313.8 379.9L313.9 379.6L314.0 369.7L314.2 377.1L314.3 381.5L314.4 390.3L314.5 375.9L314.6 383.3L314.8 381.3L314.9 366.2L315.0 364.9L315.1 381.6L315.2 368.9L315.4 370.7L315.5 374.8L315.6 369.4L315.7 381.7L315.8 377.3L316.0 378.0L316.1 376.4L316.2 368.2L316.3 378.4L316.4 375.4L316.6 374.7L316.7 368.9L316.8 371.7L316.9 367.9L317.0 377.5L317.2 380.9L317.3 376.8L317.4 370.6L317.5 372.8L317.6 366.7L317.8 358.7L317.9 371.0L318.0 366.7L318.1 356.2L318.2 367.4L318.4 366.9L318.5 367.4L318.6 361.5L318.7 364.0L318.8 367.3L319.0 367.5L319.1 365.0L319.2 364.8L319.3 377.7L319.4 368.8L319.6 369.9L319.7 367.2L319.8 369.8L319.9 370.2L320.0 370.6L320.2 377.0L320.3 367.4L320.4 368.5L320.5 362.3L320.6 368.7L320.8 363.9L320.9 364.8L321.0 368.9L321.1 361.6L321.2 366.2L321.4 360.1L321.5 368.6L321.6 364.4L321.7 374.5L321.8 369.1L322.0 370.6L322.1 367.9L322.2 368.7L322.3 369.6L322.4 364.5L322.6 368.4L322.7 364.5L322.8 363.5L322.9 367.6L323.0 370.4L323.2 364.0L323.3 367.4L323.4 363.6L323.5 356.8L323.6 359.8L323.8 364.6L323.9 369.5L324.0 370.5L324.1 365.0L324.2 358.1L324.4 368.5L324.5 367.8L324.6 364.6L324.7 370.8L324.8 368.9L325.0 361.4L325.1 362.8L325.2 364.9L325.3 366.2L325.4 373.4L325.6 363.6L325.7 367.2L325.8 365.8L325.9 368.6L326.0 365.3L326.2 365.7L326.3 363.2L326.4 358.3L326.5 363.3L326.6 372.4L326.8 371.2L326.9 371.3L327.0 366.6L327.1 361.9L327.2 362.7L327.4 366.9L327.5 361.3L327.6 370.1L327.7 370.9L327.8 370.8L328.0 365.4L328.1 353.1L328.2 366.1L328.3 353.8L328.4 351.9L328.6 358.9L328.7 359.4L328.8 362.4L328.9 358.2L329.0 357.2L329.2 361.8L329.3 360.0L329.4 359.0L329.5 361.7L329.6 365.0L329.8 368.9L329.9 367.7L330.0 373.9L330.1 367.1L330.2 366.2L330.4 374.0L330.5 356.0L330.6 374.2L330.7 375.3L330.8 368.7L331.0 379.7L331.1 374.2L331.2 381.8L331.3 381.0L331.4 376.7L331.6 374.7L331.7 372.2L331.8 373.3L331.9 372.4L332.0 373.3L332.2 377.2L332.3 369.4L332.4 378.4L332.5 374.7L332.6 366.3L332.8 371.1L332.9 375.7L333.0 375.1L333.1 374.0L333.2 385.2L333.4 380.9L333.5 388.4L333.6 383.4L333.7 388.3L333.8 375.6L334.0 379.7L334.1 384.6L334.2 380.5L334.3 389.0L334.4 383.4L334.6 379.5L334.7 379.3L334.8 390.4L334.9 381.7L335.0 379.0L335.2 380.2L335.3 376.9L335.4 389.1L335.5 379.9L335.6 388.0L335.8 385.9L335.9 385.7L336.0 386.4L336.1 393.0L336.2 389.9L336.4 397.5L336.5 398.3L336.6 389.0L336.7 391.5L336.8 399.5L337.0 395.7L337.1 392.9L337.2 384.8L337.3 386.1L337.4 389.9L337.6 404.2L337.7 395.9L337.8 392.7L337.9 394.1L338.0 395.3L338.2 399.8L338.3 387.6L338.4 389.3L338.5 398.4L338.6 403.1L338.8 384.3L338.9 399.2L339.0 390.2L339.1 390.3L339.2 397.9L339.4 389.3L339.5 393.4L339.6 389.3L339.7 388.1L339.8 377.3L340.0 385.8L340.1 386.3L340.2 383.1L340.3 389.1L340.4 389.5L340.6 376.5L340.7 393.7L340.8 391.7L340.9 389.5L341.0 397.0L341.2 404.0L341.3 386.1L341.4 394.5L341.5 394.7L341.6 396.0L341.8 398.8L341.9 396.8L342.0 394.8L342.1 378.9L342.2 384.3L342.4 382.5L342.5 394.0L342.6 383.9L342.7 387.8L342.8 375.1L343.0 379.1L343.1 377.5L343.2 377.5L343.3 378.4L343.4 386.2L343.6 377.8L343.7 387.9L343.8 384.6L343.9 381.4L344.0 385.6L344.2 379.5L344.3 376.7L344.4 380.5L344.5 388.9L344.6 378.8L344.8 373.0L344.9 386.8L345.0 378.4L345.1 384.6L345.2 381.5L345.4 375.2L345.5 375.2L345.6 373.0L345.7 447.1L345.8 386.4L346.0 374.1L346.1 367.5L346.2 370.2L346.3 364.5L346.4 377.7L346.6 385.2L346.7 385.1L346.8 375.3L346.9 378.0L347.0 386.0L347.2 385.2L347.3 384.7L347.4 392.9L347.5 387.8L347.6 375.1L347.8 374.8L347.9 384.1L348.0 372.8L348.1 385.9L348.2 385.2L348.4 388.0L348.5 370.1L348.6 376.2L348.7 360.0L348.8 367.2L349.0 363.4L349.1 375.3L349.2 361.0L349.3 367.6L349.4 368.9L349.6 383.6L349.7 366.7L349.8 367.0L349.9 376.0L350.0 373.9L350.2 373.7L350.3 371.9L350.4 372.4L350.5 364.9L350.6 372.3L350.8 372.8L350.9 373.6L351.0 383.8L351.1 374.5L351.2 363.6L351.4 369.8L351.5 371.4L351.6 368.4L351.7 379.0L351.8 372.3L352.0 370.8L352.1 371.4L352.2 377.6L352.3 370.1L352.4 366.0L352.6 378.6L352.7 374.6L352.8 386.1L352.9 389.6L353.0 373.9L353.2 373.7L353.3 371.2L353.4 376.2L353.5 374.5L353.6 369.6L353.8 363.4L353.9 371.9L354.0 376.6L354.1 363.0L354.2 368.2L354.4 367.3L354.5 370.8L354.6 360.1L354.7 372.3L354.8 369.7L355.0 379.8L355.1 372.1L355.2 376.1L355.3 369.1L355.4 366.4L355.6 371.8L355.7 355.1L355.8 367.4L355.9 363.4L356.0 364.3L356.2 372.2L356.3 363.5L356.4 362.6L356.5 367.6L356.6 355.3L356.8 364.0L356.9 366.7L357.0 374.1L357.1 377.1L357.2 379.2L357.4 366.8L357.5 369.1L357.6 363.3L357.7 378.4L357.8 372.6L358.0 375.2L358.1 358.6L358.2 368.8L358.3 378.7L358.4 373.1L358.6 364.5L358.7 371.6L358.8 366.3L358.9 377.3L359.0 361.0L359.2 367.1L359.3 366.6L359.4 362.4L359.5 370.1L359.6 370.3L359.8 366.0L359.9 368.4L360.0 371.8L360.1 372.7L360.2 380.3L360.4 385.8L360.5 373.7L360.6 378.1L360.7 367.9L360.8 390.9L361.0 382.6L361.1 373.8L361.2 384.2L361.3 391.5L361.4 372.4L361.6 377.9L361.7 383.9L361.8 376.4L361.9 387.2L362.0 386.3L362.2 377.8L362.3 387.9L362.4 385.4L362.5 380.7L362.6 384.0L362.8 379.3L362.9 380.6L363.0 378.0L363.1 383.4L363.2 392.3L363.4 393.4L363.5 385.4L363.6 378.2L363.7 385.1L363.8 392.7L364.0 385.5L364.1 396.9L364.2 384.8L364.3 391.6L364.4 386.0L364.6 384.2L364.7 391.3L364.8 387.1L364.9 391.2L365.0 386.9L365.2 381.0L365.3 368.0L365.4 388.4L365.5 392.5L365.6 395.7L365.8 385.4L365.9 399.8L366.0 397.3L366.1 391.5L366.2 398.4L366.4 384.0L366.5 386.5L366.6 393.9L366.7 396.3L366.8 400.7L367.0 397.4L367.1 397.5L367.2 400.4L367.3 397.1L367.4 417.7L367.6 410.3L367.7 395.8L367.8 406.9L367.9 395.8L368.0 386.5L368.2 385.9L368.3 391.9L368.4 390.1L368.5 380.3L368.6 378.1L368.8 395.6L368.9 390.3L369.0 385.9L369.1 379.4L369.2 389.0L369.4 382.3L369.5 386.4L369.6 369.2L369.7 380.7L369.8 383.6L370.0 383.4L370.1 373.9L370.2 376.1L370.3 385.0L370.4 380.5L370.6 386.2L370.7 382.5L370.8 386.8L370.9 383.4L371.0 379.3L371.2 380.1L371.3 371.0L371.4 367.4L371.5 372.1L371.6 372.9L371.8 365.0L371.9 378.1L372.0 375.7L372.1 360.3L372.2 368.4L372.4 358.5L372.5 362.9L372.6 367.2L372.7 363.3L372.8 359.3L373.0 367.6L373.1 364.9L373.2 370.5L373.3 373.4L373.4 360.6L373.6 361.6L373.7 371.1L373.8 370.0L373.9 368.7L374.0 362.0L374.2 369.2L374.3 366.2L374.4 374.4L374.5 368.8L374.6 361.1L374.8 358.0L374.9 369.3L375.0 368.3L375.1 358.1L375.2 365.3L375.4 365.1L375.5 357.3L375.6 358.5L375.7 355.7L375.8 353.5L376.0 362.3L376.1 358.8L376.2 359.1L376.3 369.5L376.4 362.3L376.6 352.6L376.7 367.2L376.8 355.4L376.9 358.5L377.0 359.7L377.2 354.9L377.3 355.8L377.4 352.7L377.5 363.7L377.6 358.6L377.8 357.2L377.9 345.9L378.0 348.5L378.1 357.8L378.2 359.2L378.4 363.1L378.5 357.2L378.6 354.3L378.7 344.4L378.8 367.5L379.0 353.4L379.1 355.2L379.2 363.4L379.3 361.2L379.4 362.0L379.6 355.9L379.7 351.3L379.8 363.2L379.9 349.4L380.0 355.4L380.2 347.6L380.3 351.5L380.4 346.2L380.5 348.9L380.6 346.6L380.8 353.6L380.9 359.6L381.0 351.9L381.1 352.0L381.2 347.1L381.4 369.4L381.5 361.3L381.6 356.0L381.7 367.0L381.8 360.8L382.0 348.2L382.1 349.4L382.2 363.5L382.3 350.6L382.4 350.0L382.6 354.5L382.7 352.7L382.8 353.0L382.9 358.8L383.0 400.1L383.2 350.7L383.3 356.2L383.4 344.9L383.5 355.6L383.6 367.1L383.8 354.2L383.9 352.3L384.0 351.8L384.1 352.9L384.2 358.3L384.4 346.7L384.5 356.9L384.6 350.4L384.7 358.7L384.8 362.5L385.0 350.0L385.1 369.7L385.2 358.2L385.3 361.6L385.4 356.6L385.6 351.5L385.7 392.1L385.8 356.4L385.9 342.8L386.0 352.6L386.2 352.0L386.3 358.6L386.4 359.4L386.5 351.6L386.6 351.7L386.8 354.5L386.9 361.5L387.0 353.0L387.1 367.3L387.2 362.2L387.4 361.7L387.5 363.0L387.6 359.0L387.7 364.9L387.8 365.9L388.0 352.1L388.1 357.9L388.2 357.7L388.3 362.9L388.4 358.2L388.6 360.7L388.7 358.2L388.8 352.6L388.9 363.8L389.0 361.4L389.2 364.0L389.3 380.9L389.4 370.6L389.5 362.5L389.6 359.3L389.8 366.6L389.9 359.4L390.0 360.2L390.1 370.2L390.2 362.5L390.4 361.5L390.5 367.7L390.6 375.7L390.7 367.2L390.8 377.8L391.0 378.5L391.1 377.7L391.2 383.0L391.3 376.9L391.4 378.5L391.6 379.2L391.7 385.0L391.8 394.6L391.9 387.9L392.0 382.8L392.2 388.9L392.3 373.8L392.4 389.2L392.5 389.5L392.6 380.2L392.8 381.7L392.9 384.9L393.0 388.4L393.1 385.1L393.2 382.0L393.4 385.2L393.5 389.0L393.6 393.6L393.7 383.1L393.8 381.0L394.0 398.2L394.1 387.3L394.2 385.8L394.3 384.2L394.4 383.1L394.6 377.8L394.7 379.4L394.8 384.3L394.9 384.0L395.0 379.8L395.2 392.0L395.3 387.6L395.4 378.3L395.5 383.3L395.6 394.8L395.8 382.4L395.9 386.5L396.0 383.6L396.1 377.3L396.2 381.2L396.4 383.7L396.5 377.0L396.6 381.3L396.7 387.6L396.8 383.1L397.0 382.9L397.1 384.5L397.2 385.2L397.3 381.3L397.4 405.2L397.6 382.2L397.7 367.8L397.8 372.4L397.9 371.6L398.0 368.0L398.2 366.8L398.3 367.5L398.4 366.6L398.5 370.0L398.6 361.0L398.8 369.8L398.9 360.4L399.0 374.9L399.1 369.2L399.2 357.1L399.4 358.5L399.5 358.7L399.6 351.0L399.7 356.6L399.8 347.9L400.0 358.5L400.1 349.9L400.2 351.7L400.3 344.3L400.4 341.1L400.6 351.7L400.7 340.0L400.8 355.3L400.9 358.6L401.0 361.8L401.2 343.7L401.3 353.2L401.4 356.9L401.5 358.6L401.6 360.0L401.8 348.2L401.9 353.7L402.0 344.4L402.1 355.1L402.2 363.8L402.4 346.9L402.5 350.0L402.6 347.4L402.7 339.6L402.8 349.2L403.0 341.4L403.1 348.7L403.2 351.4L403.3 345.0L403.4 351.6L403.6 342.0L403.7 344.7L403.8 348.6L403.9 346.6L404.0 345.7L404.2 351.3L404.3 345.3L404.4 351.5L404.5 345.5L404.6 353.8L404.8 348.1L404.9 344.9L405.0 351.7L405.1 348.3L405.2 348.8L405.4 343.7L405.5 354.6L405.6 349.2L405.7 343.8L405.8 350.7L406.0 367.2L406.1 357.4L406.2 351.2L406.3 360.2L406.4 352.2L406.6 351.5L406.7 350.4L406.8 354.5L406.9 356.8L407.0 354.3L407.2 348.1L407.3 347.1L407.4 348.9L407.5 351.4L407.6 349.8L407.8 351.1L407.9 362.6L408.0 358.3L408.1 359.8L408.2 360.2L408.4 359.3L408.5 360.6L408.6 363.4L408.7 357.1L408.8 359.5L409.0 368.3L409.1 357.7L409.2 363.4L409.3 348.7L409.4 357.9L409.6 356.6L409.7 352.0L409.8 355.6L409.9 354.5L410.0 348.3L410.2 353.9L410.3 350.6L410.4 349.5L410.5 361.6L410.6 349.4L410.8 358.3L410.9 359.3L411.0 368.5L411.1 360.4L411.2 362.9L411.4 371.1L411.5 356.8L411.6 365.1L411.7 369.9L411.8 366.2L412.0 361.5L412.1 359.9L412.2 363.7L412.3 362.3L412.4 359.5L412.6 373.6L412.7 369.6L412.8 373.0L412.9 368.5L413.0 363.2L413.2 368.9L413.3 378.8L413.4 374.1L413.5 365.6L413.6 375.1L413.8 373.1L413.9 372.9L414.0 385.1L414.1 374.2L414.2 371.0L414.4 369.5L414.5 377.4L414.6 375.9L414.7 376.5L414.8 370.7L415.0 373.7L415.1 373.9L415.2 366.4L415.3 367.9L415.4 382.1L415.6 381.2L415.7 370.8L415.8 382.7L415.9 374.3L416.0 375.3L416.2 387.6L416.3 386.0L416.4 381.3L416.5 385.9L416.6 387.1L416.8 386.3L416.9 378.2L417.0 383.9L417.1 382.8L417.2 391.6L417.4 384.4L417.5 368.7L417.6 391.1L417.7 383.0L417.8 374.7L418.0 385.3L418.1 374.7L418.2 372.7L418.3 384.8L418.4 380.6L418.6 388.5L418.7 381.0L418.8 383.6L418.9 384.2L419.0 379.2L419.2 385.0L419.3 383.6L419.4 383.5L419.5 391.6L419.6 384.6L419.8 382.6L419.9 393.7L420.0 378.3L420.1 386.2L420.2 385.3L420.4 394.9L420.5 391.0L420.6 391.7L420.7 396.0L420.8 392.4L421.0 412.0L421.1 387.3L421.2 397.7L421.3 404.2L421.4 397.0L421.6 393.5L421.7 385.6L421.8 392.8L421.9 385.0L422.0 395.2L422.2 373.9L422.3 382.5L422.4 379.8L422.5 390.0L422.6 380.3L422.8 387.3L422.9 378.9L423.0 378.1L423.1 390.4L423.2 391.0L423.4 391.2L423.5 392.9L423.6 388.3L423.7 391.2L423.8 396.9L424.0 390.4L424.1 386.2L424.2 395.4L424.3 392.5L424.4 391.1L424.6 389.9L424.7 391.2L424.8 383.8L424.9 384.2L425.0 384.1L425.2 389.4L425.3 381.3L425.4 381.8L425.5 390.7L425.6 391.6L425.8 382.7L425.9 394.0L426.0 387.7L426.1 389.6L426.2 392.9L426.4 393.1L426.5 395.4L426.6 389.0L426.7 395.4L426.8 372.3L427.0 376.1L427.1 377.9L427.2 380.8L427.3 375.3L427.4 371.5L427.6 371.3L427.7 372.7L427.8 381.2L427.9 373.6L428.0 376.3L428.2 377.1L428.3 373.0L428.4 365.2L428.5 359.7L428.6 370.9L428.8 354.5L428.9 355.2L429.0 365.0L429.1 364.6L429.2 362.9L429.4 374.0L429.5 395.4L429.6 368.1L429.7 361.5L429.8 372.3L430.0 360.0L430.1 352.7L430.2 355.5L430.3 351.2L430.4 351.8L430.6 352.0L430.7 352.2L430.8 358.4L430.9 354.0L431.0 354.1L431.2 348.3L431.3 344.2L431.4 353.2L431.5 360.8L431.6 360.1L431.8 358.7L431.9 351.3L432.0 357.6L432.1 360.8L432.2 365.9L432.4 355.5L432.5 360.7L432.6 360.7L432.7 359.2L432.8 354.2L433.0 362.6L433.1 351.0L433.2 350.6L433.3 357.2L433.4 352.6L433.6 359.9L433.7 373.2L433.8 368.2L433.9 367.7L434.0 362.0L434.2 364.1L434.3 360.4L434.4 359.8L434.5 380.2L434.6 361.3L434.8 370.5L434.9 359.5L435.0 363.8L435.1 359.1L435.2 349.9L435.4 366.7L435.5 356.5L435.6 359.5L435.7 370.2L435.8 358.3L436.0 364.3L436.1 366.7L436.2 366.7L436.3 346.8L436.4 366.5L436.6 373.2L436.7 369.8L436.8 367.1L436.9 366.3L437.0 363.0L437.2 364.1L437.3 358.4L437.4 362.4L437.5 367.2L437.6 362.8L437.8 359.8L437.9 351.9L438.0 350.6L438.1 353.6L438.2 352.5L438.4 352.5L438.5 342.2L438.6 358.4L438.7 352.8L438.8 351.7L439.0 360.7L439.1 355.7L439.2 356.2L439.3 361.3L439.4 356.1L439.6 354.5L439.7 356.5L439.8 362.2L439.9 364.6L440.0 352.4L440.2 369.8L440.3 366.0L440.4 364.6L440.5 370.8L440.6 367.3L440.8 368.6L440.9 364.1L441.0 402.8L441.1 368.3L441.2 369.1L441.4 367.2L441.5 368.1L441.6 367.2L441.7 371.3L441.8 363.9L442.0 361.1L442.1 362.1L442.2 365.8L442.3 378.0L442.4 367.1L442.6 379.9L442.7 378.9L442.8 366.3L442.9 383.4L443.0 372.8L443.2 374.9L443.3 375.4L443.4 378.4L443.5 373.3L443.6 380.4L443.8 370.8L443.9 372.8L444.0 386.7L444.1 381.6L444.2 382.3L444.4 387.2L444.5 388.5L444.6 382.4L444.7 385.4L444.8 391.9L445.0 386.1L445.1 381.4L445.2 390.0L445.3 389.3L445.4 376.4L445.6 378.7L445.7 393.1L445.8 393.0L445.9 382.5L446.0 392.7L446.2 392.8L446.3 389.5L446.4 386.2L446.5 399.0L446.6 398.1L446.8 392.3L446.9 383.1L447.0 387.8L447.1 396.5L447.2 384.5L447.4 381.3L447.5 386.0L447.6 386.0L447.7 384.6L447.8 380.9L448.0 387.0L448.1 382.8L448.2 386.0L448.3 387.7L448.4 390.4L448.6 386.7L448.7 388.6L448.8 389.0L448.9 379.9L449.0 382.8L449.2 382.8L449.3 396.4L449.4 385.7L449.5 392.3L449.6 393.3L449.8 392.6L449.9 382.4L450.0 385.2L450.1 394.3L450.2 395.4L450.4 388.9L450.5 392.9L450.6 382.2L450.7 399.6L450.8 401.5L451.0 393.1L451.1 392.4L451.2 390.4L451.3 384.8L451.4 378.2L451.6 390.5L451.7 388.6L451.8 394.6L451.9 381.3L452.0 377.5L452.2 385.0L452.3 376.8L452.4 383.5L452.5 376.6L452.6 382.1L452.8 388.4L452.9 388.4L453.0 393.2L453.1 394.9L453.2 382.8L453.4 382.3L453.5 372.4L453.6 382.7L453.7 385.3L453.8 392.6L454.0 380.0L454.1 381.4L454.2 385.8L454.3 378.7L454.4 377.4L454.6 387.3L454.7 374.4L454.8 373.7L454.9 373.3L455.0 369.2L455.2 354.9L455.3 358.0L455.4 353.5L455.5 368.1L455.6 365.8L455.8 358.8L455.9 367.9L456.0 364.8L456.1 370.3L456.2 351.3L456.4 355.2L456.5 355.9L456.6 355.4L456.7 358.2L456.8 356.7L457.0 350.5L457.1 357.7L457.2 346.5L457.3 354.8L457.4 358.6L457.6 362.5L457.7 356.1L457.8 351.9L457.9 358.6L458.0 369.6L458.2 357.1L458.3 368.5L458.4 354.6L458.5 380.4L458.6 367.9L458.8 362.2L458.9 365.2L459.0 361.9L459.1 366.2L459.2 353.8L459.4 365.4L459.5 357.8L459.6 360.5L459.7 359.7L459.8 354.1L460.0 364.0L460.1 359.4L460.2 354.7L460.3 367.3L460.4 367.2L460.6 363.3L460.7 365.7L460.8 361.9L460.9 378.0L461.0 357.7L461.2 354.8L461.3 361.8L461.4 366.9L461.5 362.6L461.6 365.0L461.8 360.4L461.9 364.8L462.0 358.8L462.1 362.8L462.2 356.8L462.4 377.3L462.5 368.5L462.6 362.1L462.7 371.1L462.8 358.8L463.0 368.2L463.1 361.2L463.2 367.9L463.3 367.1L463.4 366.0L463.6 365.4L463.7 366.6L463.8 355.9L463.9 366.1L464.0 372.2L464.2 364.3L464.3 363.7L464.4 362.5L464.5 358.5L464.6 373.1L464.8 361.6L464.9 362.1L465.0 367.2L465.1 364.8L465.2 380.7L465.4 369.4L465.5 356.9L465.6 371.8L465.7 366.4L465.8 361.5L466.0 358.5L466.1 351.9L466.2 368.7L466.3 359.9L466.4 356.6L466.6 367.1L466.7 360.3L466.8 350.2L466.9 355.8L467.0 360.3L467.2 380.6L467.3 366.4L467.4 363.9L467.5 369.9L467.6 367.1L467.8 348.7L467.9 368.3L468.0 373.8L468.1 367.7L468.2 370.2L468.4 368.9L468.5 369.9L468.6 366.2L468.7 370.2L468.8 377.1L469.0 370.6L469.1 385.7L469.2 367.2L469.3 359.2L469.4 361.4L469.6 369.7L469.7 364.7L469.8 356.8L469.9 360.3L470.0 369.2L470.2 366.7L470.3 377.5L470.4 384.2L470.5 372.5L470.6 376.5L470.8 375.8L470.9 379.0L471.0 377.5L471.1 380.3L471.2 374.1L471.4 390.6L471.5 392.8L471.6 370.0L471.7 383.0L471.8 375.9L472.0 408.2L472.1 360.9L472.2 366.6L472.3 367.6L472.4 372.4L472.6 363.2L472.7 360.5L472.8 375.2L472.9 363.7L473.0 366.2L473.2 368.2L473.3 377.6L473.4 368.1L473.5 381.1L473.6 369.1L473.8 377.4L473.9 386.1L474.0 374.4L474.1 376.8L474.2 386.0L474.4 369.9L474.5 386.3L474.6 381.8L474.7 378.3L474.8 395.2L475.0 378.2L475.1 381.8L475.2 380.9L475.3 388.2L475.4 380.3L475.6 402.6L475.7 395.3L475.8 391.7L475.9 393.7L476.0 381.3L476.2 396.4L476.3 395.7L476.4 393.8L476.5 392.5L476.6 390.7L476.8 390.9L476.9 396.2L477.0 393.5L477.1 393.1L477.2 388.7L477.4 389.5L477.5 396.0L477.6 407.4L477.7 390.2L477.8 393.1L478.0 396.6L478.1 394.0L478.2 400.7L478.3 403.6L478.4 401.5L478.6 401.0L478.7 401.8L478.8 406.3L478.9 396.9L479.0 393.1L479.2 399.4L479.3 397.0L479.4 406.2L479.5 395.7L479.6 394.3L479.8 400.4L479.9 405.1L480.0 394.7L480.1 402.6L480.2 394.0L480.4 399.4L480.5 392.8L480.6 397.1L480.7 405.5L480.8 401.3L481.0 396.8L481.1 389.9L481.2 393.6L481.3 392.9L481.4 385.9L481.6 386.0L481.7 387.8L481.8 387.5L481.9 387.5L482.0 386.5L482.2 387.7L482.3 389.2L482.4 389.4L482.5 392.4L482.6 376.8L482.8 387.0L482.9 388.4L483.0 387.8L483.1 384.5L483.2 382.6L483.4 388.8L483.5 393.4L483.6 381.6L483.7 391.2L483.8 380.5L484.0 380.4L484.1 372.5L484.2 369.3L484.3 377.4L484.4 380.2L484.6 383.0L484.7 378.6L484.8 373.0L484.9 381.9L485.0 372.1L485.2 371.8L485.3 369.7L485.4 374.9L485.5 370.6L485.6 383.4L485.8 374.8L485.9 380.2L486.0 370.1L486.1 363.2L486.2 369.1L486.4 365.1L486.5 372.6L486.6 358.1L486.7 372.3L486.8 362.9L487.0 432.3L487.1 372.7L487.2 363.7L487.3 365.4L487.4 365.2L487.6 363.0L487.7 361.7L487.8 365.8L487.9 358.9L488.0 362.5L488.2 357.4L488.3 359.8L488.4 364.6L488.5 362.5L488.6 359.8L488.8 359.7L488.9 355.7L489.0 368.0L489.1 359.6L489.2 372.5L489.4 365.1L489.5 360.7L489.6 368.0L489.7 364.2L489.8 355.4L490.0 416.2L490.1 356.6L490.2 360.3L490.3 345.6L490.4 357.4L490.6 358.6L490.7 347.3L490.8 355.1L490.9 360.2L491.0 352.6L491.2 356.8L491.3 354.5L491.4 355.8L491.5 360.0L491.6 349.9L491.8 356.6L491.9 363.1L492.0 362.3L492.1 353.0L492.2 359.7L492.4 356.4L492.5 352.8L492.6 357.5L492.7 367.1L492.8 357.1L493.0 355.0L493.1 356.3L493.2 351.6L493.3 358.1L493.4 355.7L493.6 353.0L493.7 364.5L493.8 353.3L493.9 354.8L494.0 360.0L494.2 354.3L494.3 359.3L494.4 370.6L494.5 358.4L494.6 362.7L494.8 362.8L494.9 364.0L495.0 357.3L495.1 358.8L495.2 368.5L495.4 368.4L495.5 361.9L495.6 370.4L495.7 370.6L495.8 371.1L496.0 369.5L496.1 366.3L496.2 363.5L496.3 358.7L496.4 361.6L496.6 361.7L496.7 361.6L496.8 359.9L496.9 370.2L497.0 410.9L497.2 370.9L497.3 373.5L497.4 378.1L497.5 379.1L497.6 376.9L497.8 382.7L497.9 372.5L498.0 376.1L498.1 374.4L498.2 375.3L498.4 371.9L498.5 378.5L498.6 374.1L498.7 383.8L498.8 388.7L499.0 387.9L499.1 373.0L499.2 392.0L499.3 381.3L499.4 374.7L499.6 384.5L499.7 372.3L499.8 371.6L499.9 375.2L500.0 367.2L500.2 374.8L500.3 381.8L500.4 374.4L500.5 379.1L500.6 385.2L500.8 384.6L500.9 369.4L501.0 382.8L501.1 381.4L501.2 385.6L501.4 384.0L501.5 385.4L501.6 388.7L501.7 394.4L501.8 394.3L502.0 391.8L502.1 387.3L502.2 378.2L502.3 381.7L502.4 378.3L502.6 390.8L502.7 390.8L502.8 396.1L502.9 389.4L503.0 399.1L503.2 391.8L503.3 379.0L503.4 387.3L503.5 385.9L503.6 393.4L503.8 398.2L503.9 392.4L504.0 391.7L504.1 383.7L504.2 382.1L504.4 395.4L504.5 394.9L504.6 394.7L504.7 394.7L504.8 399.0L505.0 392.5L505.1 392.8L505.2 400.2L505.3 401.1L505.4 396.5L505.6 405.3L505.7 392.2L505.8 402.9L505.9 400.7L506.0 400.3L506.2 400.8L506.3 401.5L506.4 404.5L506.5 388.0L506.6 391.7L506.8 389.2L506.9 378.3L507.0 386.3L507.1 381.8L507.2 385.0L507.4 378.3L507.5 381.3L507.6 380.1L507.7 381.3L507.8 378.7L508.0 375.5L508.1 390.8L508.2 379.1L508.3 377.1L508.4 376.6L508.6 383.3L508.7 366.9L508.8 374.3L508.9 367.6L509.0 373.9L509.2 373.9L509.3 364.2L509.4 371.2L509.5 366.2L509.6 360.6L509.8 358.8L509.9 358.0L510.0 357.8L510.1 344.8L510.2 352.3L510.4 360.5L510.5 359.1L510.6 359.6L510.7 356.3L510.8 355.6L511.0 354.2L511.1 348.5L511.2 349.4L511.3 351.1L511.4 349.2L511.6 346.5L511.7 339.4L511.8 341.6L511.9 337.3L512.0 360.1L512.2 343.0L512.3 336.8L512.4 331.1L512.5 342.4L512.6 349.5L512.8 336.7L512.9 340.4L513.0 370.6L513.1 337.5L513.2 328.4L513.4 327.0L513.5 327.3L513.6 334.3L513.7 315.3L513.8 333.2L514.0 328.2L514.1 332.2L514.2 316.5L514.3 320.4L514.4 315.9L514.6 318.6L514.7 318.0L514.8 315.3L514.9 322.5L515.0 305.9L515.2 304.3L515.3 310.0L515.4 306.7L515.5 304.6L515.6 296.5L515.8 301.0L515.9 304.6L516.0 308.2L516.1 314.1L516.2 309.1L516.4 306.4L516.5 309.1L516.6 307.9L516.7 303.3L516.8 304.9L517.0 306.1L517.1 302.3L517.2 305.3L517.3 306.4L517.4 302.6L517.6 330.5L517.7 294.8L517.8 307.5L517.9 302.0L518.0 320.8L518.2 297.9L518.3 301.6L518.4 305.0L518.5 294.7L518.6 300.7L518.8 298.1L518.9 299.2L519.0 294.0L519.1 293.3L519.2 294.9L519.4 302.7L519.5 297.4L519.6 294.6L519.7 286.5L519.8 295.2L520.0 296.8L520.1 287.3L520.2 295.7L520.3 294.1L520.4 294.6L520.6 301.8L520.7 290.7L520.8 292.7L520.9 293.7L521.0 298.1L521.2 293.5L521.3 290.9L521.4 301.9L521.5 308.5L521.6 300.3L521.8 311.6L521.9 316.7L522.0 306.1L522.1 308.3L522.2 304.4L522.4 305.6L522.5 298.4L522.6 300.2L522.7 300.4L522.8 297.6L523.0 291.8L523.1 291.3L523.2 292.6L523.3 293.2L523.4 312.2L523.6 299.5L523.7 295.3L523.8 290.3L523.9 298.8L524.0 284.1L524.2 289.8L524.3 293.6L524.4 287.1L524.5 289.3L524.6 291.3L524.8 287.4L524.9 290.7L525.0 295.1L525.1 290.4L525.2 287.8L525.4 290.6L525.5 276.3L525.6 289.8L525.7 275.6L525.8 282.3L526.0 290.9L526.1 285.7L526.2 281.2L526.3 289.6L526.4 295.3L526.6 290.9L526.7 282.0L526.8 298.2L526.9 286.8L527.0 291.7L527.2 289.5L527.3 293.0L527.4 293.7L527.5 283.8L527.6 287.0L527.8 296.0L527.9 285.0L528.0 301.2L528.1 292.8L528.2 294.7L528.4 290.4L528.5 293.3L528.6 290.8L528.7 296.3L528.8 293.6L529.0 292.8L529.1 283.0L529.2 296.6L529.3 288.2L529.4 291.6L529.6 294.3L529.7 298.6L529.8 294.3L529.9 306.6L530.0 303.6L530.2 294.9L530.3 305.8L530.4 295.3L530.5 307.0L530.6 306.0L530.8 306.5L530.9 307.2L531.0 312.9L531.1 315.8L531.2 330.8L531.4 313.3L531.5 315.6L531.6 311.4L531.7 316.5L531.8 322.8L532.0 332.6L532.1 319.9L532.2 336.4L532.3 325.1L532.4 319.4L532.6 318.0L532.7 325.3L532.8 321.3L532.9 322.1L533.0 333.2L533.2 326.8L533.3 328.0L533.4 322.9L533.5 331.1L533.6 331.0L533.8 335.8L533.9 332.5L534.0 332.3L534.1 329.9L534.2 328.6L534.4 330.7L534.5 329.8L534.6 332.2L534.7 333.4L534.8 326.2L535.0 345.5L535.1 334.2L535.2 330.6L535.3 330.1L535.4 343.0L535.6 339.2L535.7 337.1L535.8 344.2L535.9 350.6L536.0 342.2L536.2 347.3L536.3 336.4L536.4 346.9L536.5 330.7L536.6 339.7L536.8 344.4L536.9 341.8L537.0 343.0L537.1 335.1L537.2 329.6L537.4 338.5L537.5 334.1L537.6 345.5L537.7 351.2L537.8 329.3L538.0 346.9L538.1 334.2L538.2 336.4L538.3 353.3L538.4 357.3L538.6 350.9L538.7 335.8L538.8 344.9L538.9 340.6L539.0 336.2L539.2 337.1L539.3 335.4L539.4 338.5L539.5 333.5L539.6 337.3L539.8 324.7L539.9 336.7L540.0 339.2L540.1 331.3L540.2 332.1L540.4 345.3L540.5 341.0L540.6 340.4L540.7 340.1L540.8 330.4L541.0 338.0L541.1 333.1L541.2 335.9L541.3 331.8L541.4 334.7L541.6 340.1L541.7 339.7L541.8 338.1L541.9 335.3L542.0 337.5L542.2 332.4L542.3 336.2L542.4 336.7L542.5 334.0L542.6 333.8L542.8 330.9L542.9 328.8L543.0 329.4L543.1 335.7L543.2 340.5L543.4 349.0L543.5 330.7L543.6 346.8L543.7 337.2L543.8 334.0L544.0 340.8L544.1 343.6L544.2 329.4L544.3 329.5L544.4 339.5L544.6 333.2L544.7 333.2L544.8 343.7L544.9 324.8L545.0 346.0L545.2 341.8L545.3 347.2L545.4 341.2L545.5 347.3L545.6 342.4L545.8 331.5L545.9 336.4L546.0 341.1L546.1 332.7L546.2 342.6L546.4 333.1L546.5 338.1L546.6 334.3L546.7 335.6L546.8 332.6L547.0 333.2L547.1 338.5L547.2 335.1L547.3 331.3L547.4 336.2L547.6 342.1L547.7 340.1L547.8 341.6L547.9 339.6L548.0 341.1L548.2 339.3L548.3 343.4L548.4 339.7L548.5 347.2L548.6 351.9L548.8 337.3L548.9 348.7L549.0 345.2L549.1 346.9L549.2 337.8L549.4 348.4L549.5 340.3L549.6 344.9L549.7 346.4L549.8 350.7L550.0 340.5L550.1 338.1L550.2 336.7L550.3 330.4L550.4 340.2L550.6 338.8L550.7 341.4L550.8 339.4L550.9 342.2L551.0 384.0L551.2 330.3L551.3 350.7L551.4 340.1L551.5 340.2L551.6 342.3L551.8 349.8L551.9 346.5L552.0 347.5L552.1 350.8L552.2 346.7L552.4 356.7L552.5 349.6L552.6 344.6L552.7 353.6L552.8 344.5L553.0 348.2L553.1 343.9L553.2 346.6L553.3 348.5L553.4 353.1L553.6 353.7L553.7 355.4L553.8 351.0L553.9 349.2L554.0 349.8L554.2 357.5L554.3 353.3L554.4 360.7L554.5 360.7L554.6 353.8L554.8 350.2L554.9 355.4L555.0 354.7L555.1 342.9L555.2 350.5L555.4 355.2L555.5 336.1L555.6 348.8L555.7 353.2L555.8 347.4L556.0 355.1L556.1 344.0L556.2 359.7L556.3 355.4L556.4 347.8L556.6 351.0L556.7 338.8L556.8 352.9L556.9 348.9L557.0 345.8L557.2 349.1L557.3 342.9L557.4 347.8L557.5 340.1L557.6 355.3L557.8 354.1L557.9 350.0L558.0 357.8L558.1 357.2L558.2 358.3L558.4 359.1L558.5 360.2L558.6 355.2L558.7 361.2L558.8 351.8L559.0 361.4L559.1 345.8L559.2 348.9L559.3 349.8L559.4 359.0L559.6 359.7L559.7 349.8L559.8 356.2L559.9 355.1L560.0 361.5L560.2 353.3L560.3 360.7L560.4 359.3L560.5 366.6L560.6 359.2L560.8 354.4L560.9 362.1L561.0 361.9L561.1 354.5L561.2 358.1L561.4 352.2L561.5 370.9L561.6 356.0L561.7 359.0L561.8 369.1L562.0 366.6L562.1 355.8L562.2 366.7L562.3 364.5L562.4 358.7L562.6 365.5L562.7 359.5L562.8 367.4L562.9 360.0L563.0 356.3L563.2 359.2L563.3 368.8L563.4 355.0L563.5 359.2L563.6 363.7L563.8 350.7L563.9 367.6L564.0 346.7L564.1 361.0L564.2 350.9L564.4 360.3L564.5 367.7L564.6 358.7L564.7 355.4L564.8 353.9L565.0 349.7L565.1 355.6L565.2 348.0L565.3 343.9L565.4 345.1L565.6 346.3L565.7 343.7L565.8 334.5L565.9 335.2L566.0 345.2L566.2 343.8L566.3 333.2L566.4 348.2L566.5 338.6L566.6 345.8L566.8 352.6L566.9 342.5L567.0 343.6L567.1 335.2L567.2 331.5L567.4 347.9L567.5 337.2L567.6 339.0L567.7 345.6L567.8 346.0L568.0 328.5L568.1 339.1L568.2 337.0L568.3 336.9L568.4 335.6L568.6 334.9L568.7 331.2L568.8 316.9L568.9 324.1L569.0 328.3L569.2 321.4L569.3 327.9L569.4 321.8L569.5 312.4L569.6 302.2L569.8 312.0L569.9 316.5L570.0 307.8L570.1 321.2L570.2 309.5L570.4 295.6L570.5 297.2L570.6 306.4L570.7 304.3L570.8 287.7L571.0 289.3L571.1 291.3L571.2 284.9L571.3 288.2L571.4 292.9L571.6 277.2L571.7 283.4L571.8 282.5L571.9 287.0L572.0 272.9L572.2 276.2L572.3 266.8L572.4 268.5L572.5 258.8L572.6 264.4L572.8 266.0L572.9 270.5L573.0 262.3L573.1 252.3L573.2 238.2L573.4 258.3L573.5 255.0L573.6 247.4L573.7 244.5L573.8 249.2L574.0 242.4L574.1 250.6L574.2 242.9L574.3 236.9L574.4 236.9L574.6 239.6L574.7 240.6L574.8 238.4L574.9 236.9L575.0 236.9L575.2 243.4L575.3 237.5L575.4 236.9L575.5 246.7L575.6 249.4L575.8 243.6L575.9 243.6L576.0 241.4L576.1 248.7L576.2 254.3L576.4 254.2L576.5 259.8L576.6 257.3L576.7 258.4L576.8 260.7L577.0 255.1L577.1 267.4L577.2 261.1L577.3 266.4L577.4 255.0L577.6 261.7L577.7 267.0L577.8 260.7L577.9 286.5L578.0 308.9L578.2 257.1L578.3 261.3L578.4 259.9L578.5 261.4L578.6 263.7L578.8 269.0L578.9 274.8L579.0 269.5L579.1 270.7L579.2 267.4L579.4 270.0L579.5 275.4L579.6 274.2L579.7 264.2L579.8 260.7L580.0 269.8L580.1 265.5L580.2 259.8L580.3 270.3L580.4 267.0L580.6 270.8L580.7 255.6L580.8 261.1L580.9 267.0L581.0 272.9L581.2 262.3L581.3 256.6L581.4 262.8L581.5 264.0L581.6 258.6L581.8 267.2L581.9 262.4L582.0 263.3L582.1 268.5L582.2 270.2L582.4 267.3L582.5 267.6L582.6 268.9L582.7 267.0L582.8 269.5L583.0 274.0L583.1 274.2L583.2 263.5L583.3 260.7L583.4 258.4L583.6 267.5L583.7 258.1L583.8 259.2L583.9 264.7L584.0 263.0L584.2 258.7L584.3 251.6L584.4 266.2L584.5 255.7L584.6 259.3L584.8 259.9L584.9 253.2L585.0 253.9L585.1 261.7L585.2 256.1L585.4 253.1L585.5 262.0L585.6 250.5L585.7 255.9L585.8 255.7L586.0 253.8L586.1 246.6L586.2 256.3L586.3 258.9L586.4 251.4L586.6 262.2L586.7 264.6L586.8 266.9L586.9 255.2L587.0 258.4L587.2 261.2L587.3 263.8L587.4 263.3L587.5 268.4L587.6 266.7L587.8 259.3L587.9 261.7L588.0 257.9L588.1 270.0L588.2 268.8L588.4 269.6L588.5 258.8L588.6 273.0L588.7 264.9L588.8 259.6L589.0 267.6L589.1 264.0L589.2 279.7L589.3 272.0L589.4 279.2L589.6 274.7L589.7 273.7L589.8 279.1L589.9 271.6L590.0 275.9L590.2 286.2L590.3 287.5L590.4 294.6L590.5 292.7L590.6 281.3L590.8 295.9L590.9 297.9L591.0 304.4L591.1 299.1L591.2 302.3L591.4 305.2L591.5 314.8L591.6 308.6L591.7 298.2L591.8 309.8L592.0 306.4L592.1 311.7L592.2 318.4L592.3 308.0L592.4 308.6L592.6 313.2L592.7 316.4L592.8 309.0L592.9 314.9L593.0 307.1L593.2 307.9L593.3 317.2L593.4 306.6L593.5 310.4L593.6 309.9L593.8 302.6L593.9 308.5L594.0 302.6L594.1 298.1L594.2 303.1L594.4 316.2L594.5 311.9L594.6 304.1L594.7 310.9L594.8 315.5L595.0 314.0L595.1 309.4L595.2 309.9L595.3 309.3L595.4 316.8L595.6 316.0L595.7 313.4L595.8 311.1L595.9 320.3L596.0 308.0L596.2 313.9L596.3 300.6L596.4 300.3L596.5 299.2L596.6 306.3L596.8 311.2L596.9 304.3L597.0 310.4L597.1 305.5L597.2 315.6L597.4 311.3L597.5 305.8L597.6 297.5L597.7 306.2L597.8 293.5L598.0 289.1L598.1 307.7L598.2 303.0L598.3 305.3L598.4 299.1L598.6 303.7L598.7 301.2L598.8 299.0L598.9 297.8L599.0 303.6L599.2 304.0L599.3 305.7L599.4 304.9L599.5 302.8L599.6 306.3L599.8 301.5L599.9 310.2L600.0 296.2L600.1 291.8L600.2 298.6L600.4 306.6L600.5 291.0L600.6 301.9L600.7 310.7L600.8 295.7L601.0 291.8L601.1 292.5L601.2 288.8L601.3 293.5L601.4 295.3L601.6 304.8L601.7 299.2L601.8 293.2L601.9 292.4L602.0 308.5L602.2 299.5L602.3 292.0L602.4 305.9L602.5 304.8L602.6 294.3L602.8 293.1L602.9 299.2L603.0 309.3L603.1 297.2L603.2 303.4L603.4 299.7L603.5 313.5L603.6 294.1L603.7 292.2L603.8 298.8L604.0 291.1L604.1 289.9L604.2 292.0L604.3 288.2L604.4 301.0L604.6 290.3L604.7 294.3L604.8 301.9L604.9 296.5L605.0 300.6L605.2 304.4L605.3 296.4L605.4 291.6L605.5 299.1L605.6 297.0L605.8 305.7L605.9 297.5L606.0 290.6L606.1 294.7L606.2 299.2L606.4 303.0L606.5 306.5L606.6 302.9L606.7 307.5L606.8 324.8L607.0 293.4L607.1 303.7L607.2 291.6L607.3 307.0L607.4 297.2L607.6 306.1L607.7 299.6L607.8 303.6L607.9 300.0L608.0 300.7L608.2 301.3L608.3 294.2L608.4 287.4L608.5 297.4L608.6 289.0L608.8 289.2L608.9 284.3L609.0 276.8L609.1 292.8L609.2 284.1L609.4 288.9L609.5 283.3L609.6 282.5L609.7 262.2L609.8 278.4L610.0 272.5L610.1 280.2L610.2 289.2L610.3 282.6L610.4 276.1L610.6 283.1L610.7 281.2L610.8 279.0L610.9 288.5L611.0 286.2L611.2 277.7L611.3 273.6L611.4 280.5L611.5 280.7L611.6 281.7L611.8 285.3L611.9 282.8L612.0 305.8L612.1 286.2L612.2 293.5L612.4 291.9L612.5 287.0L612.6 296.7L612.7 289.2L612.8 294.1L613.0 290.9L613.1 281.9L613.2 287.4L613.3 288.6L613.4 289.6L613.6 286.3L613.7 274.9L613.8 300.9L613.9 287.2L614.0 290.1L614.2 285.8L614.3 303.0L614.4 307.3L614.5 290.2L614.6 308.2L614.8 298.8L614.9 306.9L615.0 307.2L615.1 306.7L615.2 298.9L615.4 300.4L615.5 309.2L615.6 304.0L615.7 305.9L615.8 304.7L616.0 304.5L616.1 296.2L616.2 303.8L616.3 298.6L616.4 297.2L616.6 298.6L616.7 302.6L616.8 292.9L616.9 304.9L617.0 297.4L617.2 307.7L617.3 299.6L617.4 317.8L617.5 297.7L617.6 310.3L617.8 313.9L617.9 305.9L618.0 293.3L618.1 300.3L618.2 310.8L618.4 306.6L618.5 298.7L618.6 312.0L618.7 305.1L618.8 305.7L619.0 357.2L619.1 307.0L619.2 299.5L619.3 309.5L619.4 308.9L619.6 298.5L619.7 300.8L619.8 312.8L619.9 300.4L620.0 306.7L620.2 309.1L620.3 306.5L620.4 307.1L620.5 315.0L620.6 316.6L620.8 319.0L620.9 318.9L621.0 324.3L621.1 317.7L621.2 323.5L621.4 316.2L621.5 316.7L621.6 322.3L621.7 313.6L621.8 304.5L622.0 305.3L622.1 319.4L622.2 306.8L622.3 312.9L622.4 313.1L622.6 316.4L622.7 313.1L622.8 307.1L622.9 309.8L623.0 316.5L623.2 317.0L623.3 312.6L623.4 307.1L623.5 300.0L623.6 315.9L623.8 308.8L623.9 309.4L624.0 310.4L624.1 303.4L624.2 299.8L624.4 310.9L624.5 307.8L624.6 294.9L624.7 295.9L624.8 294.8L625.0 299.7L625.1 296.4L625.2 291.7L625.3 296.3L625.4 294.6L625.6 287.8L625.7 283.4L625.8 293.5L625.9 283.6L626.0 286.2L626.2 286.9L626.3 283.5L626.4 283.1L626.5 276.8L626.6 277.7L626.8 287.8L626.9 287.8L627.0 272.5L627.1 276.8L627.2 276.7L627.4 276.7L627.5 268.4L627.6 285.0L627.7 273.0L627.8 282.8L628.0 276.6L628.1 268.9L628.2 282.9L628.3 275.5L628.4 279.7L628.6 281.2L628.7 283.6L628.8 284.9L628.9 283.4L629.0 277.0L629.2 271.8L629.3 279.6L629.4 283.6L629.5 262.0L629.6 265.0L629.8 266.6L629.9 271.6L630.0 270.9L630.1 267.2L630.2 276.0L630.4 264.0L630.5 268.9L630.6 270.0L630.7 277.1L630.8 276.7L631.0 276.7L631.1 271.4L631.2 273.7L631.3 274.0L631.4 268.9L631.6 268.2L631.7 263.5L631.8 270.8L631.9 277.1L632.0 351.8L632.2 267.2L632.3 277.0L632.4 274.5L632.5 276.3L632.6 272.7L632.8 274.7L632.9 279.6L633.0 278.3L633.1 270.1L633.2 269.8L633.4 270.0L633.5 268.6L633.6 273.5L633.7 273.8L633.8 267.8L634.0 279.6L634.1 272.8L634.2 280.3L634.3 270.5L634.4 273.3L634.6 275.0L634.7 266.3L634.8 275.4L634.9 283.7L635.0 269.5L635.2 269.8L635.3 260.1L635.4 271.7L635.5 270.0L635.6 276.2L635.8 273.8L635.9 274.5L636.0 273.1L636.1 277.7L636.2 273.8L636.4 267.9L636.5 277.2L636.6 277.7L636.7 277.8L636.8 259.6L637.0 263.8L637.1 266.0L637.2 263.0L637.3 268.3L637.4 267.8L637.6 268.0L637.7 267.9L637.8 271.6L637.9 271.3L638.0 269.8L638.2 268.8L638.3 281.5L638.4 272.6L638.5 265.8L638.6 343.8L638.8 266.7L638.9 272.6L639.0 261.0L639.1 269.6L639.2 268.3L639.4 266.2L639.5 251.5L639.6 266.5L639.7 271.1L639.8 261.8L640.0 263.4L640.1 261.3L640.2 270.4L640.3 274.6L640.4 270.3L640.6 266.5L640.7 268.8L640.8 265.5L640.9 279.8L641.0 278.6L641.2 276.0L641.3 272.3L641.4 275.7L641.5 280.5L641.6 283.1L641.8 274.7L641.9 274.3L642.0 266.9L642.1 280.6L642.2 273.6L642.4 289.0L642.5 284.7L642.6 285.7L642.7 285.2L642.8 288.4L643.0 288.3L643.1 285.9L643.2 289.4L643.3 284.8L643.4 289.4L643.6 290.0L643.7 284.9L643.8 292.7L643.9 294.7L644.0 297.4L644.2 295.1L644.3 293.6L644.4 300.8L644.5 292.7L644.6 291.3L644.8 294.3L644.9 304.2L645.0 310.5L645.1 306.7L645.2 302.0L645.4 300.0L645.5 304.1L645.6 304.8L645.7 295.5L645.8 307.6L646.0 299.4L646.1 299.9L646.2 310.3L646.3 300.8L646.4 307.0L646.6 309.1L646.7 317.1L646.8 316.4L646.9 307.8L647.0 313.9L647.2 310.4L647.3 317.1L647.4 312.1L647.5 310.4L647.6 316.7L647.8 318.6L647.9 308.0L648.0 310.0L648.1 311.3L648.2 306.5L648.4 303.0L648.5 295.0L648.6 309.5L648.7 303.5L648.8 296.9L649.0 307.1L649.1 298.5L649.2 320.1L649.3 299.0L649.4 307.8L649.6 315.6L649.7 304.9L649.8 304.5L649.9 303.0L650.0 305.7L650.2 312.0L650.3 315.4L650.4 314.3L650.5 315.0L650.6 316.7L650.8 317.4L650.9 315.2L651.0 313.6L651.1 316.3L651.2 304.0L651.4 304.5L651.5 323.1L651.6 322.4L651.7 325.1L651.8 322.1L652.0 315.9L652.1 324.3L652.2 324.5L652.3 320.9L652.4 316.1L652.6 320.4L652.7 319.8L652.8 313.2L652.9 315.2L653.0 313.8L653.2 309.7L653.3 319.7L653.4 312.5L653.5 314.3L653.6 304.1L653.8 303.8L653.9 311.4L654.0 297.4L654.1 311.2L654.2 301.9L654.4 306.2L654.5 309.8L654.6 311.0L654.7 307.4L654.8 307.7L655.0 310.6L655.1 303.8L655.2 312.4L655.3 300.5L655.4 298.2L655.6 306.4L655.7 294.5L655.8 302.5L655.9 306.1L656.0 295.0L656.2 294.1L656.3 288.3L656.4 293.6L656.5 288.6L656.6 285.9L656.8 285.9L656.9 284.7L657.0 288.9L657.1 294.5L657.2 288.8L657.4 284.9L657.5 287.0L657.6 290.3L657.7 294.0L657.8 281.4L658.0 283.1L658.1 289.0L658.2 280.1L658.3 275.1L658.4 277.4L658.6 273.7L658.7 276.8L658.8 284.9L658.9 280.1L659.0 274.5L659.2 273.2L659.3 271.4L659.4 289.5L659.5 279.7L659.6 274.8L659.8 271.6L659.9 265.8L660.0 280.1L660.1 278.3L660.2 280.3L660.4 270.8L660.5 279.8L660.6 266.9L660.7 266.8L660.8 272.5L661.0 282.2L661.1 275.1L661.2 268.9L661.3 279.5L661.4 275.5L661.6 274.4L661.7 271.3L661.8 272.4L661.9 273.3L662.0 357.2L662.2 277.2L662.3 276.6L662.4 271.4L662.5 275.6L662.6 268.4L662.8 284.4L662.9 269.5L663.0 280.2L663.1 274.4L663.2 276.6L663.4 271.9L663.5 267.1L663.6 280.9L663.7 274.0L663.8 275.4L664.0 270.4L664.1 278.0L664.2 269.3L664.3 267.1L664.4 271.1L664.6 270.2L664.7 282.0L664.8 264.4L664.9 271.7L665.0 264.4L665.2 278.6L665.3 279.7L665.4 272.1L665.5 281.7L665.6 272.6L665.8 277.6L665.9 278.3L666.0 273.2L666.1 271.6L666.2 261.2L666.4 269.9L666.5 280.2L666.6 270.4L666.7 283.0L666.8 275.7L667.0 282.7L667.1 278.4L667.2 270.1L667.3 279.5L667.4 280.6L667.6 280.5L667.7 279.5L667.8 272.0L667.9 286.0L668.0 286.0L668.2 277.2L668.3 288.8L668.4 280.5L668.5 274.4L668.6 282.0L668.8 282.8L668.9 286.2L669.0 284.1L669.1 285.8L669.2 282.7L669.4 277.9L669.5 280.0L669.6 289.4L669.7 292.0L669.8 287.2L670.0 300.2L670.1 293.9L670.2 294.8L670.3 299.1L670.4 298.4L670.6 291.7L670.7 305.5L670.8 304.3L670.9 303.6L671.0 300.6L671.2 312.1L671.3 296.4L671.4 303.9L671.5 302.2L671.6 303.6L671.8 305.8L671.9 305.7L672.0 292.6L672.1 296.5L672.2 296.4L672.4 292.1L672.5 301.9L672.6 297.1L672.7 301.8L672.8 306.3L673.0 296.4L673.1 308.7L673.2 300.5L673.3 310.2L673.4 301.0L673.6 295.7L673.7 300.7L673.8 308.3L673.9 303.5L674.0 305.8L674.2 311.9L674.3 311.8L674.4 305.9L674.5 304.5L674.6 318.8L674.8 310.3L674.9 307.2L675.0 309.0L675.1 315.4L675.2 306.4L675.4 316.3L675.5 306.9L675.6 301.4L675.7 318.3L675.8 305.8L676.0 305.7L676.1 306.3L676.2 310.0L676.3 312.2L676.4 318.0L676.6 313.0L676.7 313.5L676.8 320.3L676.9 323.7L677.0 321.7L677.2 322.4L677.3 321.5L677.4 321.6L677.5 317.0L677.6 326.4L677.8 331.0L677.9 312.3L678.0 309.7L678.1 324.8L678.2 321.2L678.4 316.9L678.5 312.6L678.6 315.3L678.7 311.8L678.8 315.9L679.0 312.5L679.1 313.6L679.2 316.3L679.3 305.9L679.4 307.5L679.6 303.6L679.7 311.0L679.8 302.4L679.9 311.9L680.0 302.6L680.2 320.3L680.3 309.3L680.4 300.1L680.5 305.3L680.6 301.8L680.8 310.0L680.9 292.8L681.0 298.6L681.1 302.4L681.2 308.7L681.4 299.4L681.5 292.2L681.6 295.6L681.7 308.1L681.8 297.9L682.0 287.3L682.1 290.2L682.2 291.3L682.3 282.5L682.4 283.5L682.6 280.8L682.7 291.9L682.8 289.4L682.9 279.5L683.0 283.2L683.2 278.9L683.3 270.2L683.4 284.7L683.5 281.3L683.6 284.1L683.8 285.7L683.9 283.9L684.0 291.2L684.1 299.0L684.2 276.0L684.4 286.0L684.5 281.4L684.6 284.8L684.7 284.9L684.8 282.4L685.0 279.2L685.1 286.3L685.2 273.1L685.3 284.6L685.4 280.4L685.6 268.5L685.7 278.8L685.8 269.8L685.9 277.4L686.0 273.8L686.2 276.4L686.3 275.8L686.4 283.0L686.5 282.1L686.6 274.1L686.8 282.2L686.9 280.9L687.0 274.9L687.1 282.3L687.2 283.3L687.4 286.0L687.5 278.5L687.6 279.8L687.7 281.1L687.8 282.3L688.0 273.0L688.1 282.8L688.2 287.6L688.3 274.8L688.4 276.0L688.6 272.3L688.7 281.1L688.8 268.4L688.9 271.6L689.0 272.5L689.2 280.3L689.3 271.2L689.4 273.2L689.5 268.1L689.6 276.7L689.8 294.0L689.9 276.4L690.0 280.3L690.1 271.7L690.2 277.6L690.4 275.2L690.5 278.9L690.6 278.4L690.7 279.2L690.8 279.3L691.0 275.9L691.1 278.9L691.2 274.2L691.3 278.3L691.4 287.1L691.6 274.2L691.7 266.9L691.8 272.2L691.9 271.4L692.0 271.4L692.2 274.5L692.3 281.0L692.4 271.7L692.5 269.1L692.6 273.3L692.8 275.1L692.9 274.5L693.0 277.3L693.1 276.9L693.2 282.1L693.4 282.6L693.5 285.9L693.6 285.6L693.7 275.6L693.8 280.2L694.0 291.9L694.1 278.8L694.2 291.9L694.3 271.2L694.4 275.3L694.6 275.8L694.7 283.5L694.8 287.8L694.9 285.9L695.0 285.7L695.2 288.9L695.3 285.0L695.4 281.7L695.5 282.4L695.6 290.0L695.8 296.1L695.9 287.7L696.0 291.5L696.1 285.6L696.2 279.0L696.4 280.9L696.5 289.1L696.6 286.6L696.7 283.9L696.8 292.5L697.0 292.4L697.1 288.6L697.2 293.6L697.3 323.8L697.4 296.8L697.6 292.6L697.7 295.0L697.8 287.5L697.9 296.1L698.0 287.9L698.2 289.6L698.3 302.6L698.4 292.0L698.5 299.7L698.6 290.8L698.8 294.5L698.9 299.1L699.0 296.1L699.1 300.0L699.2 297.5L699.4 298.6L699.5 301.2L699.6 296.2L699.7 305.0L699.8 297.8L700.0 306.5L700.1 294.6L700.2 299.3L700.3 299.2L700.4 303.1L700.6 284.2L700.7 302.9L700.8 305.6L700.9 308.1L701.0 297.0L701.2 310.0L701.3 307.3L701.4 313.7L701.5 307.6L701.6 313.3L701.8 311.0L701.9 313.9L702.0 316.4L702.1 311.6L702.2 322.1L702.4 318.6L702.5 309.5L702.6 321.9L702.7 310.1L702.8 314.9L703.0 315.9L703.1 314.3L703.2 311.2L703.3 315.6L703.4 314.0L703.6 310.8L703.7 308.3L703.8 314.1L703.9 320.5L704.0 322.2L704.2 319.8L704.3 312.6L704.4 317.2L704.5 316.8L704.6 309.4L704.8 318.1L704.9 318.2L705.0 320.1L705.1 307.4L705.2 329.2L705.4 318.1L705.5 316.6L705.6 319.7L705.7 309.5L705.8 316.4L706.0 320.3L706.1 329.8L706.2 319.6L706.3 324.6L706.4 319.6L706.6 318.9L706.7 322.5L706.8 314.7L706.9 310.4L707.0 313.8L707.2 315.9L707.3 324.4L707.4 312.8L707.5 311.3L707.6 318.0L707.8 318.7L707.9 314.7L708.0 319.4L708.1 312.8L708.2 324.7L708.4 324.6L708.5 322.0L708.6 327.9L708.7 320.7L708.8 318.1L709.0 327.9L709.1 315.3L709.2 329.7L709.3 319.4L709.4 320.0L709.6 321.7L709.7 322.3L709.8 326.4L709.9 321.9L710.0 320.8L710.2 311.1L710.3 312.7L710.4 320.1L710.5 312.1L710.6 313.9L710.8 317.2L710.9 313.8L711.0 313.6L711.1 319.4L711.2 319.6L711.4 315.2L711.5 320.5L711.6 317.2L711.7 318.4L711.8 321.4L712.0 320.4L712.1 312.6L712.2 307.4L712.3 308.5L712.4 314.4L712.6 306.2L712.7 313.4L712.8 305.8L712.9 301.4L713.0 309.7L713.2 305.5L713.3 307.7L713.4 310.6L713.5 295.2L713.6 296.7L713.8 309.0L713.9 297.7L714.0 303.1L714.1 291.8L714.2 298.0L714.4 298.2L714.5 293.8L714.6 292.9L714.7 297.8L714.8 299.5L715.0 301.5L715.1 298.0L715.2 305.4L715.3 300.6L715.4 302.1L715.6 304.5L715.7 300.2L715.8 309.2L715.9 304.5L716.0 306.2L716.2 296.9L716.3 304.6L716.4 301.8L716.5 299.5L716.6 307.5L716.8 298.7L716.9 305.2L717.0 302.0L717.1 299.9L717.2 295.2L717.4 299.5L717.5 289.6L717.6 297.2L717.7 302.1L717.8 300.9L718.0 296.4L718.1 291.8L718.2 303.5L718.3 304.3L718.4 301.0L718.6 301.7L718.7 302.9L718.8 307.5L718.9 315.9L719.0 307.9L719.2 301.6L719.3 305.2L719.4 316.9L719.5 305.6L719.6 315.7L719.8 299.3L719.9 312.5L720.0 314.4L720.1 305.4L720.2 317.1L720.4 311.7L720.5 313.0L720.6 318.9L720.7 311.3L720.8 321.9L721.0 309.5L721.1 315.4L721.2 322.2L721.3 326.2L721.4 309.0L721.6 311.0L721.7 322.8L721.8 309.6L721.9 315.9L722.0 317.5L722.2 317.4L722.3 318.6L722.4 308.7L722.5 315.8L722.6 325.1L722.8 305.8L722.9 314.4L723.0 323.8L723.1 320.8L723.2 323.2L723.4 321.3L723.5 320.2L723.6 320.7L723.7 326.2L723.8 327.8L724.0 321.7L724.1 327.8L724.2 319.3L724.3 334.3L724.4 329.6L724.6 332.9L724.7 339.1L724.8 329.5L724.9 336.8L725.0 343.2L725.2 339.8L725.3 334.4L725.4 344.9L725.5 333.4L725.6 338.3L725.8 342.1L725.9 334.6L726.0 338.8L726.1 343.8L726.2 379.6L726.4 341.2L726.5 340.4L726.6 353.4L726.7 355.2L726.8 354.2L727.0 356.7L727.1 361.3L727.2 348.0L727.3 353.3L727.4 353.9L727.6 348.3L727.7 360.8L727.8 358.4L727.9 354.2L728.0 359.4L728.2 358.1L728.3 354.4L728.4 357.7L728.5 352.0L728.6 361.7L728.8 357.1L728.9 365.1L729.0 360.1L729.1 366.2L729.2 363.6L729.4 363.3L729.5 366.0L729.6 362.0L729.7 365.8L729.8 368.6L730.0 376.2L730.1 380.8L730.2 382.1L730.3 377.3L730.4 381.6L730.6 378.1L730.7 386.3L730.8 369.6L730.9 384.9L731.0 386.3L731.2 388.1L731.3 396.0L731.4 381.7L731.5 382.9L731.6 397.8L731.8 394.4L731.9 393.5L732.0 404.5L732.1 387.4L732.2 394.4L732.4 400.9L732.5 397.4L732.6 391.7L732.7 385.7L732.8 398.8L733.0 395.6L733.1 400.5L733.2 386.4L733.3 388.3L733.4 376.2L733.6 385.4L733.7 388.2L733.8 388.3L733.9 386.2L734.0 394.1L734.2 381.1L734.3 379.3L734.4 380.8L734.5 379.5L734.6 370.6L734.8 366.2L734.9 375.7L735.0 369.5L735.1 360.2L735.2 370.2L735.4 368.9L735.5 373.5L735.6 367.1L735.7 367.5L735.8 369.2L736.0 370.0L736.1 373.7L736.2 372.8L736.3 372.0L736.4 362.5L736.6 367.4L736.7 370.0L736.8 363.2L736.9 363.0L737.0 367.5L737.2 365.7L737.3 358.5L737.4 360.3L737.5 364.4L737.6 361.0L737.8 364.3L737.9 357.3L738.0 365.4L738.1 357.6L738.2 360.5L738.4 366.6L738.5 355.7L738.6 356.3L738.7 368.5L738.8 350.3L739.0 361.5L739.1 358.2L739.2 356.7L739.3 360.2L739.4 349.3L739.6 353.3L739.7 349.4L739.8 355.0L739.9 347.7L740.0 340.4L740.2 354.8L740.3 368.8L740.4 358.8L740.5 362.6L740.6 355.2L740.8 354.4L740.9 355.9L741.0 353.3L741.1 347.3L741.2 345.9L741.4 355.0L741.5 337.9L741.6 342.9L741.7 340.7L741.8 338.8L742.0 343.2L742.1 338.3L742.2 333.3L742.3 333.9L742.4 337.7L742.6 341.2L742.7 344.2L742.8 334.7L742.9 340.6L743.0 342.4L743.2 351.2L743.3 346.1L743.4 351.1L743.5 334.4L743.6 335.8L743.8 342.0L743.9 339.4L744.0 321.7L744.1 326.2L744.2 340.2L744.4 333.4L744.5 337.5L744.6 340.4L744.7 330.4L744.8 321.6L745.0 324.3L745.1 330.1L745.2 332.1L745.3 328.0L745.4 322.1L745.6 336.8L745.7 339.3L745.8 319.2L745.9 326.2L746.0 318.8L746.2 323.9L746.3 320.1L746.4 331.0L746.5 325.2L746.6 320.9L746.8 322.2L746.9 332.3L747.0 318.5L747.1 325.9L747.2 331.1L747.4 322.2L747.5 315.9L747.6 318.8L747.7 331.2L747.8 319.9L748.0 321.8L748.1 328.6L748.2 339.4L748.3 321.0L748.4 320.0L748.6 321.5L748.7 334.3L748.8 331.5L748.9 316.6L749.0 317.6L749.2 319.9L749.3 322.9L749.4 319.1L749.5 323.5L749.6 322.7L749.8 326.4L749.9 322.0L750.0 325.5L750.1 318.5L750.2 319.3L750.4 328.3L750.5 316.0L750.6 330.8L750.7 323.7L750.8 321.3L751.0 321.2L751.1 338.4L751.2 320.9L751.3 319.7L751.4 320.3L751.6 336.8L751.7 328.7L751.8 327.1L751.9 327.8L752.0 317.9L752.2 326.4L752.3 316.0L752.4 320.4L752.5 331.8L752.6 328.7L752.8 326.5L752.9 321.7L753.0 316.4L753.1 323.9L753.2 318.6L753.4 332.3L753.5 339.7L753.6 326.8L753.7 323.3L753.8 327.0L754.0 332.7L754.1 324.2L754.2 316.8L754.3 327.6L754.4 329.5L754.6 330.1L754.7 313.7L754.8 319.8L754.9 313.3L755.0 310.0L755.2 311.2L755.3 319.4L755.4 309.1L755.5 308.5L755.6 309.1L755.8 308.4L755.9 316.2L756.0 316.5L756.1 319.2L756.2 313.4L756.4 319.5L756.5 316.0L756.6 325.1L756.7 318.2L756.8 319.2L757.0 318.0L757.1 315.7L757.2 317.7L757.3 318.1L757.4 327.4L757.6 314.3L757.7 320.3L757.8 315.5L757.9 329.5L758.0 310.5L758.2 318.1L758.3 311.1L758.4 306.5L758.5 301.9L758.6 304.4L758.8 305.4L758.9 315.4L759.0 304.8L759.1 306.7L759.2 307.5L759.4 307.8L759.5 312.4L759.6 316.7L759.7 308.2L759.8 310.6L760.0 319.8L760.1 307.6L760.2 310.7L760.3 307.0L760.4 312.0L760.6 311.6L760.7 310.0L760.8 312.7L760.9 328.0L761.0 315.1L761.2 329.7L761.3 328.0L761.4 316.4L761.5 326.6L761.6 314.8L761.8 310.7L761.9 323.7L762.0 313.9L762.1 321.8L762.2 313.9L762.4 325.9L762.5 315.2L762.6 325.5L762.7 318.3L762.8 322.1L763.0 314.2L763.1 319.3L763.2 319.8L763.3 317.1L763.4 324.0L763.6 317.2L763.7 322.3L763.8 318.7L763.9 325.3L764.0 317.7L764.2 316.1L764.3 321.9L764.4 315.9L764.5 316.0L764.6 323.4L764.8 317.7L764.9 313.7L765.0 320.3L765.1 326.0L765.2 316.3L765.4 320.4L765.5 305.5L765.6 317.1L765.7 316.0L765.8 319.1L766.0 315.3L766.1 320.8L766.2 323.0L766.3 318.5L766.4 324.2L766.6 314.0L766.7 325.1L766.8 321.4L766.9 324.8L767.0 329.0L767.2 313.9L767.3 331.1L767.4 313.4L767.5 328.6L767.6 320.8L767.8 309.8L767.9 331.6L768.0 325.9L768.1 312.0L768.2 316.7L768.4 326.1L768.5 319.1L768.6 326.3L768.7 319.4L768.8 310.8L769.0 321.5L769.1 319.4L769.2 311.6L769.3 308.9L769.4 322.5L769.6 315.8L769.7 320.9L769.8 322.0L769.9 320.2L770.0 323.0L770.2 327.4L770.3 330.5L770.4 326.6L770.5 321.8L770.6 316.5L770.8 324.4L770.9 320.9L771.0 313.8L771.1 324.5L771.2 315.6L771.4 313.8L771.5 301.3L771.6 313.0L771.7 312.1L771.8 317.0L772.0 308.6L772.1 312.0L772.2 301.5L772.3 311.4L772.4 308.8L772.6 308.2L772.7 308.0L772.8 321.9L772.9 306.7L773.0 316.7L773.2 315.2L773.3 315.8L773.4 313.9L773.5 313.1L773.6 320.1L773.8 310.3L773.9 309.2L774.0 313.1L774.1 308.8L774.2 292.4L774.4 303.1L774.5 306.6L774.6 298.7L774.7 311.9L774.8 306.4L775.0 306.5L775.1 304.6L775.2 299.8L775.3 300.4L775.4 308.5L775.6 307.3L775.7 301.9L775.8 303.1L775.9 301.8L776.0 307.7L776.2 308.0L776.3 304.4L776.4 309.8L776.5 302.5L776.6 306.3L776.8 312.1L776.9 309.7L777.0 310.1L777.1 306.6L777.2 303.0L777.4 303.1L777.5 306.5L777.6 303.8L777.7 295.2L777.8 297.1L778.0 291.7L778.1 296.1L778.2 298.1L778.3 297.7L778.4 284.5L778.6 293.3L778.7 293.2L778.8 302.1L778.9 298.4L779.0 293.4L779.2 299.9L779.3 296.8L779.4 295.0L779.5 300.4L779.6 295.9L779.8 303.3L779.9 300.4L780.0 307.8L780.1 290.9L780.2 301.9L780.4 306.3L780.5 299.2L780.6 307.5L780.7 303.4L780.8 308.9L781.0 304.6L781.1 306.5L781.2 301.5L781.3 303.9L781.4 307.4L781.6 305.7L781.7 304.9L781.8 307.2L781.9 303.5L782.0 301.0L782.2 303.7L782.3 308.9L782.4 298.4L782.5 305.8L782.6 298.0L782.8 296.0L782.9 301.0L783.0 304.0L783.1 299.9L783.2 293.0L783.4 298.1L783.5 300.3L783.6 306.2L783.7 299.5L783.8 298.4L784.0 311.1L784.1 309.4L784.2 287.8L784.3 308.7L784.4 309.8L784.6 308.0L784.7 304.7L784.8 316.4L784.9 311.9L785.0 313.2L785.2 309.3L785.3 313.7L785.4 317.3L785.5 318.2L785.6 326.2L785.8 311.9L785.9 323.9L786.0 318.0L786.1 307.1L786.2 315.2L786.4 313.3L786.5 318.1L786.6 314.2L786.7 314.1L786.8 319.2L787.0 309.2L787.1 315.8L787.2 321.0L787.3 315.6L787.4 313.0L787.6 319.7L787.7 309.5L787.8 310.6L787.9 304.8L788.0 315.2L788.2 309.7L788.3 323.3L788.4 318.4L788.5 317.8L788.6 316.3L788.8 320.5L788.9 321.2L789.0 326.5L789.1 328.1L789.2 325.9L789.4 326.4L789.5 323.5L789.6 324.2L789.7 324.2L789.8 342.3L790.0 331.4L790.1 328.2L790.2 331.3L790.3 322.7L790.4 325.1L790.6 329.8L790.7 329.8L790.8 327.0L790.9 332.2L791.0 331.9L791.2 328.9L791.3 332.9L791.4 328.3L791.5 334.4L791.6 332.3L791.8 340.7L791.9 342.8L792.0 336.3L792.1 348.0L792.2 332.5L792.4 327.9L792.5 331.6L792.6 336.2L792.7 325.3L792.8 333.2L793.0 328.0L793.1 323.9L793.2 331.7L793.3 329.9L793.4 333.2L793.6 332.0L793.7 332.1L793.8 330.8L793.9 323.1L794.0 333.3L794.2 323.5L794.3 317.3L794.4 327.0L794.5 323.2L794.6 325.4L794.8 321.6L794.9 318.3L795.0 318.5L795.1 325.0L795.2 330.9L795.4 327.1L795.5 325.3L795.6 318.3L795.7 334.1L795.8 325.5L796.0 336.3L796.1 326.0L796.2 327.4L796.3 325.8L796.4 325.0L796.6 324.9L796.7 327.6L796.8 322.7L796.9 320.0L797.0 322.5L797.2 321.1L797.3 323.5L797.4 310.0L797.5 316.4L797.6 318.4L797.8 315.5L797.9 317.1L798.0 312.4L798.1 302.9L798.2 328.2L798.4 295.3L798.5 291.7L798.6 314.0L798.7 293.5L798.8 285.4L799.0 281.3L799.1 296.9L799.2 296.8L799.3 284.6L799.4 288.8L799.6 291.9L799.7 287.4L799.8 292.2L799.9 300.1L800.0 287.5L800.2 284.8L800.3 283.9L800.4 280.8L800.5 287.0L800.6 288.3L800.8 292.2L800.9 296.2L801.0 292.2L801.1 285.5L801.2 289.5L801.4 284.3L801.5 293.9L801.6 303.0L801.7 290.4L801.8 290.8L802.0 302.0L802.1 307.1L802.2 297.0L802.3 293.6L802.4 303.6L802.6 299.3L802.7 303.4L802.8 304.1L802.9 308.2L803.0 301.1L803.2 303.9L803.3 306.3L803.4 315.1L803.5 296.9L803.6 311.9L803.8 316.2L803.9 314.1L804.0 308.1L804.1 313.8L804.2 306.4L804.4 307.0L804.5 301.5L804.6 310.6L804.7 306.1L804.8 304.0L805.0 289.3L805.1 309.0L805.2 300.0L805.3 307.1L805.4 300.4L805.6 297.4L805.7 299.2L805.8 297.8L805.9 298.3L806.0 302.4L806.2 300.8L806.3 305.3L806.4 297.3L806.5 298.3L806.6 297.0L806.8 293.2L806.9 295.6L807.0 295.8L807.1 291.6L807.2 308.2L807.4 297.2L807.5 299.5L807.6 299.8L807.7 305.5L807.8 297.5L808.0 294.9L808.1 295.4L808.2 301.9L808.3 300.3L808.4 299.0L808.6 294.9L808.7 299.5L808.8 303.9L808.9 306.3L809.0 305.7L809.2 304.8L809.3 308.6L809.4 301.8L809.5 312.4L809.6 310.3L809.8 305.9L809.9 308.4L810.0 308.6L810.1 316.1L810.2 301.2L810.4 311.7L810.5 308.6L810.6 304.2L810.7 303.5L810.8 308.4L811.0 292.1L811.1 306.9L811.2 300.1L811.3 295.7L811.4 308.3L811.6 303.2L811.7 307.5L811.8 298.6L811.9 305.2L812.0 308.7L812.2 298.8L812.3 299.8L812.4 309.9L812.5 302.1L812.6 308.4L812.8 297.0L812.9 301.9L813.0 311.8L813.1 310.9L813.2 312.7L813.4 308.8L813.5 309.5L813.6 304.5L813.7 307.6L813.8 312.3L814.0 308.1L814.1 298.0L814.2 302.2L814.3 309.5L814.4 312.2L814.6 309.7L814.7 308.3L814.8 315.5L814.9 306.4L815.0 310.1L815.2 307.8L815.3 321.0L815.4 306.6L815.5 300.0L815.6 315.1L815.8 298.7L815.9 305.1L816.0 311.2L816.1 314.8L816.2 304.9L816.4 310.5L816.5 309.8L816.6 317.0L816.7 321.3L816.8 315.7L817.0 323.4L817.1 313.2L817.2 327.5L817.3 326.6L817.4 329.6L817.6 315.7L817.7 330.0L817.8 327.0L817.9 318.8L818.0 322.4L818.2 313.5L818.3 317.1L818.4 324.5L818.5 322.0L818.6 334.4L818.8 330.4L818.9 328.9L819.0 327.5L819.1 338.7L819.2 329.2L819.4 336.7L819.5 322.1L819.6 323.0L819.7 327.1L819.8 324.7L820.0 322.2L820.1 327.6L820.2 324.6L820.3 330.6L820.4 321.3L820.6 318.0L820.7 322.9L820.8 322.1L820.9 323.5L821.0 318.9L821.2 325.5L821.3 330.2L821.4 330.1L821.5 324.2L821.6 320.8L821.8 323.9L821.9 326.8L822.0 324.8L822.1 331.8L822.2 330.5L822.4 332.7L822.5 327.5L822.6 331.5L822.7 322.1L822.8 325.8L823.0 337.5L823.1 321.7L823.2 325.7L823.3 337.6L823.4 332.1L823.6 326.0L823.7 330.3L823.8 322.5L823.9 324.3L824.0 319.1L824.2 322.6L824.3 325.8L824.4 317.9L824.5 317.0L824.6 318.6L824.8 321.6L824.9 324.0L825.0 323.6L825.1 326.1L825.2 321.4L825.4 321.0L825.5 319.9L825.6 318.0L825.7 316.9L825.8 309.9L826.0 310.0L826.1 316.9L826.2 309.6L826.3 312.6L826.4 309.9L826.6 308.5L826.7 310.6L826.8 313.4L826.9 320.4L827.0 301.6L827.2 293.9L827.3 304.7L827.4 296.6L827.5 297.0L827.6 292.5L827.8 298.0L827.9 295.8L828.0 294.3L828.1 305.7L828.2 296.0L828.4 295.3L828.5 307.7L828.6 291.4L828.7 298.0L828.8 297.9L829.0 297.8L829.1 301.0L829.2 305.2L829.3 301.6L829.4 301.5L829.6 290.9L829.7 290.5L829.8 302.0L829.9 301.8L830.0 297.3L830.2 294.6L830.3 314.2L830.4 301.5L830.5 285.8L830.6 288.7L830.8 301.5L830.9 304.1L831.0 299.7L831.1 295.2L831.2 294.2L831.4 299.5L831.5 306.4L831.6 304.0L831.7 295.7L831.8 301.6L832.0 304.2L832.1 297.2L832.2 302.1L832.3 302.3L832.4 298.5L832.6 306.8L832.7 294.1L832.8 295.0L832.9 303.4L833.0 294.2L833.2 287.9L833.3 306.5L833.4 295.3L833.5 286.9L833.6 299.1L833.8 289.0L833.9 297.7L834.0 290.0L834.1 300.0L834.2 307.3L834.4 292.5L834.5 290.0L834.6 288.1L834.7 288.9L834.8 286.2L835.0 287.0L835.1 285.5L835.2 294.9L835.3 291.1L835.4 273.0L835.6 279.1L835.7 284.9L835.8 284.8L835.9 284.5L836.0 294.5L836.2 284.5L836.3 296.0L836.4 296.0L836.5 285.6L836.6 309.0L836.8 295.3L836.9 307.7L837.0 304.8L837.1 301.8L837.2 303.0L837.4 300.4L837.5 305.0L837.6 301.2L837.7 304.1L837.8 301.0L838.0 304.8L838.1 293.7L838.2 303.4L838.3 294.2L838.4 299.4L838.6 299.4L838.7 292.2L838.8 298.8L838.9 310.8L839.0 298.6L839.2 317.3L839.3 302.4L839.4 308.0L839.5 309.2L839.6 302.7L839.8 304.9L839.9 290.6L840.0 301.4L840.1 290.0L840.2 294.4L840.4 305.0L840.5 305.9L840.6 296.1L840.7 303.5L840.8 304.3L841.0 310.4L841.1 316.6L841.2 319.8L841.3 319.5L841.4 323.6L841.6 317.3L841.7 315.9L841.8 311.1L841.9 319.9L842.0 317.8L842.2 314.8L842.3 312.7L842.4 316.7L842.5 323.5L842.6 319.0L842.8 315.0L842.9 307.6L843.0 325.1L843.1 334.0L843.2 320.8L843.4 326.0L843.5 323.1L843.6 316.4L843.7 321.6L843.8 329.5L844.0 333.1L844.1 324.6L844.2 328.5L844.3 321.3L844.4 329.2L844.6 327.6L844.7 334.1L844.8 329.1L844.9 331.1L845.0 327.9L845.2 327.4L845.3 334.6L845.4 337.6L845.5 324.7L845.6 332.8L845.8 330.9L845.9 335.4L846.0 328.9L846.1 333.1L846.2 331.7L846.4 330.5L846.5 338.8L846.6 337.4L846.7 335.6L846.8 335.5L847.0 335.6L847.1 332.2L847.2 334.8L847.3 338.2L847.4 344.2L847.6 330.8L847.7 329.4L847.8 338.9L847.9 332.9L848.0 335.0L848.2 334.9L848.3 345.4L848.4 341.8L848.5 340.8L848.6 331.2L848.8 346.0L848.9 346.8L849.0 352.6L849.1 348.7L849.2 345.4L849.4 357.3L849.5 360.4L849.6 343.2L849.7 346.9L849.8 346.5L850.0 336.8L850.1 334.6L850.2 354.7L850.3 340.3L850.4 332.9L850.6 342.7L850.7 343.6L850.8 356.2L850.9 342.8L851.0 352.5L851.2 348.3L851.3 352.6L851.4 342.0L851.5 355.1L851.6 340.3L851.8 353.8L851.9 345.2L852.0 355.0L852.1 347.8L852.2 341.0L852.4 340.2L852.5 338.7L852.6 344.8L852.7 344.2L852.8 346.2L853.0 343.8L853.1 346.8L853.2 338.4L853.3 342.0L853.4 334.6L853.6 337.9L853.7 334.5L853.8 342.5L853.9 341.8L854.0 346.6L854.2 342.7L854.3 343.4L854.4 337.6L854.5 346.8L854.6 326.4L854.8 341.5L854.9 335.6L855.0 334.9L855.1 351.3L855.2 343.9L855.4 323.5L855.5 345.6L855.6 324.6L855.7 331.4L855.8 328.1L856.0 323.3L856.1 331.3L856.2 320.2L856.3 322.8L856.4 323.0L856.6 317.0L856.7 299.8L856.8 316.4L856.9 316.5L857.0 319.4L857.2 321.9L857.3 316.5L857.4 308.6L857.5 314.5L857.6 310.5L857.8 316.1L857.9 301.6L858.0 328.6L858.1 309.3L858.2 309.6L858.4 311.0L858.5 317.2L858.6 317.1L858.7 315.1L858.8 312.6L859.0 316.5L859.1 316.9L859.2 308.6L859.3 306.5L859.4 313.0L859.6 317.0L859.7 319.8L859.8 304.0L859.9 311.8L860.0 315.9L860.2 329.0L860.3 305.6L860.4 313.0L860.5 329.0L860.6 321.2L860.8 320.2L860.9 317.2L861.0 321.6L861.1 318.5L861.2 322.1L861.4 316.5L861.5 316.9L861.6 322.0L861.7 323.6L861.8 317.3L862.0 310.0L862.1 312.6L862.2 315.6L862.3 332.3L862.4 316.3L862.6 315.6L862.7 314.7L862.8 319.9L862.9 313.0L863.0 314.7L863.2 301.3L863.3 309.9L863.4 314.0L863.5 311.3L863.6 331.9L863.8 312.2L863.9 316.1L864.0 313.3L864.1 310.5L864.2 310.1L864.4 312.0L864.5 307.7L864.6 314.3L864.7 322.8L864.8 326.5L865.0 319.1L865.1 318.4L865.2 313.2L865.3 309.6L865.4 317.4L865.6 315.9L865.7 308.0L865.8 307.1L865.9 313.8L866.0 310.7L866.2 307.4L866.3 312.5L866.4 315.9L866.5 325.1L866.6 308.6L866.8 314.8L866.9 318.2L867.0 320.9L867.1 327.1L867.2 318.4L867.4 317.7L867.5 312.1L867.6 322.7L867.7 308.3L867.8 318.0L868.0 309.3L868.1 324.4L868.2 313.0L868.3 306.5L868.4 314.3L868.6 322.7L868.7 316.8L868.8 313.4L868.9 322.8L869.0 323.6L869.2 317.8L869.3 327.1L869.4 317.1L869.5 328.7L869.6 334.1L869.8 329.0L869.9 317.8L870.0 330.3L870.1 327.6L870.2 325.2L870.4 331.0L870.5 320.8L870.6 328.1L870.7 326.8L870.8 338.2L871.0 335.8L871.1 342.1L871.2 329.0L871.3 343.2L871.4 325.8L871.6 320.5L871.7 328.5L871.8 327.0L871.9 323.1L872.0 314.7L872.2 332.7L872.3 323.3L872.4 327.4L872.5 328.5L872.6 321.7L872.8 333.6L872.9 336.7L873.0 326.1L873.1 331.2L873.2 334.3L873.4 331.2L873.5 329.0L873.6 337.5L873.7 328.7L873.8 333.4L874.0 326.9L874.1 327.4L874.2 331.6L874.3 334.8L874.4 337.3L874.6 343.2L874.7 328.2L874.8 345.4L874.9 341.4L875.0 334.6L875.2 349.2L875.3 347.0L875.4 344.9L875.5 349.9L875.6 349.8L875.8 347.2L875.9 336.3L876.0 338.1L876.1 340.3L876.2 339.6L876.4 346.6L876.5 336.0L876.6 336.8L876.7 342.8L876.8 336.1L877.0 336.9L877.1 337.6L877.2 340.2L877.3 338.7L877.4 342.6L877.6 335.0L877.7 335.3L877.8 336.4L877.9 339.8L878.0 339.9L878.2 327.7L878.3 348.6L878.4 330.4L878.5 337.5L878.6 338.6L878.8 340.7L878.9 339.6L879.0 344.5L879.1 346.2L879.2 339.0L879.4 348.0L879.5 333.5L879.6 335.0L879.7 357.7L879.8 351.3L880.0 341.6L880.1 340.7L880.2 341.2L880.3 340.4L880.4 337.6L880.6 335.7L880.7 331.8L880.8 337.7L880.9 332.2L881.0 341.6L881.2 339.3L881.3 338.3L881.4 327.0L881.5 322.5L881.6 330.2L881.8 339.9L881.9 334.2L882.0 333.6L882.1 331.7L882.2 328.6L882.4 329.7L882.5 347.8L882.6 327.8L882.7 334.6L882.8 336.5L883.0 325.1L883.1 334.6L883.2 342.9L883.3 344.1L883.4 336.2L883.6 331.1L883.7 332.0L883.8 336.7L883.9 341.0L884.0 327.2L884.2 336.2L884.3 324.1L884.4 327.8L884.5 325.2L884.6 328.0L884.8 325.5L884.9 326.6L885.0 328.0L885.1 325.2L885.2 327.9L885.4 321.7L885.5 324.1L885.6 326.1L885.7 328.1L885.8 351.0L886.0 316.3L886.1 325.9L886.2 327.8L886.3 325.1L886.4 323.3L886.6 329.6L886.7 327.4L886.8 330.5L886.9 326.6L887.0 326.2L887.2 325.7L887.3 334.6L887.4 334.5L887.5 342.8L887.6 324.3L887.8 321.4L887.9 319.7L888.0 320.6L888.1 317.4L888.2 324.8L888.4 321.8L888.5 335.0L888.6 323.1L888.7 321.4L888.8 314.4L889.0 309.1L889.1 320.8L889.2 318.5L889.3 319.4L889.4 327.4L889.6 331.4L889.7 324.2L889.8 332.5L889.9 322.4L890.0 319.1L890.2 319.3L890.3 319.0L890.4 318.3L890.5 325.0L890.6 312.6L890.8 328.6L890.9 322.2L891.0 319.7L891.1 325.0L891.2 330.2L891.4 317.6L891.5 325.9L891.6 314.9L891.7 315.5L891.8 324.9L892.0 317.3L892.1 313.3L892.2 316.9L892.3 324.8L892.4 319.6L892.6 316.0L892.7 318.8L892.8 324.6L892.9 322.2L893.0 323.1L893.2 330.0L893.3 334.8L893.4 321.2L893.5 331.4L893.6 329.1L893.8 337.3L893.9 328.8L894.0 335.2L894.1 314.9L894.2 335.2L894.4 336.5L894.5 324.6L894.6 323.1L894.7 339.0L894.8 331.0L895.0 330.1L895.1 342.4L895.2 333.0L895.3 341.5L895.4 343.0L895.6 338.6L895.7 338.6L895.8 345.3L895.9 326.6L896.0 339.0L896.2 337.9L896.3 330.1L896.4 333.9L896.5 325.1L896.6 334.7L896.8 330.0L896.9 333.0L897.0 330.6L897.1 335.4L897.2 335.0L897.4 328.3L897.5 339.0L897.6 340.2L897.7 339.7L897.8 331.0L898.0 331.8L898.1 330.5L898.2 354.4L898.3 333.9L898.4 334.1L898.6 335.1L898.7 332.1L898.8 343.6L898.9 334.7L899.0 334.0L899.2 342.9L899.3 335.2L899.4 324.8L899.5 336.6L899.6 332.3L899.8 337.9L899.9 344.6L900.0 347.4L900.1 340.3L900.2 333.9L900.4 338.9L900.5 347.6L900.6 341.2L900.7 344.9L900.8 346.5L901.0 340.6L901.1 346.3L901.2 350.6L901.3 336.9L901.4 352.3L901.6 338.6L901.7 351.5L901.8 344.2L901.9 347.7L902.0 352.2L902.2 361.8L902.3 352.9L902.4 353.5L902.5 358.8L902.6 354.4L902.8 355.6L902.9 359.3L903.0 355.8L903.1 367.6L903.2 355.8L903.4 354.0L903.5 343.5L903.6 350.9L903.7 353.1L903.8 348.3L904.0 358.9L904.1 347.1L904.2 351.6L904.3 348.6L904.4 339.4L904.6 343.8L904.7 341.0L904.8 354.1L904.9 344.5L905.0 348.9L905.2 348.4L905.3 358.7L905.4 345.6L905.5 355.5L905.6 359.9L905.8 362.1L905.9 357.3L906.0 345.2L906.1 370.6L906.2 358.5L906.4 354.8L906.5 357.3L906.6 355.3L906.7 349.1L906.8 351.4L907.0 347.8L907.1 358.9L907.2 354.1L907.3 353.4L907.4 349.8L907.6 349.9L907.7 351.3L907.8 351.8L907.9 347.7L908.0 353.8L908.2 357.7L908.3 348.1L908.4 347.2L908.5 354.2L908.6 353.7L908.8 357.4L908.9 353.1L909.0 346.4L909.1 347.2L909.2 353.3L909.4 354.4L909.5 361.4L909.6 352.2L909.7 351.0L909.8 347.0L910.0 342.7L910.1 352.7L910.2 348.8L910.3 358.0L910.4 346.8L910.6 348.0L910.7 344.8L910.8 345.8L910.9 346.9L911.0 340.8L911.2 352.9L911.3 344.7L911.4 343.7L911.5 353.3L911.6 350.9L911.8 341.9L911.9 343.0L912.0 340.1L912.1 341.0L912.2 346.2L912.4 342.5L912.5 337.1L912.6 341.5L912.7 341.7L912.8 345.9L913.0 337.2L913.1 331.5L913.2 348.1L913.3 336.8L913.4 342.1L913.6 344.2L913.7 341.1L913.8 344.2L913.9 340.7L914.0 336.4L914.2 331.3L914.3 333.2L914.4 326.6L914.5 328.3L914.6 333.6L914.8 319.6L914.9 322.0L915.0 400.1L915.1 317.7L915.2 323.9L915.4 328.4L915.5 319.0L915.6 342.1L915.7 339.4L915.8 326.3L916.0 331.7L916.1 334.2L916.2 324.0L916.3 329.0L916.4 337.0L916.6 331.6L916.7 324.8L916.8 322.8L916.9 343.5L917.0 332.3L917.2 335.5L917.3 344.2L917.4 333.2L917.5 342.2L917.6 332.6L917.8 319.5L917.9 325.1L918.0 319.1L918.1 317.0L918.2 322.6L918.4 321.0L918.5 331.8L918.6 325.6L918.7 321.1L918.8 329.7L919.0 331.5L919.1 324.8L919.2 322.9L919.3 334.3L919.4 332.6L919.6 322.4L919.7 325.3L919.8 331.0L919.9 324.9L920.0 324.7L920.2 329.5L920.3 313.5L920.4 321.6L920.5 323.2L920.6 321.5L920.8 313.1L920.9 320.4L921.0 330.9L921.1 324.9L921.2 329.3L921.4 328.9L921.5 322.8L921.6 328.5L921.7 324.9L921.8 328.8L922.0 323.2L922.1 338.4L922.2 325.5L922.3 331.0L922.4 329.6L922.6 342.5L922.7 324.3L922.8 343.1L922.9 341.4L923.0 333.0L923.2 338.9L923.3 337.8L923.4 348.6L923.5 339.6L923.6 336.9L923.8 336.1L923.9 339.2" stroke="#ff6262" stroke-opacity="0.85" stroke-width="0.85" fill="none"/><path d="M78.6 443.1L78.9 450.3L79.3 456.4L79.6 461.4L80.0 465.4L80.3 468.3L80.7 470.2L81.0 471.2L81.4 471.0L81.7 469.5L82.1 467.0L82.4 464.1L82.8 459.1L83.1 452.0L83.5 444.0L83.8 435.1L84.2 424.3L84.5 415.7L84.9 410.9L85.2 406.8L85.6 403.4L85.9 400.4L86.3 397.8L86.6 395.4L87.0 393.1L87.3 390.7L87.7 388.2L88.0 385.3L88.4 382.1L88.7 378.6L89.1 375.1L89.4 371.9L89.8 369.0L90.1 366.1L90.5 363.1L90.8 360.1L91.2 357.1L91.5 354.1L91.9 351.1L92.2 348.1L92.6 345.2L92.9 342.4L93.3 339.7L93.6 337.1L94.0 334.7L94.3 332.5L94.7 330.5L95.0 328.7L95.4 327.1L95.7 325.8L96.1 324.8L96.4 324.1L96.8 323.7L97.1 323.6L97.5 323.8L97.8 324.0L98.2 324.3L98.5 324.6L98.9 324.8L99.2 325.0L99.6 324.3L99.9 320.3L100.3 314.5L100.6 308.3L101.0 303.7L101.3 302.2L101.7 303.6L102.0 306.9L102.4 311.3L102.7 316.2L103.1 321.0L103.4 326.4L103.8 332.8L104.1 339.8L104.5 347.3L104.8 355.2L105.2 363.8L105.5 373.6L105.9 384.0L106.2 394.5L106.6 404.7L106.9 413.9L107.3 422.9L107.6 431.3L108.0 439.1L108.3 446.9L108.7 454.1L109.0 459.2L109.4 462.4L109.7 465.0L110.1 466.3L110.4 466.0L110.8 464.4L111.1 461.8L111.5 458.7L111.8 453.3L112.2 446.0L112.5 438.0L112.9 429.0L113.2 418.6L113.6 410.1L113.9 403.7L114.3 397.8L114.6 392.3L115.0 387.1L115.3 382.3L115.7 378.0L116.0 374.0L116.4 370.5L116.7 367.3L117.1 364.6L117.4 362.2L117.8 359.9L118.1 357.7L118.5 355.8L118.8 354.0L119.2 352.5L119.5 351.4L119.9 350.6L120.2 350.2L120.6 349.8L120.9 349.5L121.3 349.2L121.6 349.0L122.0 348.8L122.3 348.6L122.7 348.5L123.0 348.3L123.4 348.1L123.7 347.8L124.1 347.6L124.4 347.4L124.8 347.2L125.1 347.0L125.5 346.8L125.8 346.6L126.2 346.4L126.5 346.2L126.9 345.9L127.2 345.6L127.6 345.2L127.9 344.8L128.3 344.3L128.6 343.6L129.0 340.1L129.3 333.5L129.7 325.6L130.0 318.4L130.4 313.7L130.7 313.0L131.1 314.5L131.4 317.3L131.8 321.3L132.1 326.3L132.5 332.0L132.8 338.3L133.2 344.9L133.5 351.6L133.9 358.4L134.2 366.8L134.6 376.9L134.9 387.8L135.3 398.7L135.6 408.7L136.0 417.8L136.3 426.6L136.7 434.7L137.0 442.4L137.4 450.1L137.7 456.6L138.1 460.6L138.4 463.6L138.8 465.7L139.1 466.4L139.5 465.4L139.8 463.4L140.2 460.6L140.5 456.7L140.9 450.4L141.2 442.6L141.6 434.4L141.9 423.5L142.3 413.4L142.6 408.6L143.0 405.6L143.3 402.8L143.7 400.5L144.0 398.5L144.4 396.9L144.7 395.8L145.1 395.1L145.4 394.8L145.8 395.3L146.1 397.0L146.5 399.6L146.8 402.7L147.2 406.0L147.5 409.1L147.9 411.6L148.2 413.2L148.6 413.5L148.9 412.6L149.3 410.8L149.6 408.1L150.0 404.9L150.3 401.2L150.7 397.3L151.0 393.4L151.4 389.6L151.7 386.2L152.1 383.2L152.4 380.4L152.8 377.6L153.1 374.8L153.5 372.0L153.8 369.2L154.2 366.5L154.5 363.9L154.9 361.3L155.2 358.9L155.6 356.5L155.9 354.0L156.3 351.3L156.6 348.5L157.0 345.9L157.3 343.4L157.7 341.3L158.0 339.7L158.4 338.7L158.7 338.4L159.1 339.0L159.4 340.3L159.8 342.4L160.1 345.1L160.5 348.4L160.8 352.1L161.2 356.2L161.5 360.6L161.9 365.8L162.2 374.1L162.6 384.7L162.9 396.3L163.3 407.6L163.6 417.5L164.0 426.5L164.3 435.1L164.7 443.1L165.0 450.9L165.4 458.3L165.7 464.2L166.1 467.7L166.4 470.5L166.8 472.3L167.1 472.4L167.5 471.1L167.8 468.8L168.2 465.9L168.5 461.3L168.9 454.4L169.2 446.5L169.6 438.0L169.9 427.7L170.3 418.3L170.6 411.5L171.0 404.9L171.3 398.8L171.7 393.7L172.0 390.0L172.4 388.1L172.7 388.2L173.1 388.8L173.4 389.7L173.8 390.8L174.1 392.0L174.5 393.1L174.8 394.2L175.2 395.5L175.5 396.7L175.9 397.4L176.2 397.0L176.6 395.3L176.9 392.6L177.3 389.2L177.6 385.6L178.0 382.2L178.3 378.9L178.7 375.1L179.0 371.3L179.4 368.5L179.7 366.8L180.1 365.5L180.4 364.4L180.8 363.4L181.1 362.6L181.5 361.9L181.8 361.1L182.2 360.3L182.5 359.4L182.9 358.3L183.2 357.0L183.6 355.1L183.9 352.5L184.3 349.5L184.6 346.2L185.0 342.8L185.3 339.3L185.7 336.1L186.0 333.1L186.4 330.7L186.7 328.8L187.1 327.8L187.4 327.8L187.8 329.4L188.1 332.5L188.5 336.8L188.8 342.1L189.2 348.0L189.5 354.3L189.9 360.7L190.2 367.8L190.6 376.9L190.9 387.5L191.3 398.6L191.6 409.3L192.0 418.8L192.3 427.8L192.7 436.3L193.0 444.1L193.4 452.0L193.7 459.3L194.1 464.8L194.4 468.1L194.8 470.8L195.1 472.4L195.5 472.3L195.8 470.8L196.2 468.4L196.5 465.4L196.9 460.4L197.2 453.3L197.6 445.3L197.9 436.5L198.3 425.9L198.6 417.1L199.0 411.4L199.3 406.4L199.7 401.8L200.0 397.7L200.4 394.0L200.7 390.5L201.1 387.3L201.4 384.2L201.8 381.2L202.1 378.2L202.5 375.2L202.8 372.0L203.2 368.6L203.5 364.9L203.9 361.0L204.2 356.9L204.6 352.8L204.9 348.8L205.3 344.9L205.6 341.3L206.0 338.1L206.3 335.3L206.7 333.0L207.0 331.4L207.4 330.5L207.7 330.4L208.1 330.8L208.4 331.6L208.8 332.8L209.1 334.2L209.5 335.7L209.8 337.3L210.2 338.9L210.5 340.3L210.9 341.7L211.2 342.7L211.6 343.4L211.9 343.8L212.3 343.5L212.6 342.6L213.0 341.2L213.3 339.5L213.7 337.6L214.0 335.7L214.4 333.8L214.7 332.2L215.1 331.0L215.4 330.4L215.8 330.8L216.1 333.9L216.5 339.1L216.8 346.0L217.2 353.8L217.5 361.9L217.9 369.8L218.2 378.2L218.6 388.1L218.9 398.6L219.3 409.3L219.6 419.4L220.0 428.7L220.3 437.5L220.7 445.9L221.0 453.6L221.4 461.4L221.7 468.4L222.1 473.1L222.4 476.2L222.8 478.7L223.1 479.8L223.5 479.3L223.8 477.5L224.2 474.8L224.5 471.5L224.9 465.8L225.2 458.3L225.6 450.3L225.9 440.2L226.3 429.2L226.6 423.0L227.0 420.7L227.3 419.2L227.7 417.8L228.0 415.9L228.4 413.0L228.7 409.4L229.1 405.4L229.4 401.3L229.8 397.5L230.1 394.4L230.5 392.1L230.8 390.5L231.2 389.3L231.5 388.2L231.9 387.3L232.2 386.4L232.6 385.5L232.9 384.5L233.3 383.2L233.6 381.7L234.0 379.7L234.3 377.2L234.7 374.5L235.0 371.6L235.4 368.6L235.7 365.7L236.1 362.9L236.4 360.3L236.8 358.2L237.1 356.5L237.5 355.1L237.8 354.0L238.2 352.9L238.5 352.0L238.9 351.2L239.2 350.3L239.6 349.3L239.9 348.2L240.3 347.0L240.6 345.5L241.0 343.8L241.3 340.8L241.7 336.2L242.0 330.4L242.4 323.8L242.7 316.8L243.1 309.9L243.4 303.7L243.8 298.4L244.1 294.7L244.5 292.9L244.8 295.3L245.2 305.9L245.5 321.5L245.9 338.8L246.2 354.5L246.6 366.2L246.9 376.7L247.3 386.8L247.6 396.4L248.0 405.7L248.3 414.8L248.7 423.8L249.0 432.5L249.4 440.4L249.7 448.2L250.1 455.7L250.4 461.5L250.8 465.0L251.1 467.8L251.5 469.6L251.8 469.8L252.2 468.4L252.5 466.1L252.9 463.2L253.2 458.6L253.6 451.7L253.9 443.8L254.3 435.2L254.6 424.6L255.0 415.4L255.3 409.9L255.7 405.5L256.0 401.8L256.4 398.6L256.7 395.7L257.1 393.1L257.4 390.5L257.8 387.7L258.1 384.6L258.5 381.0L258.8 376.6L259.2 371.0L259.5 365.8L259.9 362.0L260.2 358.4L260.6 354.8L260.9 351.5L261.3 348.2L261.6 345.1L262.0 342.2L262.3 339.6L262.7 337.1L263.0 334.9L263.4 332.9L263.7 331.2L264.1 329.7L264.4 328.6L264.8 327.7L265.1 326.8L265.5 325.9L265.8 325.2L266.2 324.4L266.5 323.8L266.9 323.3L267.2 322.8L267.6 322.5L267.9 322.3L268.3 322.4L268.6 324.1L269.0 327.2L269.3 330.4L269.7 332.6L270.0 332.6L270.4 329.0L270.7 322.6L271.1 314.9L271.4 307.2L271.8 300.9L272.1 297.2L272.5 297.7L272.8 302.9L273.2 311.9L273.5 323.5L273.9 336.7L274.2 350.2L274.6 363.0L274.9 373.9L275.3 384.0L275.6 394.2L276.0 404.2L276.3 414.1L276.7 423.5L277.0 432.6L277.4 441.4L277.7 449.7L278.1 457.4L278.4 465.2L278.8 471.9L279.1 476.3L279.5 479.3L279.8 481.6L280.2 482.5L280.5 481.8L280.9 479.8L281.2 477.1L281.6 473.5L281.9 467.5L282.3 459.9L282.6 451.8L283.0 442.1L283.3 432.0L283.7 424.3L284.0 418.1L284.4 412.3L284.7 407.0L285.1 402.1L285.4 397.6L285.8 393.3L286.1 389.4L286.5 385.6L286.8 382.1L287.2 378.7L287.5 375.5L287.9 372.6L288.2 369.9L288.6 367.4L288.9 364.9L289.3 362.2L289.6 359.2L290.0 356.2L290.3 353.1L290.7 350.1L291.0 347.3L291.4 344.7L291.7 342.4L292.1 340.6L292.4 339.2L292.8 338.5L293.1 338.4L293.5 338.7L293.8 339.3L294.2 340.1L294.5 341.1L294.9 342.1L295.2 343.2L295.6 344.4L295.9 345.4L296.3 346.3L296.6 347.1L297.0 347.6L297.3 347.8L297.7 347.5L298.0 346.7L298.4 345.3L298.7 343.5L299.1 341.5L299.4 339.4L299.8 337.2L300.1 335.1L300.5 333.3L300.8 331.8L301.2 330.8L301.5 330.3L301.9 331.0L302.2 333.4L302.6 337.2L302.9 342.1L303.3 347.7L303.6 353.7L304.0 359.9L304.3 367.3L304.7 377.0L305.0 387.8L305.4 399.0L305.7 409.5L306.1 418.7L306.4 427.6L306.8 436.0L307.1 443.7L307.5 451.5L307.8 458.4L308.2 463.2L308.5 466.3L308.9 468.7L309.2 469.9L309.6 469.3L309.9 467.5L310.3 464.9L310.6 461.6L311.0 455.9L311.3 448.4L311.7 440.4L312.0 430.9L312.4 420.5L312.7 412.7L313.1 406.8L313.4 401.4L313.8 396.5L314.1 392.1L314.5 387.9L314.8 384.1L315.2 380.6L315.5 377.3L315.9 374.1L316.2 371.0L316.6 368.1L316.9 365.6L317.3 363.2L317.6 360.9L318.0 358.6L318.3 356.1L318.7 353.3L319.0 350.2L319.4 347.0L319.7 343.7L320.1 340.4L320.4 337.3L320.8 334.3L321.1 331.7L321.5 329.5L321.8 327.7L322.2 326.5L322.5 326.1L322.9 326.1L323.2 326.5L323.6 327.0L323.9 327.8L324.3 328.7L324.6 329.8L325.0 331.1L325.3 332.4L325.7 334.3L326.0 338.1L326.4 343.1L326.7 347.9L327.1 351.5L327.4 352.5L327.8 348.6L328.1 340.7L328.5 331.9L328.8 325.3L329.2 323.7L329.5 324.5L329.9 326.4L330.2 329.1L330.6 332.6L330.9 336.7L331.3 341.4L331.6 346.5L332.0 351.9L332.3 357.4L332.7 363.6L333.0 372.3L333.4 382.8L333.7 394.0L334.1 405.1L334.4 414.8L334.8 423.8L335.1 432.5L335.5 440.4L335.8 448.2L336.2 455.7L336.5 461.5L336.9 465.0L337.2 467.8L337.6 469.6L337.9 469.8L338.3 468.4L338.6 466.1L339.0 463.2L339.3 458.6L339.7 451.7L340.0 443.8L340.4 435.3L340.7 425.0L341.1 415.6L341.4 409.1L341.8 403.4L342.1 398.2L342.5 393.5L342.8 389.1L343.2 385.1L343.5 381.3L343.9 377.7L344.2 374.1L344.6 370.6L344.9 367.2L345.3 363.9L345.6 360.7L346.0 357.7L346.3 354.8L346.7 351.9L347.0 349.1L347.4 346.4L347.7 343.8L348.1 341.1L348.4 338.4L348.8 335.8L349.1 333.1L349.5 330.3L349.8 327.4L350.2 324.1L350.5 320.6L350.9 317.1L351.2 313.5L351.6 310.1L351.9 306.9L352.3 304.0L352.6 301.6L353.0 299.7L353.3 298.6L353.7 298.1L354.0 301.7L354.4 310.5L354.7 321.4L355.1 331.5L355.4 337.7L355.8 335.8L356.1 323.1L356.5 309.0L356.8 303.5L357.2 304.9L357.5 308.1L357.9 312.8L358.2 318.9L358.6 326.0L358.9 333.8L359.3 342.0L359.6 350.4L360.0 358.6L360.3 366.6L360.7 375.8L361.0 386.0L361.4 396.6L361.7 407.1L362.1 416.8L362.4 425.8L362.8 434.5L363.1 442.5L363.5 450.3L363.8 457.9L364.2 464.1L364.5 467.8L364.9 470.7L365.2 472.6L365.6 473.1L365.9 471.9L366.3 469.7L366.6 466.8L367.0 462.7L367.3 456.0L367.7 448.2L368.0 439.9L368.4 429.8L368.7 420.1L369.1 412.9L369.4 406.6L369.8 400.8L370.1 395.4L370.5 390.3L370.8 385.6L371.2 381.1L371.5 376.9L371.9 372.8L372.2 368.8L372.6 364.9L372.9 361.2L373.3 357.8L373.6 354.6L374.0 351.8L374.3 349.0L374.7 346.2L375.0 343.3L375.4 340.5L375.7 337.9L376.1 335.6L376.4 333.6L376.8 332.0L377.1 330.9L377.5 330.4L377.8 330.6L378.2 331.6L378.5 333.1L378.9 334.9L379.2 336.5L379.6 337.8L379.9 338.4L380.3 338.2L380.6 337.4L381.0 336.1L381.3 334.4L381.7 332.3L382.0 329.9L382.4 327.4L382.7 324.7L383.1 321.9L383.4 319.1L383.8 316.5L384.1 314.0L384.5 311.7L384.8 309.7L385.2 308.1L385.5 306.9L385.9 306.3L386.2 306.5L386.6 309.5L386.9 315.1L387.3 322.8L387.6 331.7L388.0 341.3L388.3 350.9L388.7 359.9L389.0 368.9L389.4 378.8L389.7 389.2L390.1 399.6L390.4 409.5L390.8 418.7L391.1 427.6L391.5 436.0L391.8 443.7L392.2 451.5L392.5 458.4L392.9 463.2L393.2 466.3L393.6 468.7L393.9 469.9L394.3 469.3L394.6 467.5L395.0 464.9L395.3 461.6L395.7 455.9L396.0 448.4L396.4 440.4L396.7 430.8L397.1 420.3L397.4 412.8L397.8 407.6L398.1 403.0L398.5 398.9L398.8 395.2L399.2 391.8L399.5 388.7L399.9 385.8L400.2 383.1L400.6 380.4L400.9 377.7L401.3 374.9L401.6 371.9L402.0 368.7L402.3 365.2L402.7 361.5L403.0 357.7L403.4 353.8L403.7 349.9L404.1 346.2L404.4 342.8L404.8 339.7L405.1 337.0L405.5 334.8L405.8 333.2L406.2 332.4L406.5 332.3L406.9 333.1L407.2 334.4L407.6 336.0L407.9 337.3L408.3 338.2L408.6 338.4L409.0 338.2L409.3 337.8L409.7 337.3L410.0 336.6L410.4 335.9L410.7 334.8L411.1 332.4L411.4 328.9L411.8 324.7L412.1 320.0L412.5 315.2L412.8 310.4L413.2 306.1L413.5 302.4L413.9 299.7L414.2 298.3L414.6 298.7L414.9 302.2L415.3 308.3L415.6 316.3L416.0 325.8L416.3 336.0L416.7 346.2L417.0 356.0L417.4 365.0L417.7 374.7L418.1 385.0L418.4 395.3L418.8 405.4L419.1 414.8L419.5 423.8L419.8 432.5L420.2 440.4L420.5 448.2L420.9 455.7L421.2 461.5L421.6 465.0L421.9 467.8L422.3 469.6L422.6 469.8L423.0 468.4L423.3 466.1L423.7 463.2L424.0 458.6L424.4 451.7L424.7 443.8L425.1 435.3L425.4 424.9L425.8 415.5L426.1 409.3L426.5 403.9L426.8 398.9L427.2 394.4L427.5 390.3L427.9 386.5L428.2 383.0L428.6 379.6L428.9 376.4L429.3 373.3L429.6 370.2L430.0 366.9L430.3 363.6L430.7 360.2L431.0 356.8L431.4 353.5L431.7 350.3L432.1 347.3L432.4 344.5L432.8 342.0L433.1 339.8L433.5 338.0L433.8 336.7L434.2 335.9L434.5 335.7L434.9 335.9L435.2 336.3L435.6 336.8L435.9 337.5L436.3 338.3L436.6 339.0L437.0 339.7L437.3 340.4L437.7 340.8L438.0 341.1L438.4 340.6L438.7 338.0L439.1 333.5L439.4 327.4L439.8 320.2L440.1 312.5L440.5 304.6L440.8 297.0L441.2 290.3L441.5 284.8L441.9 281.0L442.2 279.4L442.6 280.5L442.9 284.3L443.3 290.5L443.6 298.6L444.0 308.0L444.3 318.3L444.7 329.2L445.0 340.0L445.4 350.4L445.7 359.8L446.1 369.4L446.4 379.4L446.8 389.7L447.1 399.9L447.5 409.6L447.8 418.7L448.2 427.5L448.5 435.7L448.9 443.5L449.2 451.2L449.6 457.9L449.9 462.3L450.3 465.4L450.6 467.7L451.0 468.6L451.3 467.8L451.7 465.9L452.0 463.1L452.4 459.6L452.7 453.5L453.1 445.9L453.4 437.9L453.8 428.3L454.1 418.1L454.5 410.2L454.8 403.6L455.2 397.4L455.5 391.6L455.9 386.1L456.2 381.0L456.6 376.3L456.9 371.9L457.3 368.0L457.6 364.4L458.0 361.2L458.3 358.4L458.7 356.0L459.0 353.9L459.4 351.9L459.7 349.9L460.1 347.8L460.4 345.5L460.8 343.0L461.1 340.4L461.5 337.8L461.8 335.3L462.2 332.9L462.5 330.7L462.9 328.8L463.2 327.3L463.6 326.4L463.9 325.9L464.3 325.6L464.6 325.4L465.0 325.2L465.3 325.0L465.7 324.9L466.0 324.8L466.4 324.7L466.7 324.5L467.1 324.3L467.4 324.1L467.8 323.8L468.1 323.4L468.5 322.3L468.8 320.5L469.2 318.3L469.5 315.8L469.9 313.2L470.2 310.6L470.6 308.4L470.9 306.6L471.3 305.5L471.6 305.1L472.0 307.2L472.3 312.0L472.7 318.8L473.0 327.2L473.4 336.4L473.7 345.8L474.1 354.8L474.4 363.4L474.8 373.1L475.1 383.5L475.5 393.9L475.8 404.1L476.2 413.5L476.5 422.4L476.9 431.0L477.2 438.8L477.6 446.6L477.9 453.9L478.3 459.5L478.6 462.8L479.0 465.5L479.3 467.0L479.7 467.0L480.0 465.5L480.4 463.0L480.7 460.0L481.1 455.1L481.4 447.9L481.8 440.0L482.1 431.2L482.5 420.6L482.8 411.8L483.2 406.0L483.5 400.9L483.9 396.3L484.2 392.2L484.6 388.4L484.9 385.0L485.3 381.7L485.6 378.5L486.0 375.3L486.3 372.1L486.7 368.7L487.0 365.4L487.4 362.2L487.7 359.2L488.1 356.4L488.4 353.5L488.8 350.4L489.1 347.2L489.5 344.0L489.8 340.9L490.2 337.9L490.5 335.1L490.9 332.5L491.2 330.3L491.6 328.5L491.9 327.1L492.3 326.3L492.6 326.1L493.0 326.7L493.3 328.1L493.7 330.1L494.0 332.7L494.4 335.5L494.7 338.4L495.1 341.3L495.4 344.0L495.8 346.3L496.1 348.0L496.5 349.0L496.8 349.0L497.2 348.1L497.5 346.3L497.9 343.8L498.2 340.9L498.6 337.6L498.9 334.3L499.3 331.0L499.6 328.0L500.0 325.5L500.3 323.5L500.7 322.5L501.0 322.6L501.4 325.2L501.7 330.1L502.1 336.5L502.4 343.8L502.8 351.4L503.1 358.8L503.5 367.8L503.8 378.0L504.2 388.8L504.5 399.5L504.9 409.2L505.2 418.3L505.6 427.0L505.9 435.0L506.3 442.8L506.6 450.4L507.0 456.5L507.3 460.3L507.7 463.2L508.0 465.1L508.4 465.5L508.7 464.4L509.1 462.2L509.4 459.3L509.8 455.1L510.1 448.5L510.5 440.6L510.8 432.4L511.2 422.1L511.5 412.4L511.9 405.9L512.2 400.5L512.6 395.8L512.9 391.6L513.3 387.9L513.6 384.5L514.0 381.3L514.3 378.3L514.7 375.1L515.0 372.0L515.4 368.9L515.7 365.9L516.1 363.0L516.4 360.2L516.8 357.5L517.1 355.1L517.5 352.9L517.8 351.0L518.2 349.3L518.5 348.0L518.9 347.1L519.2 346.6L519.6 346.4L519.9 346.5L520.3 346.6L520.6 346.8L521.0 347.0L521.3 347.2L521.7 347.5L522.0 347.8L522.4 348.2L522.7 348.6L523.1 349.0L523.4 349.6L523.8 350.8L524.1 352.3L524.5 354.0L524.8 355.5L525.2 356.7L525.5 357.2L525.9 356.9L526.2 356.1L526.6 354.8L526.9 353.1L527.3 351.3L527.6 349.4L528.0 347.6L528.3 346.0L528.7 344.7L529.0 343.9L529.4 343.8L529.7 344.4L530.1 345.6L530.4 347.4L530.8 349.8L531.1 352.5L531.5 355.6L531.8 361.1L532.2 370.4L532.5 381.8L532.9 393.9L533.2 405.1L533.6 414.4L533.9 423.3L534.3 431.7L534.6 439.4L535.0 447.2L535.3 454.2L535.7 458.9L536.0 462.0L536.4 464.4L536.7 465.6L537.1 465.1L537.4 463.2L537.8 460.6L538.1 457.3L538.5 451.6L538.8 444.1L539.2 436.1L539.5 426.5L539.9 415.9L540.2 408.5L540.6 403.4L540.9 398.8L541.3 394.8L541.6 391.3L542.0 388.2L542.3 385.4L542.7 383.1L543.0 381.1L543.4 379.2L543.7 377.5L544.1 375.9L544.4 374.4L544.8 373.1L545.1 371.8L545.5 370.6L545.8 369.4L546.2 368.3L546.5 367.3L546.9 366.3L547.2 365.3L547.6 364.3L547.9 363.3L548.3 362.4L548.6 361.4L549.0 360.3L549.3 359.3L549.7 358.2L550.0 357.0L550.4 356.0L550.7 355.1L551.1 354.3L551.4 353.7L551.8 353.1L552.1 352.5L552.5 351.9L552.8 351.2L553.2 350.4L553.5 349.4L553.9 348.3L554.2 346.9L554.6 345.2L554.9 343.1L555.3 340.8L555.6 337.1L556.0 295.0L556.3 244.3L556.7 236.9L557.0 236.9L557.4 236.9L557.7 237.5L558.1 265.0L558.4 307.9L558.8 331.4L559.1 341.6L559.5 349.0L559.8 356.2L560.2 365.2L560.5 375.1L560.9 385.3L561.2 395.5L561.6 405.5L561.9 414.8L562.3 423.8L562.6 432.5L563.0 440.4L563.3 448.2L563.7 455.7L564.0 461.5L564.4 465.0L564.7 467.8L565.1 469.6L565.4 469.8L565.8 468.4L566.1 466.1L566.5 463.2L566.8 458.6L567.2 451.7L567.5 443.8L567.9 435.4L568.2 425.3L568.6 415.8L568.9 408.4L569.3 401.3L569.6 394.4L570.0 387.8L570.3 381.6L570.7 376.1L571.0 371.2L571.4 367.2L571.7 364.1L572.1 362.1L572.4 360.7L572.8 359.6L573.1 358.8L573.5 358.0L573.8 357.2L574.2 356.1L574.5 354.7L574.9 352.3L575.2 348.1L575.6 342.8L575.9 337.0L576.3 331.2L576.6 326.0L577.0 322.0L577.3 319.8L577.7 319.8L578.0 320.7L578.4 322.5L578.7 324.8L579.1 327.7L579.4 330.8L579.8 334.2L580.1 337.7L580.5 341.0L580.8 344.2L581.2 347.0L581.5 349.2L581.9 350.9L582.2 351.7L582.6 351.4L582.9 349.2L583.3 345.5L583.6 340.5L584.0 335.0L584.3 329.2L584.7 323.7L585.0 318.9L585.4 315.3L585.7 313.4L586.1 313.6L586.4 316.3L586.8 321.0L587.1 327.2L587.5 334.5L587.8 342.5L588.2 350.5L588.5 358.3L588.9 366.9L589.2 376.9L589.6 387.5L589.9 398.2L590.3 408.2L590.6 417.3L591.0 426.1L591.3 434.4L591.7 442.1L592.0 449.9L592.4 456.6L592.7 461.0L593.1 464.0L593.4 466.3L593.8 467.2L594.1 466.5L594.5 464.5L594.8 461.8L595.2 458.2L595.5 452.2L595.9 444.6L596.2 436.5L596.6 426.6L596.9 416.3L597.3 409.2L597.6 403.9L598.0 399.3L598.3 395.1L598.7 391.3L599.0 387.9L599.4 384.7L599.7 381.6L600.1 378.6L600.4 375.6L600.8 372.5L601.1 369.1L601.5 365.4L601.8 361.3L602.2 357.2L602.5 353.2L602.9 349.4L603.2 346.0L603.6 343.2L603.9 341.1L604.3 339.9L604.6 339.7L605.0 339.9L605.3 340.1L605.7 340.3L606.0 340.7L606.4 341.1L606.7 341.5L607.1 341.9L607.4 342.4L607.8 342.8L608.1 343.1L608.5 343.4L608.8 343.6L609.2 343.7L609.5 343.7L609.9 343.1L610.2 342.0L610.6 340.4L610.9 338.4L611.3 336.2L611.6 333.9L612.0 331.5L612.3 329.1L612.7 326.9L613.0 324.9L613.4 323.2L613.7 322.0L614.1 321.3L614.4 321.4L614.8 323.4L615.1 327.2L615.5 332.5L615.8 338.8L616.2 345.8L616.5 353.2L616.9 360.5L617.2 368.2L617.6 377.5L617.9 388.0L618.3 398.9L618.6 409.4L619.0 418.8L619.3 427.8L619.7 436.3L620.0 444.1L620.4 452.0L620.7 459.3L621.1 464.8L621.4 468.1L621.8 470.8L622.1 472.4L622.5 472.3L622.8 470.8L623.2 468.4L623.5 465.4L623.9 460.4L624.2 453.3L624.6 445.3L624.9 436.6L625.3 426.3L625.6 417.2L626.0 410.6L626.3 404.5L626.7 398.9L627.0 393.7L627.4 388.9L627.7 384.5L628.1 380.3L628.4 376.4L628.8 372.6L629.1 369.1L629.5 365.5L629.8 362.0L630.2 358.6L630.5 355.4L630.9 352.3L631.2 349.5L631.6 347.0L631.9 344.9L632.3 343.2L632.6 342.0L633.0 341.1L633.3 340.3L633.7 339.7L634.0 339.2L634.4 338.7L634.7 338.2L635.1 337.7L635.4 337.2L635.8 336.6L636.1 335.8L636.5 334.9L636.8 333.8L637.2 332.5L637.5 331.1L637.9 329.5L638.2 327.8L638.6 326.1L638.9 324.3L639.3 322.5L639.6 320.7L640.0 319.0L640.3 317.3L640.7 315.8L641.0 314.4L641.4 313.1L641.7 312.0L642.1 311.2L642.4 310.6L642.8 310.3L643.1 310.7L643.5 315.6L643.8 324.2L644.2 335.1L644.5 346.7L644.9 357.6L645.2 367.2L645.6 377.2L645.9 387.4L646.3 397.5L646.6 407.4L647.0 416.7L647.3 425.6L647.7 434.2L648.0 442.0L648.4 449.8L648.7 457.2L649.1 462.7L649.4 466.0L649.8 468.7L650.1 470.3L650.5 470.2L650.8 468.7L651.2 466.2L651.5 463.3L651.9 458.3L652.2 451.2L652.6 443.2L652.9 434.5L653.3 424.1L653.6 415.1L654.0 408.6L654.3 402.7L654.7 397.2L655.0 392.1L655.4 387.5L655.7 383.2L656.1 379.2L656.4 375.6L656.8 372.4L657.1 369.3L657.5 366.3L657.8 363.3L658.2 360.3L658.5 357.3L658.9 354.5L659.2 351.7L659.6 349.1L659.9 346.5L660.3 344.2L660.6 342.1L661.0 340.2L661.3 338.5L661.7 337.1L662.0 336.0L662.4 335.2L662.7 334.7L663.1 334.7L663.4 335.0L663.8 335.6L664.1 336.5L664.5 337.5L664.8 338.7L665.2 339.9L665.5 341.0L665.9 342.1L666.2 342.9L666.6 343.5L666.9 343.8L667.3 343.4L667.6 341.9L668.0 339.7L668.3 336.8L668.7 333.4L669.0 329.7L669.4 325.9L669.7 322.1L670.1 318.6L670.4 315.5L670.8 312.9L671.1 311.1L671.5 310.3L671.8 311.2L672.2 315.4L672.5 322.1L672.9 330.7L673.2 340.1L673.6 349.6L673.9 358.4L674.3 367.5L674.6 377.6L675.0 388.0L675.3 398.4L675.7 408.2L676.0 417.3L676.4 426.1L676.7 434.4L677.1 442.1L677.4 449.9L677.8 456.6L678.1 461.0L678.5 464.0L678.8 466.3L679.2 467.2L679.5 466.5L679.9 464.5L680.2 461.8L680.6 458.2L680.9 452.2L681.3 444.6L681.6 436.6L682.0 428.2L682.3 418.7L682.7 406.9L683.0 389.0L683.4 380.4L683.7 377.6L684.1 375.3L684.4 373.4L684.8 371.9L685.1 370.6L685.5 369.6L685.8 368.8L686.2 368.1L686.5 367.4L686.9 366.6L687.2 365.7L687.6 364.6L687.9 363.3L688.3 361.6L688.6 359.5L689.0 356.2L689.3 351.6L689.7 346.1L690.0 340.3L690.4 334.6L690.7 329.4L691.1 325.4L691.4 322.9L691.8 322.3L692.1 323.1L692.5 324.6L692.8 326.7L693.2 329.3L693.5 332.2L693.9 335.2L694.2 338.2L694.6 340.9L694.9 343.3L695.3 345.1L695.6 346.2L696.0 346.4L696.3 345.6L696.7 343.9L697.0 341.6L697.4 338.7L697.7 335.6L698.1 332.3L698.4 329.1L698.8 326.2L699.1 323.8L699.5 322.0L699.8 321.0L700.2 321.5L700.5 324.6L700.9 330.0L701.2 336.8L701.6 344.3L701.9 351.9L702.3 359.8L702.6 369.4L703.0 379.9L703.3 390.8L703.7 401.1L704.0 410.5L704.4 419.4L704.7 427.8L705.1 435.6L705.4 443.4L705.8 450.6L706.1 455.7L706.5 458.9L706.8 461.5L707.2 462.8L707.5 462.5L707.9 460.9L708.2 458.3L708.6 455.2L708.9 449.8L709.3 442.5L709.6 434.5L710.0 425.6L710.3 415.4L710.7 406.6L711.0 399.5L711.4 393.0L711.7 387.1L712.1 381.9L712.4 377.6L712.8 374.1L713.1 371.1L713.5 368.6L713.8 366.3L714.2 364.2L714.5 362.2L714.9 360.1L715.2 357.8L715.6 355.3L715.9 352.3L716.3 349.0L716.6 345.3L717.0 341.5L717.3 337.6L717.7 333.7L718.0 330.1L718.4 326.8L718.7 324.0L719.1 321.7L719.4 319.5L719.8 317.3L720.1 315.2L720.5 313.2L720.8 311.3L721.2 309.5L721.5 308.0L721.9 306.7L722.2 305.8L722.6 305.1L722.9 304.8L723.3 306.0L723.6 309.6L724.0 314.8L724.3 320.6L724.7 326.2L725.0 330.6L725.4 332.9L725.7 332.9L726.1 332.4L726.4 331.6L726.8 330.6L727.1 329.6L727.5 328.7L727.8 328.0L728.2 327.7L728.5 327.9L728.9 328.9L729.2 330.7L729.6 333.1L729.9 336.1L730.3 339.6L730.6 343.6L731.0 347.9L731.3 352.5L731.7 357.8L732.0 366.2L732.4 376.8L732.7 388.3L733.1 399.6L733.4 409.5L733.8 418.5L734.1 427.1L734.5 435.0L734.8 442.8L735.2 450.3L735.5 456.1L735.9 459.6L736.2 462.4L736.6 464.2L736.9 464.4L737.3 463.1L737.6 460.7L738.0 457.8L738.3 453.2L738.7 446.4L739.0 438.4L739.4 430.0L739.7 419.7L740.1 410.3L740.4 403.8L740.8 398.6L741.1 394.1L741.5 390.2L741.8 386.4L742.2 382.3L742.5 377.8L742.9 372.4L743.2 365.3L743.6 355.4L743.9 343.5L744.3 330.3L744.6 316.5L745.0 303.1L745.3 290.7L745.7 280.1L746.0 272.2L746.4 267.7L746.7 267.7L747.1 273.6L747.4 281.7L747.8 287.4L748.1 290.0L748.5 292.1L748.8 293.8L749.2 295.2L749.5 296.6L749.9 298.1L750.2 299.9L750.6 302.2L750.9 305.4L751.3 309.0L751.6 312.4L752.0 315.2L752.3 316.7L752.7 316.5L753.0 313.7L753.4 309.0L753.7 302.9L754.1 296.3L754.4 289.6L754.8 283.6L755.1 278.9L755.5 276.2L755.8 275.3L756.2 274.7L756.5 274.2L756.9 274.0L757.2 275.7L757.6 282.9L757.9 294.5L758.3 308.8L758.6 324.5L759.0 339.9L759.3 353.6L759.7 364.6L760.0 375.0L760.4 385.1L760.7 394.8L761.1 404.3L761.4 413.5L761.8 422.5L762.1 431.1L762.5 439.0L762.8 446.8L763.2 454.3L763.5 460.2L763.9 463.7L764.2 466.5L764.6 468.3L764.9 468.4L765.3 467.1L765.6 464.8L766.0 461.9L766.3 457.3L766.7 450.4L767.0 442.4L767.4 434.3L767.7 424.9L768.1 415.0L768.4 404.4L768.8 391.5L769.1 377.6L769.5 364.4L769.8 353.4L770.2 346.0L770.5 343.8L770.9 343.8L771.2 343.8L771.6 343.8L771.9 343.8L772.3 343.8L772.6 343.9L773.0 345.1L773.3 347.0L773.7 348.9L774.0 350.1L774.4 349.5L774.7 345.7L775.1 339.6L775.4 332.2L775.8 324.9L776.1 318.7L776.5 314.9L776.8 314.3L777.2 314.9L777.5 316.1L777.9 317.7L778.2 319.6L778.6 321.7L778.9 323.9L779.3 325.9L779.6 327.8L780.0 329.4L780.3 331.1L780.7 333.0L781.0 334.8L781.4 336.5L781.7 338.0L782.1 339.1L782.4 339.7L782.8 339.3L783.1 336.4L783.5 331.7L783.8 326.0L784.2 320.1L784.5 314.7L784.9 310.7L785.2 308.9L785.6 310.6L785.9 316.2L786.3 324.8L786.6 335.1L787.0 346.0L787.3 356.4L787.7 365.7L788.0 375.5L788.4 385.7L788.7 396.0L789.1 406.0L789.4 415.4L789.8 424.4L790.1 433.0L790.5 440.9L790.8 448.7L791.2 456.2L791.5 462.1L791.9 465.5L792.2 468.4L792.6 470.1L792.9 470.3L793.3 469.0L793.6 466.6L794.0 463.7L794.3 459.1L794.7 452.3L795.0 444.3L795.4 435.8L795.7 425.4L796.1 416.0L796.4 409.9L796.8 404.5L797.1 399.6L797.5 395.1L797.8 391.0L798.2 387.3L798.5 383.8L798.9 380.5L799.2 377.3L799.6 374.2L799.9 371.0L800.3 367.9L800.6 364.6L801.0 361.3L801.3 357.9L801.7 354.5L802.0 351.1L802.4 347.8L802.7 344.5L803.1 341.4L803.4 338.4L803.8 335.6L804.1 332.9L804.5 330.5L804.8 328.4L805.2 326.5L805.5 324.9L805.9 323.7L806.2 322.8L806.6 322.4L806.9 322.3L807.3 322.9L807.6 324.0L808.0 325.5L808.3 327.2L808.7 329.2L809.0 331.2L809.4 333.2L809.7 335.0L810.1 336.5L810.4 337.6L810.8 338.3L811.1 338.2L811.5 336.3L811.8 333.0L812.2 329.0L812.5 325.0L812.9 321.7L813.2 319.8L813.6 320.2L813.9 323.8L814.3 330.0L814.6 337.8L815.0 346.4L815.3 355.0L815.7 363.3L816.0 372.7L816.4 383.0L816.7 393.6L817.1 404.0L817.4 413.5L817.8 422.5L818.1 431.1L818.5 439.0L818.8 446.8L819.2 454.3L819.5 460.2L819.9 463.7L820.2 466.5L820.6 468.3L820.9 468.4L821.3 467.1L821.6 464.8L822.0 461.9L822.3 457.3L822.7 450.4L823.0 442.4L823.4 433.9L823.7 423.4L824.1 414.1L824.4 408.1L824.8 402.8L825.1 398.0L825.5 393.7L825.8 389.7L826.2 386.1L826.5 382.7L826.9 379.6L827.2 376.6L827.6 373.8L827.9 371.0L828.3 368.2L828.6 365.4L829.0 362.6L829.3 359.8L829.7 356.9L830.0 354.1L830.4 351.4L830.7 348.7L831.1 346.1L831.4 343.6L831.8 341.2L832.1 339.0L832.5 336.9L832.8 334.9L833.2 333.2L833.5 331.6L833.9 330.3L834.2 329.3L834.6 328.4L834.9 327.9L835.3 327.7L835.6 327.7L836.0 327.7L836.3 327.7L836.7 327.7L837.0 327.7L837.4 327.7L837.7 327.7L838.1 327.7L838.4 327.7L838.8 327.7L839.1 327.2L839.5 323.1L839.8 315.6L840.2 305.9L840.5 295.2L840.9 284.7L841.2 275.6L841.6 268.9L841.9 266.0L842.3 269.5L842.6 281.2L843.0 298.3L843.3 318.1L843.7 337.9L844.0 354.7L844.4 367.0L844.7 377.8L845.1 387.7L845.4 397.2L845.8 406.3L846.1 415.4L846.5 424.4L846.8 433.0L847.2 440.9L847.5 448.7L847.9 456.2L848.2 462.1L848.6 465.5L848.9 468.4L849.3 470.1L849.6 470.3L850.0 469.0L850.3 466.6L850.7 463.7L851.0 459.1L851.4 452.3L851.7 444.3L852.1 435.9L852.4 425.8L852.8 416.3L853.1 409.1L853.5 402.3L853.8 395.9L854.2 389.8L854.5 384.0L854.9 378.7L855.2 373.8L855.6 369.4L855.9 365.5L856.3 362.1L856.6 359.2L857.0 356.6L857.3 354.2L857.7 352.0L858.0 350.0L858.4 348.2L858.7 346.6L859.1 345.2L859.4 343.9L859.8 342.9L860.1 342.0L860.5 341.3L860.8 340.6L861.2 339.9L861.5 339.1L861.9 338.1L862.2 337.1L862.6 336.0L862.9 334.9L863.3 333.8L863.6 332.6L864.0 331.4L864.3 330.0L864.7 328.6L865.0 327.0L865.4 325.3L865.7 323.4L866.1 321.4L866.4 319.3L866.8 316.9L867.1 313.4L867.5 307.9L867.8 301.2L868.2 293.7L868.5 286.0L868.9 278.6L869.2 272.1L869.6 267.1L869.9 263.9L870.3 263.6L870.6 270.4L871.0 283.7L871.3 301.3L871.7 320.6L872.0 339.3L872.4 354.9L872.7 366.6L873.1 377.2L873.4 387.1L873.8 396.5L874.1 405.7L874.5 414.8L874.8 423.8L875.2 432.3L875.5 440.1L875.9 447.9L876.2 455.3L876.6 460.8L876.9 464.1L877.3 466.8L877.6 468.4L878.0 468.3L878.3 466.8L878.7 464.4L879.0 461.4L879.4 456.4L879.7 449.3L880.1 441.3L880.4 432.6L880.8 422.4L881.1 413.2L881.5 406.4L881.8 399.9L882.2 394.0L882.5 388.5L882.9 383.4L883.2 378.9L883.6 374.7L883.9 371.1L884.3 367.7L884.6 364.3L885.0 361.0L885.3 357.7L885.7 354.6L886.0 351.6L886.4 348.8L886.7 346.2L887.1 343.9L887.4 342.0L887.8 340.4L888.1 339.3L888.5 338.6L888.8 338.4L889.2 338.5L889.5 338.6L889.9 338.9L890.2 339.2L890.6 339.6L890.9 340.0L891.3 340.4L891.6 340.9L892.0 341.3L892.3 341.8L892.7 342.2L893.0 342.7L893.4 343.0L893.7 343.3L894.1 343.6L894.4 343.7L894.8 343.8L895.1 343.5L895.5 342.8L895.8 341.8L896.2 340.5L896.5 339.1L896.9 337.5L897.2 335.9L897.6 334.4L897.9 333.0L898.3 331.8L898.6 330.9L899.0 330.4L899.3 330.6L899.7 332.8L900.0 336.8L900.4 342.2L900.7 348.3L901.1 354.5L901.4 362.0L901.8 371.6L902.1 382.5L902.5 393.6L902.8 404.1L903.2 413.4L903.5 422.2L903.9 430.6L904.2 438.3L904.6 446.1L904.9 453.1L905.3 457.8L905.6 460.9L906.0 463.4L906.3 464.5L906.7 464.0L907.0 462.2L907.4 459.5L907.7 456.2L908.1 450.5L908.4 443.0L908.8 435.0L909.1 425.6L909.5 415.2L909.8 407.3L910.2 401.3L910.5 396.0L910.9 391.1L911.2 386.6L911.6 382.5L911.9 378.6L912.3 374.9L912.6 371.4L913.0 367.8L913.3 364.2L913.7 360.5L914.0 356.6L914.4 352.3L914.7 347.7L915.1 342.9L915.4 337.9L915.8 332.9L916.1 328.0L916.5 323.2L916.8 318.7L917.2 314.6L917.5 311.0L917.9 308.0L918.2 305.7L918.6 304.1L918.9 303.5L919.3 303.6L919.6 303.8L920.0 304.3L920.3 305.0L920.7 306.0L921.0 307.3L921.4 308.9L921.7 310.8L922.1 313.1L922.4 315.8L922.8 318.9L923.1 322.4L923.5 326.4L923.8 330.9" stroke="#fac11a" stroke-width="1.05" fill="none"/><path d="M78.6 453.8L78.9 461.3L79.3 467.7L79.6 472.9L80.0 477.1L80.3 480.2L80.7 482.3L81.0 483.2L81.4 483.1L81.7 481.6L82.1 479.1L82.4 476.2L82.8 471.2L83.1 464.0L83.5 456.1L83.8 447.6L84.2 437.8L84.5 428.2L84.9 419.8L85.2 411.9L85.6 404.3L85.9 396.9L86.3 389.3L86.6 381.6L87.0 373.3L87.3 363.6L87.7 352.3L88.0 339.8L88.4 327.1L88.7 314.6L89.1 303.1L89.4 293.2L89.8 285.7L90.1 281.2L90.5 280.4L90.8 283.9L91.2 290.7L91.5 299.1L91.9 307.3L92.2 313.8L92.6 316.9L92.9 317.6L93.3 318.1L93.6 318.4L94.0 318.8L94.3 319.3L94.7 320.3L95.0 322.4L95.4 325.3L95.7 328.3L96.1 331.0L96.4 332.9L96.8 333.9L97.1 334.8L97.5 335.7L97.8 336.4L98.2 337.1L98.5 337.6L98.9 338.0L99.2 338.3L99.6 338.4L99.9 337.4L100.3 334.8L100.6 331.2L101.0 327.1L101.3 323.0L101.7 319.6L102.0 317.4L102.4 317.1L102.7 320.2L103.1 326.4L103.4 334.9L103.8 344.7L104.1 355.0L104.5 364.8L104.8 373.4L105.2 382.1L105.5 391.1L105.9 400.3L106.2 409.4L106.6 418.4L106.9 427.2L107.3 436.1L107.6 444.7L108.0 452.5L108.3 460.3L108.7 467.5L109.0 472.6L109.4 475.8L109.7 478.4L110.1 479.8L110.4 479.4L110.8 477.8L111.1 475.2L111.5 472.1L111.8 466.8L112.2 459.4L112.5 451.4L112.9 442.8L113.2 432.9L113.6 423.5L113.9 415.1L114.3 407.2L114.6 399.6L115.0 392.1L115.3 384.6L115.7 376.8L116.0 368.6L116.4 358.5L116.7 346.9L117.1 334.9L117.4 323.8L117.8 314.8L118.1 309.1L118.5 307.8L118.8 308.5L119.2 309.8L119.5 311.7L119.9 314.0L120.2 316.5L120.6 319.0L120.9 321.5L121.3 323.6L121.6 325.9L122.0 328.5L122.3 331.3L122.7 333.9L123.0 336.1L123.4 337.7L123.7 338.4L124.1 338.0L124.4 336.7L124.8 334.7L125.1 332.4L125.5 330.0L125.8 327.8L126.2 326.0L126.5 325.1L126.9 325.2L127.2 326.6L127.6 328.7L127.9 330.8L128.3 332.5L128.6 333.0L129.0 331.5L129.3 328.1L129.7 323.7L130.0 318.9L130.4 314.6L130.7 311.4L131.1 310.2L131.4 312.3L131.8 318.0L132.1 326.4L132.5 336.5L132.8 347.5L133.2 358.3L133.5 368.0L133.9 376.7L134.2 385.7L134.6 394.7L134.9 403.8L135.3 412.8L135.6 421.7L136.0 430.5L136.3 439.3L136.7 447.6L137.0 455.3L137.4 463.0L137.7 469.5L138.1 473.5L138.4 476.5L138.8 478.6L139.1 479.3L139.5 478.3L139.8 476.2L140.2 473.5L140.5 469.6L140.9 463.2L141.2 455.5L141.6 447.5L141.9 438.4L142.3 428.5L142.6 418.6L143.0 407.4L143.3 394.9L143.7 381.9L144.0 369.1L144.4 357.3L144.7 347.1L145.1 339.3L145.4 334.6L145.8 333.6L146.1 334.1L146.5 335.2L146.8 336.9L147.2 338.8L147.5 341.1L147.9 343.6L148.2 346.1L148.6 348.6L148.9 350.9L149.3 353.1L149.6 354.9L150.0 356.2L150.3 357.0L150.7 357.2L151.0 356.9L151.4 356.3L151.7 355.4L152.1 354.4L152.4 353.4L152.8 352.4L153.1 351.4L153.5 350.5L153.8 349.5L154.2 348.5L154.5 347.4L154.9 346.2L155.2 344.8L155.6 343.3L155.9 341.0L156.3 338.0L156.6 334.5L157.0 330.9L157.3 327.4L157.7 324.3L158.0 321.7L158.4 320.1L158.7 319.6L159.1 321.5L159.4 326.0L159.8 332.4L160.1 340.3L160.5 349.0L160.8 358.1L161.2 367.0L161.5 375.2L161.9 383.5L162.2 392.3L162.6 401.6L162.9 410.9L163.3 420.1L163.6 429.0L164.0 437.9L164.3 446.6L164.7 454.6L165.0 462.4L165.4 469.9L165.7 475.7L166.1 479.2L166.4 482.0L166.8 483.8L167.1 484.0L167.5 482.7L167.8 480.3L168.2 477.4L168.5 472.8L168.9 465.9L169.2 458.0L169.6 449.7L169.9 440.1L170.3 430.3L170.6 421.7L171.0 413.7L171.3 406.1L171.7 398.6L172.0 391.1L172.4 383.4L172.7 375.3L173.1 365.6L173.4 353.9L173.8 342.3L174.1 332.9L174.5 327.9L174.8 328.3L175.2 330.9L175.5 335.1L175.9 340.4L176.2 346.2L176.6 352.2L176.9 357.8L177.3 362.4L177.6 365.6L178.0 368.2L178.3 370.8L178.7 373.2L179.0 375.5L179.4 377.5L179.7 379.2L180.1 380.4L180.4 381.2L180.8 381.2L181.1 379.7L181.5 376.5L181.8 372.4L182.2 367.8L182.5 363.3L182.9 359.5L183.2 356.9L183.6 354.9L183.9 352.9L184.3 350.9L184.6 349.1L185.0 347.3L185.3 345.7L185.7 344.3L186.0 343.1L186.4 342.2L186.7 341.5L187.1 341.1L187.4 341.3L187.8 343.2L188.1 346.9L188.5 351.8L188.8 357.7L189.2 364.2L189.5 370.8L189.9 377.3L190.2 384.9L190.6 393.7L190.9 403.2L191.3 413.1L191.6 422.7L192.0 431.6L192.3 440.5L192.7 449.1L193.0 457.0L193.4 464.9L193.7 472.2L194.1 477.7L194.4 481.0L194.8 483.7L195.1 485.3L195.5 485.2L195.8 483.7L196.2 481.3L196.5 478.3L196.9 473.3L197.2 466.2L197.6 458.2L197.9 449.8L198.3 440.0L198.6 430.4L199.0 422.0L199.3 414.4L199.7 407.1L200.0 399.9L200.4 392.4L200.7 384.4L201.1 375.4L201.4 364.0L201.8 349.6L202.1 333.5L202.5 316.9L202.8 301.0L203.2 287.2L203.5 276.6L203.9 270.4L204.2 269.8L204.6 273.6L204.9 280.4L205.3 289.0L205.6 298.3L206.0 307.2L206.3 314.5L206.7 319.0L207.0 320.6L207.4 321.8L207.7 322.6L208.1 323.3L208.4 323.9L208.8 324.4L209.1 325.1L209.5 326.0L209.8 327.1L210.2 328.8L210.5 332.2L210.9 336.8L211.2 341.7L211.6 346.3L211.9 349.9L212.3 351.7L212.6 351.3L213.0 349.0L213.3 345.2L213.7 340.4L214.0 334.9L214.4 329.2L214.7 323.7L215.1 318.8L215.4 314.8L215.8 312.3L216.1 311.7L216.5 319.1L216.8 334.4L217.2 352.8L217.5 369.5L217.9 381.0L218.2 390.8L218.6 399.8L218.9 408.2L219.3 416.5L219.6 424.9L220.0 433.6L220.3 442.5L220.7 450.9L221.0 458.7L221.4 466.5L221.7 473.5L222.1 478.2L222.4 481.3L222.8 483.8L223.1 484.9L223.5 484.4L223.8 482.6L224.2 479.9L224.5 476.6L224.9 470.9L225.2 463.4L225.6 455.4L225.9 446.5L226.3 436.6L226.6 427.3L227.0 419.0L227.3 411.0L227.7 403.3L228.0 395.8L228.4 388.2L228.7 380.5L229.1 372.6L229.4 363.5L229.8 353.4L230.1 342.7L230.5 331.9L230.8 321.3L231.2 311.3L231.5 302.5L231.9 295.2L232.2 289.8L232.6 286.8L232.9 287.0L233.3 292.7L233.6 302.4L234.0 313.5L234.3 323.5L234.7 330.0L235.0 331.0L235.4 330.0L235.7 328.2L236.1 326.1L236.4 324.2L236.8 323.0L237.1 322.8L237.5 323.0L237.8 323.2L238.2 323.6L238.5 324.1L238.9 324.6L239.2 325.4L239.6 327.2L239.9 330.0L240.3 333.4L240.6 337.2L241.0 340.8L241.3 344.1L241.7 346.6L242.0 347.9L242.4 347.0L242.7 340.9L243.1 331.1L243.4 319.8L243.8 309.2L244.1 301.2L244.5 298.1L244.8 304.7L245.2 320.9L245.5 341.6L245.9 361.9L246.2 376.5L246.6 387.1L246.9 396.5L247.3 405.0L247.6 413.2L248.0 421.3L248.3 429.8L248.7 438.7L249.0 447.4L249.4 455.4L249.7 463.2L250.1 470.7L250.4 476.5L250.8 480.0L251.1 482.8L251.5 484.6L251.8 484.8L252.2 483.5L252.5 481.1L252.9 478.2L253.2 473.6L253.6 466.8L253.9 458.8L254.3 450.5L254.6 440.9L255.0 431.1L255.3 422.6L255.7 414.6L256.0 407.0L256.4 399.5L256.7 392.0L257.1 384.3L257.4 376.1L257.8 366.9L258.1 355.9L258.5 343.9L258.8 331.3L259.2 318.8L259.5 307.0L259.9 296.4L260.2 287.7L260.6 281.4L260.9 278.1L261.3 278.7L261.6 284.5L262.0 293.5L262.3 303.7L262.7 313.1L263.0 319.4L263.4 320.9L263.7 320.6L264.1 319.8L264.4 318.8L264.8 317.6L265.1 316.2L265.5 314.9L265.8 313.7L266.2 312.7L266.5 311.9L266.9 311.6L267.2 311.9L267.6 313.4L267.9 315.7L268.3 318.3L268.6 320.8L269.0 322.7L269.3 323.6L269.7 323.0L270.0 320.8L270.4 317.6L270.7 313.8L271.1 309.8L271.4 306.2L271.8 303.4L272.1 301.8L272.5 302.6L272.8 308.6L273.2 318.7L273.5 331.5L273.9 345.5L274.2 359.2L274.6 371.2L274.9 380.9L275.3 390.1L275.6 399.1L276.0 407.9L276.3 416.6L276.7 425.3L277.0 434.1L277.4 442.9L277.7 451.3L278.1 459.0L278.4 466.8L278.8 473.5L279.1 477.9L279.5 480.9L279.8 483.2L280.2 484.1L280.5 483.4L280.9 481.4L281.2 478.7L281.6 475.2L281.9 469.1L282.3 461.5L282.6 453.5L283.0 444.3L283.3 434.4L283.7 425.3L284.0 417.2L284.4 409.5L284.7 402.0L285.1 394.6L285.4 387.0L285.8 378.9L286.1 370.1L286.5 359.4L286.8 347.2L287.2 334.1L287.5 320.9L287.9 308.3L288.2 297.0L288.6 287.7L288.9 281.1L289.3 277.9L289.6 279.8L290.0 287.9L290.3 299.3L290.7 310.7L291.0 318.9L291.4 320.9L291.7 320.9L292.1 320.9L292.4 320.9L292.8 320.9L293.1 320.9L293.5 320.9L293.8 321.0L294.2 321.6L294.5 323.2L294.9 325.4L295.2 328.1L295.6 331.0L295.9 333.9L296.3 336.6L296.6 338.8L297.0 340.4L297.3 341.1L297.7 340.8L298.0 339.8L298.4 338.2L298.7 336.2L299.1 333.9L299.4 331.4L299.8 328.9L300.1 326.5L300.5 324.4L300.8 322.6L301.2 321.5L301.5 321.0L301.9 322.6L302.2 328.0L302.6 336.2L302.9 345.9L303.3 356.3L303.6 366.0L304.0 374.6L304.3 383.4L304.7 392.4L305.0 401.6L305.4 410.7L305.7 419.7L306.1 428.5L306.4 437.4L306.8 445.9L307.1 453.6L307.5 461.4L307.8 468.4L308.2 473.1L308.5 476.2L308.9 478.7L309.2 479.8L309.6 479.3L309.9 477.5L310.3 474.8L310.6 471.5L311.0 465.8L311.3 458.3L311.7 450.3L312.0 441.4L312.4 431.5L312.7 422.2L313.1 414.1L313.4 406.5L313.8 399.2L314.1 391.8L314.5 384.2L314.8 376.1L315.2 367.0L315.5 355.2L315.9 341.2L316.2 326.3L316.6 312.1L316.9 300.0L317.3 291.3L317.6 287.5L318.0 287.9L318.3 289.4L318.7 291.7L319.0 294.6L319.4 297.7L319.7 300.7L320.1 303.4L320.4 305.5L320.8 306.9L321.1 308.3L321.5 309.5L321.8 310.7L322.2 311.6L322.5 312.3L322.9 312.6L323.2 312.5L323.6 312.1L323.9 311.4L324.3 310.6L324.6 309.9L325.0 309.3L325.3 308.9L325.7 309.2L326.0 311.4L326.4 314.8L326.7 318.8L327.1 322.8L327.4 325.9L327.8 327.6L328.1 326.7L328.5 322.8L328.8 317.2L329.2 311.5L329.5 306.9L329.9 305.1L330.2 307.7L330.6 314.5L330.9 324.4L331.3 336.1L331.6 348.5L332.0 360.3L332.3 370.3L332.7 379.4L333.0 388.4L333.4 397.4L333.7 406.3L334.1 415.2L334.4 423.9L334.8 432.8L335.1 441.5L335.5 449.5L335.8 457.3L336.2 464.8L336.5 470.6L336.9 474.1L337.2 476.9L337.6 478.7L337.9 478.9L338.3 477.6L338.6 475.2L339.0 472.3L339.3 467.7L339.7 460.8L340.0 452.9L340.4 444.6L340.7 435.0L341.1 425.2L341.4 416.6L341.8 408.6L342.1 400.8L342.5 393.3L342.8 385.7L343.2 378.1L343.5 370.2L343.9 361.3L344.2 350.8L344.6 339.5L344.9 328.2L345.3 317.5L345.6 308.1L346.0 300.9L346.3 296.4L346.7 295.5L347.0 296.5L347.4 298.6L347.7 301.4L348.1 304.5L348.4 307.6L348.8 310.3L349.1 312.4L349.5 314.6L349.8 316.9L350.2 319.1L350.5 321.0L350.9 322.5L351.2 323.4L351.6 323.6L351.9 322.9L352.3 321.5L352.6 319.7L353.0 317.4L353.3 315.1L353.7 312.7L354.0 310.6L354.4 308.9L354.7 307.3L355.1 305.7L355.4 304.1L355.8 302.4L356.1 300.9L356.5 299.5L356.8 298.2L357.2 297.3L357.5 296.6L357.9 296.3L358.2 298.8L358.6 309.4L358.9 325.5L359.3 343.9L359.6 361.6L360.0 375.4L360.3 385.8L360.7 395.2L361.0 403.9L361.4 412.3L361.7 420.6L362.1 429.1L362.4 438.0L362.8 446.7L363.1 454.9L363.5 462.6L363.8 470.2L364.2 476.4L364.5 480.1L364.9 483.0L365.2 485.0L365.6 485.4L365.9 484.3L366.3 482.0L366.6 479.2L367.0 475.0L367.3 468.4L367.7 460.5L368.0 452.4L368.4 442.8L368.7 433.0L369.1 424.3L369.4 416.3L369.8 408.7L370.1 401.3L370.5 393.9L370.8 386.2L371.2 377.9L371.5 368.5L371.9 357.0L372.2 344.0L372.6 330.4L372.9 317.0L373.3 304.5L373.6 293.8L374.0 285.5L374.3 280.5L374.7 279.6L375.0 283.1L375.4 290.1L375.7 299.1L376.1 308.7L376.4 317.5L376.8 324.1L377.1 327.1L377.5 326.4L377.8 324.1L378.2 321.4L378.5 319.3L378.9 318.8L379.2 318.9L379.6 319.1L379.9 319.4L380.3 319.8L380.6 320.3L381.0 320.9L381.3 322.8L381.7 326.0L382.0 330.1L382.4 334.7L382.7 339.4L383.1 343.7L383.4 347.2L383.8 349.5L384.1 350.2L384.5 347.6L384.8 342.0L385.2 334.7L385.5 326.8L385.9 319.6L386.2 314.4L386.6 312.4L386.9 316.4L387.3 326.9L387.6 341.1L388.0 356.4L388.3 370.1L388.7 380.6L389.0 390.0L389.4 399.0L389.7 407.7L390.1 416.3L390.4 424.9L390.8 433.6L391.1 442.5L391.5 450.9L391.8 458.7L392.2 466.5L392.5 473.5L392.9 478.2L393.2 481.3L393.6 483.8L393.9 484.9L394.3 484.4L394.6 482.6L395.0 479.9L395.3 476.6L395.7 470.9L396.0 463.4L396.4 455.4L396.7 446.5L397.1 436.6L397.4 427.3L397.8 419.1L398.1 411.2L398.5 403.6L398.8 396.1L399.2 388.5L399.5 380.7L399.9 372.4L400.2 362.7L400.6 351.7L400.9 339.9L401.3 328.0L401.6 316.5L402.0 305.9L402.3 297.0L402.7 290.2L403.0 286.2L403.4 285.4L403.7 288.9L404.1 295.4L404.4 303.6L404.8 311.8L405.1 318.6L405.5 322.5L405.8 323.2L406.2 323.6L406.5 323.8L406.9 324.0L407.2 324.2L407.6 324.5L407.9 324.8L408.3 325.3L408.6 325.9L409.0 326.7L409.3 327.7L409.7 328.9L410.0 330.7L410.4 333.9L410.7 338.1L411.1 342.6L411.4 346.9L411.8 350.3L412.1 352.1L412.5 351.8L412.8 348.8L413.2 343.6L413.5 337.0L413.9 329.8L414.2 322.7L414.6 316.5L414.9 311.9L415.3 309.5L415.6 312.7L416.0 325.8L416.3 344.3L416.7 363.0L417.0 377.0L417.4 387.4L417.7 396.7L418.1 405.3L418.4 413.6L418.8 421.8L419.1 430.4L419.5 439.2L419.8 447.9L420.2 456.0L420.5 463.7L420.9 471.2L421.2 477.1L421.6 480.6L421.9 483.4L422.3 485.2L422.6 485.3L423.0 484.0L423.3 481.7L423.7 478.8L424.0 474.2L424.4 467.3L424.7 459.4L425.1 451.1L425.4 441.4L425.8 431.7L426.1 423.1L426.5 415.1L426.8 407.5L427.2 400.0L427.5 392.5L427.9 384.7L428.2 376.6L428.6 367.4L428.9 356.5L429.3 344.5L429.6 332.2L430.0 320.2L430.3 309.2L430.7 299.8L431.0 292.8L431.4 288.8L431.7 288.7L432.1 292.9L432.4 300.3L432.8 309.3L433.1 318.2L433.5 325.6L433.8 329.9L434.2 330.1L434.5 328.7L434.9 326.7L435.2 324.8L435.6 323.7L435.9 323.7L436.3 324.1L436.6 324.8L437.0 325.7L437.3 326.7L437.7 328.0L438.0 329.4L438.4 330.9L438.7 332.4L439.1 334.2L439.4 337.2L439.8 340.6L440.1 343.6L440.5 345.3L440.8 344.6L441.2 341.3L441.5 336.1L441.9 329.6L442.2 322.5L442.6 315.5L442.9 309.2L443.3 304.5L443.6 301.9L444.0 303.8L444.3 315.8L444.7 334.2L445.0 354.3L445.4 371.3L445.7 382.6L446.1 392.4L446.4 401.3L446.8 409.6L447.1 417.8L447.5 426.1L447.8 434.9L448.2 443.7L448.5 452.1L448.9 459.8L449.2 467.6L449.6 474.3L449.9 478.7L450.3 481.7L450.6 484.0L451.0 484.9L451.3 484.2L451.7 482.2L452.0 479.5L452.4 476.0L452.7 469.9L453.1 462.3L453.4 454.3L453.8 445.1L454.1 435.2L454.5 426.1L454.8 418.1L455.2 410.7L455.5 403.4L455.9 396.1L456.2 388.4L456.6 380.1L456.9 370.5L457.3 357.8L457.6 342.7L458.0 326.8L458.3 311.2L458.7 297.3L459.0 286.6L459.4 280.4L459.7 279.6L460.1 282.2L460.4 286.9L460.8 292.9L461.1 299.6L461.5 306.2L461.8 312.1L462.2 316.4L462.5 318.5L462.9 318.7L463.2 318.9L463.6 319.0L463.9 319.1L464.3 319.2L464.6 319.4L465.0 319.6L465.3 320.2L465.7 321.4L466.0 323.1L466.4 325.1L466.7 327.4L467.1 329.7L467.4 332.0L467.8 334.1L468.1 336.0L468.5 337.4L468.8 338.2L469.2 338.3L469.5 336.4L469.9 332.6L470.2 327.6L470.6 321.7L470.9 315.7L471.3 310.1L471.6 305.6L472.0 302.5L472.3 301.8L472.7 309.5L473.0 325.7L473.4 345.6L473.7 364.5L474.1 377.8L474.4 388.1L474.8 397.3L475.1 405.8L475.5 414.0L475.8 422.2L476.2 430.8L476.5 439.7L476.9 448.3L477.2 456.2L477.6 464.1L477.9 471.4L478.3 476.9L478.6 480.2L479.0 482.9L479.3 484.5L479.7 484.4L480.0 482.9L480.4 480.5L480.7 477.5L481.1 472.5L481.4 465.4L481.8 457.4L482.1 449.0L482.5 439.2L482.8 429.6L483.2 421.2L483.5 413.5L483.9 406.2L484.2 399.0L484.6 391.5L484.9 383.5L485.3 374.6L485.6 363.4L486.0 349.3L486.3 333.7L486.7 317.7L487.0 302.8L487.4 290.0L487.7 280.7L488.1 276.1L488.4 276.3L488.8 278.2L489.1 281.5L489.5 285.7L489.8 290.6L490.2 295.9L490.5 301.3L490.9 306.5L491.2 311.2L491.6 315.1L491.9 318.1L492.3 321.0L492.6 323.8L493.0 326.7L493.3 329.5L493.7 332.3L494.0 335.0L494.4 337.7L494.7 340.1L495.1 342.5L495.4 344.7L495.8 346.6L496.1 348.3L496.5 349.8L496.8 351.0L497.2 351.9L497.5 352.4L497.9 352.6L498.2 351.6L498.6 349.0L498.9 345.1L499.3 340.7L499.6 336.0L500.0 331.8L500.3 328.4L500.7 326.4L501.0 326.5L501.4 330.7L501.7 338.1L502.1 347.3L502.4 357.1L502.8 366.0L503.1 374.4L503.5 383.3L503.8 392.4L504.2 401.6L504.5 410.8L504.9 419.7L505.2 428.6L505.6 437.3L505.9 445.5L506.3 453.2L506.6 460.8L507.0 467.0L507.3 470.7L507.7 473.6L508.0 475.6L508.4 476.0L508.7 474.9L509.1 472.6L509.4 469.8L509.8 465.6L510.1 459.0L510.5 451.1L510.8 443.0L511.2 433.4L511.5 423.6L511.9 414.8L512.2 406.4L512.6 398.3L512.9 390.4L513.3 382.8L513.6 375.3L514.0 368.1L514.3 360.7L514.7 352.7L515.0 344.2L515.4 335.6L515.7 327.4L516.1 319.7L516.4 313.0L516.8 307.6L517.1 303.8L517.5 302.0L517.8 302.6L518.2 305.4L518.5 309.6L518.9 314.0L519.2 317.8L519.6 320.1L519.9 321.5L520.3 322.6L520.6 323.6L521.0 324.5L521.3 325.4L521.7 326.5L522.0 327.9L522.4 329.9L522.7 332.5L523.1 335.4L523.4 338.1L523.8 340.4L524.1 341.8L524.5 342.1L524.8 341.6L525.2 340.4L525.5 338.6L525.9 336.5L526.2 334.1L526.6 331.5L526.9 328.8L527.3 326.1L527.6 323.6L528.0 321.3L528.3 319.4L528.7 318.0L529.0 317.1L529.4 317.2L529.7 321.7L530.1 330.5L530.4 342.0L530.8 354.2L531.1 365.6L531.5 375.0L531.8 384.1L532.2 393.1L532.5 402.0L532.9 410.9L533.2 419.7L533.6 428.5L533.9 437.4L534.3 445.9L534.6 453.6L535.0 461.4L535.3 468.4L535.7 473.1L536.0 476.2L536.4 478.7L536.7 479.8L537.1 479.3L537.4 477.5L537.8 474.8L538.1 471.5L538.5 465.8L538.8 458.3L539.2 450.3L539.5 441.4L539.9 431.5L540.2 422.2L540.6 413.9L540.9 405.9L541.3 398.2L541.6 390.6L542.0 383.0L542.3 375.4L542.7 367.4L543.0 358.1L543.4 347.7L543.7 337.2L544.1 327.5L544.4 319.6L544.8 314.4L545.1 312.9L545.5 314.9L545.8 318.9L546.2 323.7L546.5 327.9L546.9 330.2L547.2 329.4L547.6 325.5L547.9 320.2L548.3 315.1L548.6 311.9L549.0 312.2L549.3 315.6L549.7 321.2L550.0 327.8L550.4 334.2L550.7 339.3L551.1 342.0L551.4 342.1L551.8 342.0L552.1 341.9L552.5 341.7L552.8 341.4L553.2 341.1L553.5 340.7L553.9 340.2L554.2 339.7L554.6 339.1L554.9 338.5L555.3 336.7L555.6 332.4L556.0 326.1L556.3 318.3L556.7 309.6L557.0 300.7L557.4 292.0L557.7 284.3L558.1 278.1L558.4 273.9L558.8 272.4L559.1 297.7L559.5 346.1L559.8 376.8L560.2 389.7L560.5 399.6L560.9 407.5L561.2 414.5L561.6 421.5L561.9 429.6L562.3 438.4L562.6 447.1L563.0 455.1L563.3 462.9L563.7 470.4L564.0 476.3L564.4 479.8L564.7 482.6L565.1 484.4L565.4 484.5L565.8 483.2L566.1 480.9L566.5 478.0L566.8 473.4L567.2 466.5L567.5 458.6L567.9 450.3L568.2 440.6L568.6 430.9L568.9 422.3L569.3 414.5L569.6 407.0L570.0 399.7L570.3 392.2L570.7 384.4L571.0 375.9L571.4 365.8L571.7 353.2L572.1 339.3L572.4 325.0L572.8 311.5L573.1 299.9L573.5 291.2L573.8 286.6L574.2 286.8L574.5 291.4L574.9 298.9L575.2 308.0L575.6 317.1L575.9 325.0L576.3 330.3L576.6 333.8L577.0 337.1L577.3 340.2L577.7 343.0L578.0 345.6L578.4 347.9L578.7 349.8L579.1 351.3L579.4 352.5L579.8 353.2L580.1 353.5L580.5 353.8L580.8 354.0L581.2 354.1L581.5 354.3L581.9 354.5L582.2 354.8L582.6 355.6L582.9 357.7L583.3 360.4L583.6 363.1L584.0 364.9L584.3 364.9L584.7 362.0L585.0 357.0L585.4 350.6L585.7 344.0L586.1 338.1L586.4 333.9L586.8 332.2L587.1 336.3L587.5 346.4L587.8 359.1L588.2 371.2L588.5 380.7L588.9 389.9L589.2 398.9L589.6 407.7L589.9 416.5L590.3 425.3L590.6 434.1L591.0 442.9L591.3 451.3L591.7 459.0L592.0 466.8L592.4 473.5L592.7 477.9L593.1 480.9L593.4 483.2L593.8 484.1L594.1 483.4L594.5 481.4L594.8 478.7L595.2 475.2L595.5 469.1L595.9 461.5L596.2 453.5L596.6 444.3L596.9 434.4L597.3 425.3L597.6 417.0L598.0 409.1L598.3 401.5L598.7 393.9L599.0 386.3L599.4 378.6L599.7 370.4L600.1 360.6L600.4 349.8L600.8 339.0L601.1 329.2L601.5 321.3L601.8 316.4L602.2 315.4L602.5 317.7L602.9 322.2L603.2 328.0L603.6 334.2L603.9 340.1L604.3 344.7L604.6 347.5L605.0 349.8L605.3 352.0L605.7 354.1L606.0 356.1L606.4 357.9L606.7 359.4L607.1 360.7L607.4 361.7L607.8 362.3L608.1 362.5L608.5 362.4L608.8 362.0L609.2 361.4L609.5 360.5L609.9 359.4L610.2 358.3L610.6 357.0L610.9 355.8L611.3 354.5L611.6 352.9L612.0 350.8L612.3 348.4L612.7 345.7L613.0 342.9L613.4 340.2L613.7 337.7L614.1 335.6L614.4 334.1L614.8 333.2L615.1 333.6L615.5 338.7L615.8 347.5L616.2 358.3L616.5 369.1L616.9 378.4L617.2 387.3L617.6 396.3L617.9 405.3L618.3 414.4L618.6 423.4L619.0 432.2L619.3 441.0L619.7 449.7L620.0 457.6L620.4 465.4L620.7 472.7L621.1 478.2L621.4 481.6L621.8 484.2L622.1 485.8L622.5 485.8L622.8 484.3L623.2 481.8L623.5 478.8L623.9 473.8L624.2 466.7L624.6 458.8L624.9 450.3L625.3 440.5L625.6 430.9L626.0 422.5L626.3 414.7L626.7 407.3L627.0 400.0L627.4 392.5L627.7 384.6L628.1 376.0L628.4 365.4L628.8 352.4L629.1 338.2L629.5 324.0L629.8 310.9L630.2 300.1L630.5 292.8L630.9 290.1L631.2 291.9L631.6 296.6L631.9 303.4L632.3 311.2L632.6 319.2L633.0 326.3L633.3 331.7L633.7 334.5L634.0 334.6L634.4 334.4L634.7 334.1L635.1 333.7L635.4 333.4L635.8 333.1L636.1 333.0L636.5 333.4L636.8 334.6L637.2 336.4L637.5 338.7L637.9 341.3L638.2 343.9L638.6 346.5L638.9 348.7L639.3 350.5L639.6 351.6L640.0 351.7L640.3 350.3L640.7 347.4L641.0 343.4L641.4 338.7L641.7 333.6L642.1 328.6L642.4 324.1L642.8 320.4L643.1 317.8L643.5 316.9L643.8 325.0L644.2 343.5L644.5 363.9L644.9 378.1L645.2 388.6L645.6 397.8L645.9 406.3L646.3 414.4L646.6 422.5L647.0 431.1L647.3 440.0L647.7 448.6L648.0 456.5L648.4 464.3L648.7 471.7L649.1 477.2L649.4 480.5L649.8 483.2L650.1 484.8L650.5 484.7L650.8 483.2L651.2 480.7L651.5 477.8L651.9 472.8L652.2 465.7L652.6 457.7L652.9 449.2L653.3 439.4L653.6 429.8L654.0 421.4L654.3 413.3L654.7 405.6L655.0 398.1L655.4 390.5L655.7 382.9L656.1 374.9L656.4 365.9L656.8 355.4L657.1 344.3L657.5 332.9L657.8 322.0L658.2 312.1L658.5 303.9L658.9 297.9L659.2 294.7L659.6 294.7L659.9 296.7L660.3 300.1L660.6 304.6L661.0 309.8L661.3 315.1L661.7 320.4L662.0 325.1L662.4 328.8L662.7 331.3L663.1 333.6L663.4 335.9L663.8 338.0L664.1 339.9L664.5 341.5L664.8 342.8L665.2 343.5L665.5 343.8L665.9 343.4L666.2 342.5L666.6 341.2L666.9 339.5L667.3 337.5L667.6 335.3L668.0 333.0L668.3 330.7L668.7 328.4L669.0 326.2L669.4 324.2L669.7 322.4L670.1 321.0L670.4 320.1L670.8 319.6L671.1 320.2L671.5 322.8L671.8 327.2L672.2 333.1L672.5 340.0L672.9 347.8L673.2 355.9L673.6 364.1L673.9 372.0L674.3 379.5L674.6 387.9L675.0 397.0L675.3 406.4L675.7 415.8L676.0 425.0L676.4 433.9L676.7 442.7L677.1 451.2L677.4 459.0L677.8 466.8L678.1 473.7L678.5 478.5L678.8 481.5L679.2 483.8L679.5 485.1L679.9 485.5L680.2 485.8L680.6 488.0L680.9 492.9L681.3 459.2L681.6 448.8L682.0 442.5L682.3 438.2L682.7 433.9L683.0 427.8L683.4 419.8L683.7 412.2L684.1 404.8L684.4 397.2L684.8 389.5L685.1 381.3L685.5 372.5L685.8 361.3L686.2 348.1L686.5 334.2L686.9 320.7L687.2 308.9L687.6 300.0L687.9 295.2L688.3 295.3L688.6 299.3L689.0 305.9L689.3 313.8L689.7 321.8L690.0 328.7L690.4 333.3L690.7 334.7L691.1 335.3L691.4 335.7L691.8 336.0L692.1 336.3L692.5 336.7L692.8 337.3L693.2 338.0L693.5 338.7L693.9 339.5L694.2 340.4L694.6 341.5L694.9 342.6L695.3 343.9L695.6 345.3L696.0 347.0L696.3 350.3L696.7 354.5L697.0 358.4L697.4 360.5L697.7 359.9L698.1 356.8L698.4 351.9L698.8 345.9L699.1 339.5L699.5 333.4L699.8 328.3L700.2 324.9L700.5 324.0L700.9 332.0L701.2 347.5L701.6 364.0L701.9 375.9L702.3 385.7L702.6 394.8L703.0 403.4L703.3 411.7L703.7 420.2L704.0 428.9L704.4 437.7L704.7 446.3L705.1 454.1L705.4 461.9L705.8 469.1L706.1 474.2L706.5 477.4L706.8 480.0L707.2 481.4L707.5 481.1L707.9 479.4L708.2 476.8L708.6 473.7L708.9 468.4L709.3 461.0L709.6 453.1L710.0 444.4L710.3 434.5L710.7 425.1L711.0 416.6L711.4 408.4L711.7 400.5L712.1 392.7L712.4 385.2L712.8 377.7L713.1 370.3L713.5 362.4L713.8 353.6L714.2 344.5L714.5 335.4L714.9 326.7L715.2 318.6L715.6 311.7L715.9 306.1L716.3 302.4L716.6 300.8L717.0 301.1L717.3 302.2L717.7 303.9L718.0 306.1L718.4 308.6L718.7 311.2L719.1 314.0L719.4 316.6L719.8 319.0L720.1 321.2L720.5 323.8L720.8 326.5L721.2 329.4L721.5 332.1L721.9 334.7L722.2 336.9L722.6 338.5L722.9 339.5L723.3 339.7L723.6 339.1L724.0 338.0L724.3 336.3L724.7 334.3L725.0 332.1L725.4 329.7L725.7 327.3L726.1 325.0L726.4 323.0L726.8 321.4L727.1 320.2L727.5 319.6L727.8 319.6L728.2 319.6L728.5 319.6L728.9 319.6L729.2 319.6L729.6 320.5L729.9 326.0L730.3 334.9L730.6 345.6L731.0 356.4L731.3 365.9L731.7 374.7L732.0 383.7L732.4 392.8L732.7 401.8L733.1 410.8L733.4 419.6L733.8 428.5L734.1 437.2L734.5 445.2L734.8 453.0L735.2 460.5L735.5 466.3L735.9 469.8L736.2 472.6L736.6 474.4L736.9 474.6L737.3 473.3L737.6 470.9L738.0 468.0L738.3 463.4L738.7 456.6L739.0 448.6L739.4 440.4L739.7 430.7L740.1 420.9L740.4 412.5L740.8 405.0L741.1 398.0L741.5 391.1L741.8 383.8L742.2 375.6L742.5 366.2L742.9 352.6L743.2 333.6L743.6 313.9L743.9 298.2L744.3 291.4L744.6 290.9L745.0 290.7L745.3 290.3L745.7 288.6L746.0 281.8L746.4 271.3L746.7 259.4L747.1 248.2L747.4 239.9L747.8 236.7L748.1 247.9L748.5 270.8L748.8 289.1L749.2 290.3L749.5 283.9L749.9 274.1L750.2 263.5L750.6 254.9L750.9 250.7L751.3 258.5L751.6 279.4L752.0 298.7L752.3 304.3L752.7 305.8L753.0 306.7L753.4 307.4L753.7 308.3L754.1 309.8L754.4 312.0L754.8 314.3L755.1 315.7L755.5 315.5L755.8 313.2L756.2 309.5L756.5 305.0L756.9 300.4L757.2 296.4L757.6 293.6L757.9 293.0L758.3 305.4L758.6 329.4L759.0 355.2L759.3 372.9L759.7 384.1L760.0 393.7L760.4 402.0L760.7 409.9L761.1 417.7L761.4 426.1L761.8 434.9L762.1 443.6L762.5 451.7L762.8 459.4L763.2 466.9L763.5 472.8L763.9 476.3L764.2 479.1L764.6 480.9L764.9 481.0L765.3 479.7L765.6 477.4L766.0 474.5L766.3 469.9L766.7 463.0L767.0 455.1L767.4 446.8L767.7 437.1L768.1 427.4L768.4 418.9L768.8 411.5L769.1 404.5L769.5 397.5L769.8 390.2L770.2 382.0L770.5 372.6L770.9 359.6L771.2 341.4L771.6 320.4L771.9 299.4L772.3 281.1L772.6 268.2L773.0 263.2L773.3 265.0L773.7 269.8L774.0 276.8L774.4 285.0L774.7 293.6L775.1 301.7L775.4 308.4L775.8 313.0L776.1 314.7L776.5 315.7L776.8 316.6L777.2 317.2L777.5 317.7L777.9 318.2L778.2 318.6L778.6 319.0L778.9 319.4L779.3 319.9L779.6 320.5L780.0 321.2L780.3 322.1L780.7 323.6L781.0 326.0L781.4 328.7L781.7 331.2L782.1 332.7L782.4 332.8L782.8 330.7L783.1 326.9L783.5 322.0L783.8 316.7L784.2 311.6L784.5 307.3L784.9 304.4L785.2 303.6L785.6 308.4L785.9 319.1L786.3 333.5L786.6 349.2L787.0 364.0L787.3 375.8L787.7 385.5L788.0 394.7L788.4 403.5L788.7 412.1L789.1 420.6L789.4 429.3L789.8 438.2L790.1 446.9L790.5 454.9L790.8 462.7L791.2 470.2L791.5 476.0L791.9 479.5L792.2 482.3L792.6 484.1L792.9 484.3L793.3 482.9L793.6 480.6L794.0 477.7L794.3 473.1L794.7 466.2L795.0 458.3L795.4 450.0L795.7 440.3L796.1 430.6L796.4 422.0L796.8 414.2L797.1 406.6L797.5 399.3L797.8 391.8L798.2 384.0L798.5 375.6L798.9 365.8L799.2 353.8L799.6 340.5L799.9 326.7L800.3 313.3L800.6 301.0L801.0 290.8L801.3 283.6L801.7 280.1L802.0 280.5L802.4 283.1L802.7 287.2L803.1 292.4L803.4 298.2L803.8 304.0L804.1 309.3L804.5 313.6L804.8 316.3L805.2 317.4L805.5 318.1L805.9 318.6L806.2 319.1L806.6 319.4L806.9 319.7L807.3 319.9L807.6 320.2L808.0 320.6L808.3 321.0L808.7 321.6L809.0 322.4L809.4 324.0L809.7 328.3L810.1 334.4L810.4 340.9L810.8 346.5L811.1 349.8L811.5 349.7L811.8 346.5L812.2 341.2L812.5 334.8L812.9 328.1L813.2 322.1L813.6 317.6L813.9 315.6L814.3 321.8L814.6 339.8L815.0 360.9L815.3 376.6L815.7 387.2L816.0 396.6L816.4 405.2L816.7 413.3L817.1 421.3L817.4 429.8L817.8 438.7L818.1 447.4L818.5 455.4L818.8 463.2L819.2 470.7L819.5 476.5L819.9 480.0L820.2 482.8L820.6 484.6L820.9 484.8L821.3 483.5L821.6 481.1L822.0 478.2L822.3 473.6L822.7 466.8L823.0 458.8L823.4 450.5L823.7 440.9L824.1 431.1L824.4 422.5L824.8 414.5L825.1 406.8L825.5 399.2L825.8 391.7L826.2 384.0L826.5 376.1L826.9 367.2L827.2 356.8L827.6 345.5L827.9 333.9L828.3 322.5L828.6 312.0L829.0 302.9L829.3 295.8L829.7 291.4L830.0 290.1L830.4 291.8L830.7 295.7L831.1 301.1L831.4 307.4L831.8 314.0L832.1 320.2L832.5 325.4L832.8 329.0L833.2 330.3L833.5 330.3L833.9 330.0L834.2 329.7L834.6 329.3L834.9 328.9L835.3 328.5L835.6 328.1L836.0 327.8L836.3 327.7L836.7 327.7L837.0 327.7L837.4 327.7L837.7 327.7L838.1 327.7L838.4 327.7L838.8 327.7L839.1 327.7L839.5 327.7L839.8 327.6L840.2 324.3L840.5 316.7L840.9 306.1L841.2 293.6L841.6 280.4L841.9 267.7L842.3 256.8L842.6 248.7L843.0 244.7L843.3 266.5L843.7 334.1L844.0 376.4L844.4 390.2L844.7 400.3L845.1 408.0L845.4 414.5L845.8 421.1L846.1 429.0L846.5 437.9L846.8 446.6L847.2 454.6L847.5 462.4L847.9 469.9L848.2 475.7L848.6 479.2L848.9 482.0L849.3 483.8L849.6 484.0L850.0 482.7L850.3 480.3L850.7 477.4L851.0 472.8L851.4 465.9L851.7 458.0L852.1 449.7L852.4 440.1L852.8 430.3L853.1 421.7L853.5 413.7L853.8 405.9L854.2 398.3L854.5 390.8L854.9 383.1L855.2 375.2L855.6 366.5L855.9 356.2L856.3 345.1L856.6 333.8L857.0 323.0L857.3 313.2L857.7 305.2L858.0 299.4L858.4 296.7L858.7 297.3L859.1 300.4L859.4 305.3L859.8 311.3L860.1 317.8L860.5 323.9L860.8 328.9L861.2 332.2L861.5 333.3L861.9 333.8L862.2 334.2L862.6 334.5L862.9 334.7L863.3 335.0L863.6 335.3L864.0 335.7L864.3 336.3L864.7 337.1L865.0 338.0L865.4 339.0L865.7 339.8L866.1 340.5L866.4 341.0L866.8 341.0L867.1 339.2L867.5 335.6L867.8 330.3L868.2 323.9L868.5 316.7L868.9 309.0L869.2 301.1L869.6 293.6L869.9 286.6L870.3 280.7L870.6 276.1L871.0 273.2L871.3 273.0L871.7 304.0L872.0 352.2L872.4 378.6L872.7 391.0L873.1 400.6L873.4 408.3L873.8 415.2L874.1 422.3L874.5 430.5L874.8 439.4L875.2 448.1L875.5 456.0L875.9 463.8L876.2 471.1L876.6 476.6L876.9 479.9L877.3 482.6L877.6 484.2L878.0 484.1L878.3 482.6L878.7 480.2L879.0 477.2L879.4 472.2L879.7 465.1L880.1 457.1L880.4 448.7L880.8 438.9L881.1 429.3L881.5 420.8L881.8 412.8L882.2 405.1L882.5 397.6L882.9 390.0L883.2 382.3L883.6 374.4L883.9 365.2L884.3 354.6L884.6 343.3L885.0 331.9L885.3 321.2L885.7 311.7L886.0 304.3L886.4 299.5L886.7 298.2L887.1 300.4L887.4 305.5L887.8 312.3L888.1 319.9L888.5 327.4L888.8 333.6L889.2 337.8L889.5 339.5L889.9 340.9L890.2 341.9L890.6 342.8L890.9 343.6L891.3 344.4L891.6 345.3L892.0 346.4L892.3 347.8L892.7 349.5L893.0 351.4L893.4 353.4L893.7 355.5L894.1 357.5L894.4 359.3L894.8 361.0L895.1 362.4L895.5 363.3L895.8 363.8L896.2 363.5L896.5 361.3L896.9 357.4L897.2 352.4L897.6 346.8L897.9 341.0L898.3 335.6L898.6 331.0L899.0 327.8L899.3 326.3L899.7 329.6L900.0 339.9L900.4 353.4L900.7 366.5L901.1 376.6L901.4 385.9L901.8 394.9L902.1 403.7L902.5 412.4L902.8 421.1L903.2 429.9L903.5 438.7L903.9 447.2L904.2 454.9L904.6 462.8L904.9 469.7L905.3 474.5L905.6 477.6L906.0 480.0L906.3 481.2L906.7 480.6L907.0 478.8L907.4 476.2L907.7 472.9L908.1 467.1L908.4 459.7L908.8 451.7L909.1 442.8L909.5 432.8L909.8 423.6L910.2 415.3L910.5 407.3L910.9 399.6L911.2 392.1L911.6 384.5L911.9 376.8L912.3 368.7L912.6 359.0L913.0 348.2L913.3 337.3L913.7 327.4L914.0 319.6L914.4 315.0L914.7 314.3L915.1 314.8L915.4 315.8L915.8 317.1L916.1 318.6L916.5 320.2L916.8 321.7L917.2 323.1L917.5 324.2L917.9 325.0L918.2 325.4L918.6 325.7L918.9 326.0L919.3 326.3L919.6 326.5L920.0 326.8L920.3 327.1L920.7 327.5L921.0 328.1L921.4 328.9L921.7 330.0L922.1 331.3L922.4 332.8L922.8 334.5L923.1 336.3L923.5 338.2L923.8 340.2" stroke="#3592d3" stroke-width="1.05" fill="none"/><circle cx="258.50" cy="547.3" r="4.3" fill="#fac11a"/><text x="268.30" y="550.2" fill="#444">Cloudflare</text><circle cx="357.35" cy="547.3" r="4.3" fill="#c85ae5"/><text x="367.15" y="550.2" fill="#444">Active Probing</text><circle cx="456.20" cy="547.3" r="4.3" fill="#52c862"/><text x="466.00" y="550.2" fill="#444">BGP</text><circle cx="555.05" cy="547.3" r="4.3" fill="#ff6565"/><text x="564.85" y="550.2" fill="#444">Telescope</text><circle cx="653.90" cy="547.3" r="4.3" fill="#1584cd"/><text x="663.70" y="550.2" fill="#444">Google (Search)</text></svg>
</body></html>
